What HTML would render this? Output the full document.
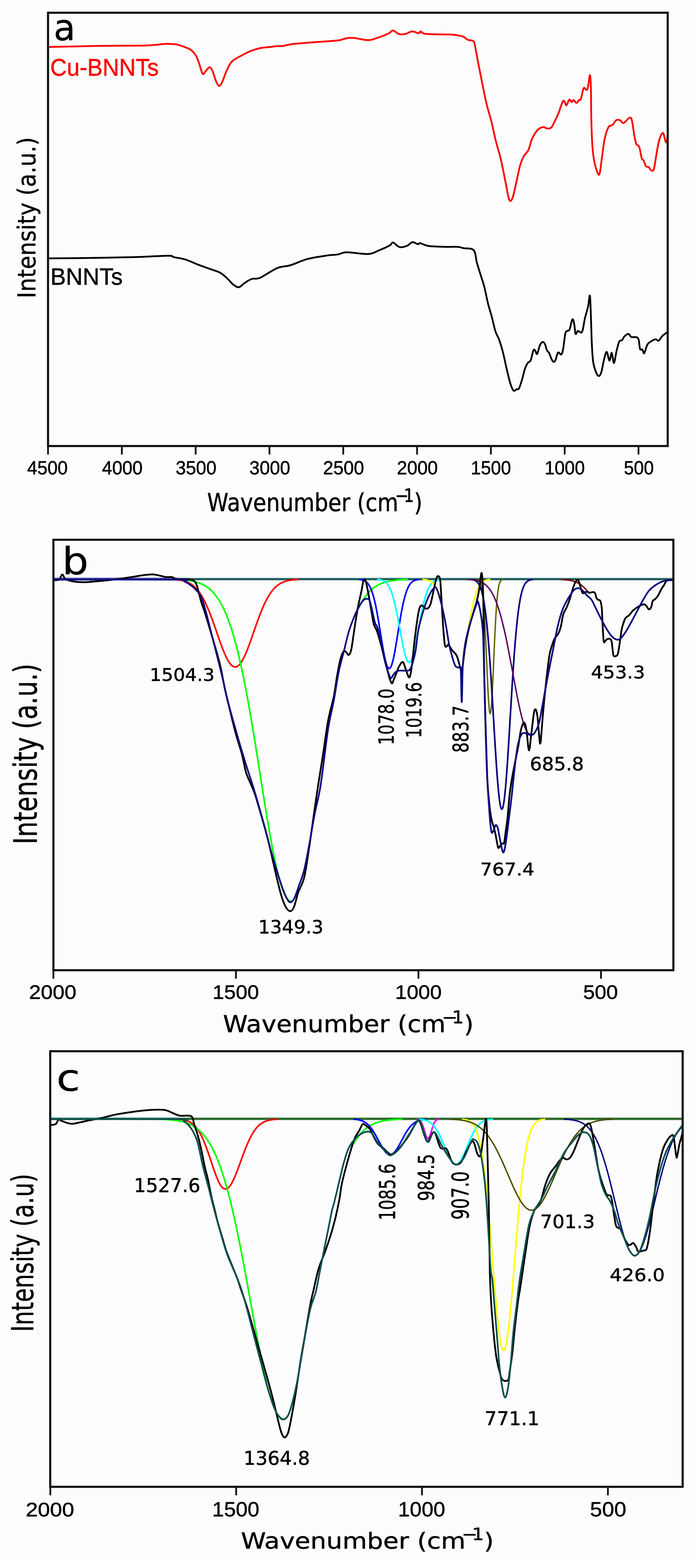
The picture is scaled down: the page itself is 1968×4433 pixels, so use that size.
<!DOCTYPE html><html><head><meta charset="utf-8"><title>FTIR spectra of BNNTs and Cu-BNNTs</title>
<style>html,body{margin:0;padding:0;background:#fff;}body{width:1968px;height:4433px;overflow:hidden;}svg{display:block;}</style></head><body>
<svg width="1968" height="4433" viewBox="0 0 1968 4433">
<rect x="8" y="2" width="1960" height="4414" fill="#fdfdfd"/>
<g fill="none" stroke-linejoin="round" stroke-linecap="round">
<path d="M136,132.8C146.7,132.6 172.7,132.1 200,131.5C227.3,130.9 266.7,129.9 300,129.5C333.3,129.1 377.5,129.4 400,129C422.5,128.6 423.3,128 435,127.2C446.7,126.4 459.5,124.3 470,124C480.5,123.7 489.3,124 498,125.5C506.7,127 515.4,130.4 522.4,133C529.4,135.6 534.8,137.2 540,141.2C545.2,145.2 550,150.9 553.8,157C557.6,163.1 559.4,169.4 562.6,178C565.8,186.6 569.8,204.9 573,208.7C576.2,212.5 578.6,203.7 581.8,200.6C585,197.5 589.1,190 592.3,190C595.5,190 598.1,194.5 601,200.6C603.9,206.7 606.9,219.8 609.8,226.8C612.7,233.8 615.6,241.4 618.5,242.6C621.4,243.8 623.5,241.1 627.3,233.8C631.1,226.5 636.6,208.8 641.3,198.9C645.9,189 648.8,181.1 655.2,174.4C661.6,167.7 671,163.6 679.7,158.7C688.5,153.8 698.4,148.5 707.7,144.7C717,140.9 725.8,138.1 735.7,136C745.6,133.9 759.6,133.3 767,132.4C774.4,131.5 774.5,131.2 780,130.8C785.5,130.4 791.3,130.8 800,129.7C808.7,128.6 813.9,126 832.4,124C850.9,122 890,119.4 911,117.7C932,116 946.9,115.6 958.3,114C969.7,112.4 972.3,109.3 979.3,108.2C986.3,107.1 989.7,106.3 1000.2,107.2C1010.7,108.1 1030,113.9 1042.2,113.5C1054.5,113.1 1064.1,107.8 1073.7,104.6C1083.3,101.3 1093.6,97.1 1099.9,94C1106.2,90.9 1106.6,85.8 1111.4,86.2C1116.2,86.7 1122.8,95.1 1128.7,96.7C1134.6,98.3 1140.9,97 1147,95.7C1153.1,94.4 1159.3,89.1 1165.4,88.8C1171.5,88.5 1179.9,94 1183.8,94C1187.7,94 1186.4,88.6 1189,88.8C1191.6,89 1193.4,93.8 1199.5,95.1C1205.6,96.4 1212.6,96.2 1225.7,96.7C1238.8,97.2 1266,97.1 1278.2,97.8C1290.4,98.5 1293.7,99.9 1299.1,100.9C1304.5,102 1306.4,102.1 1310.5,104.1C1314.6,106.1 1319.2,110.9 1323.6,112.8C1328,114.7 1333.6,113.4 1336.7,115.4C1339.8,117.4 1339.4,113.9 1342,124.6C1344.6,135.3 1349,161.8 1352.5,179.7C1356,197.6 1359,212.9 1362.9,232.1C1366.8,251.3 1371.7,276.6 1376.1,295C1380.5,313.4 1384.8,324.8 1389.2,342.3C1393.6,359.8 1397.9,382.5 1402.3,400C1406.7,417.5 1411,428.8 1415.4,447.2C1419.8,465.6 1424.8,491.8 1428.5,510.1C1432.2,528.5 1435.2,547.6 1437.7,557.3C1440.2,567 1441.5,568.7 1443.7,568.3C1445.9,567.9 1448.1,563.5 1450.8,554.7C1453.5,545.9 1456.7,529.8 1460,515.4C1463.3,501 1467,480.4 1470.5,468.1C1474,455.9 1477.1,449.2 1481,441.9C1484.9,434.5 1490.2,432.3 1494.1,424C1498,415.7 1500.2,401.6 1504.6,392.1C1509,382.6 1515.1,372.7 1520.3,367.2C1525.5,361.7 1531.6,360 1536,359.3C1540.4,358.6 1543,362.8 1546.5,363.2C1550,363.6 1554.4,363.2 1557,361.9C1559.6,360.6 1559.7,360 1562.3,355.4C1564.9,350.8 1569.8,340.6 1572.8,334.4C1575.8,328.2 1577.9,323.6 1580,318.2C1582.1,312.8 1583.4,307.4 1585.4,302C1587.4,296.6 1590.4,288.2 1592.2,285.7C1594,283.2 1594.7,285 1596.3,287C1597.9,289 1599.5,298.8 1601.7,297.9C1604,297 1607.3,283.2 1609.8,281.6C1612.3,280 1614.6,288.2 1616.6,288.4C1618.6,288.6 1619.8,282.6 1622,283C1624.2,283.4 1627.6,291.1 1630.1,291.1C1632.6,291.1 1634.9,284.8 1636.9,283C1638.9,281.2 1640,285.9 1642.3,280.3C1644.6,274.7 1647.8,253.4 1650.5,249.1C1653.2,244.8 1656.6,255.2 1658.6,254.5C1660.6,253.8 1661.1,252.1 1662.7,245C1664.3,237.9 1666.8,211.5 1668.1,212C1669.4,212.5 1670.1,226 1670.8,247.8C1671.5,269.6 1671.4,315.5 1672.1,342.6C1672.8,369.7 1673.5,391.4 1674.9,410.4C1676.3,429.4 1677.6,442.8 1680.3,456.4C1683,469.9 1688.4,486.7 1691.1,491.7C1693.8,496.7 1694.7,493.9 1696.5,486.2C1698.3,478.5 1699.7,461.4 1702,445.6C1704.3,429.8 1706.9,405.8 1710.1,391.4C1713.2,376.9 1717.3,365.2 1720.9,358.9C1724.5,352.6 1728.2,356.6 1731.8,353.4C1735.4,350.2 1739,342.1 1742.6,339.9C1746.2,337.6 1750.2,338.5 1753.4,339.9C1756.6,341.2 1758.9,347.6 1761.6,348C1764.3,348.4 1767,344.9 1769.7,342.6C1772.4,340.4 1775.1,335.4 1777.8,334.5C1780.5,333.6 1783.3,328.6 1786,337.2C1788.7,345.8 1791.8,374.3 1794.1,386C1796.3,397.7 1797.2,402.6 1799.5,407.6C1801.8,412.6 1805.1,409.2 1807.6,415.8C1810.1,422.4 1812.4,440.6 1814.4,446.9C1816.4,453.2 1817.8,449.8 1819.8,453.7C1821.8,457.6 1824.1,466.8 1826.6,470C1829.1,473.2 1832.4,470.9 1834.7,472.7C1837,474.5 1837.9,479.7 1840.2,480.8C1842.5,481.9 1845.8,485.8 1848.3,479.5C1850.8,473.2 1852.8,455.3 1855.1,442.9C1857.3,430.5 1859.5,414.8 1861.8,404.9C1864,395 1866.3,388 1868.6,383.3C1870.9,378.6 1873.4,374.2 1875.4,376.5C1877.4,378.8 1879.2,392.5 1880.8,396.8C1882.4,401.1 1883.8,404.9 1884.9,402.2C1886,399.5 1887.1,384.1 1887.6,380.5" stroke="#ff0000" stroke-width="5.0"/>
<path d="M136,730.5C161.2,730.2 244.6,729.5 287.3,728.8C330,728.1 360.7,727.5 392.2,726.5C423.7,725.5 459.5,722.8 476.1,722.9C492.7,723 483.9,725.4 491.8,727.1C499.7,728.9 511.9,729.9 523.3,733.4C534.7,736.9 548.6,743.7 560,748.1C571.4,752.5 581,755.8 591.5,759.6C602,763.5 614.2,766.4 622.9,771.2C631.6,776 637.8,782.9 643.9,788.5C650,794.1 654.4,800.7 659.6,804.6C664.9,808.5 670.1,812.8 675.4,812.1C680.6,811.4 685,804.4 691.1,800.5C697.2,796.6 704.8,791 712.1,788.5C719.4,786 723.1,790.6 735.1,785.5C747.1,780.4 769.7,763.8 784,757.9C798.3,752 806.5,754.3 820.8,750C835.1,745.7 852.4,736.8 869.7,732.2C887,727.6 910.5,724.5 924.8,722.4C939.1,720.3 946.2,720.9 955.4,719.4C964.6,717.9 965.6,713.4 979.9,713.2C994.2,713 1025.8,719 1041.1,718.1C1056.4,717.2 1061.5,711.8 1071.7,707.7C1081.9,703.6 1095.7,697.4 1102.3,693.7C1108.9,690 1106.9,684.9 1111.5,685.7C1116.1,686.5 1123.2,697.1 1129.8,698.6C1136.4,700.1 1145.1,697.2 1151.2,694.9C1157.3,692.5 1161.4,685.2 1166.5,684.5C1171.6,683.8 1178.2,690.1 1181.8,690.6C1185.4,691.1 1182.9,686.7 1188,687.5C1193.1,688.3 1200.2,693.8 1212.4,695.5C1224.6,697.2 1247.6,697.5 1261.4,697.9C1275.2,698.3 1286.8,697.3 1295,697.9C1303.2,698.5 1302.9,700.1 1310.3,701.6C1317.7,703.1 1332.8,700.2 1339.2,707C1345.6,713.8 1345.1,730.9 1348.4,742.5C1351.7,754.1 1355.3,765.1 1358.8,776.5C1362.3,787.9 1365.8,797.1 1369.3,810.6C1372.8,824.1 1376.3,843.8 1379.8,857.8C1383.3,871.8 1386.8,881.5 1390.3,894.6C1393.8,907.7 1397.3,925.6 1400.8,936.5C1404.3,947.4 1407.8,950.4 1411.3,960.1C1414.8,969.8 1418.3,981 1421.8,994.6C1425.3,1008.2 1428.8,1026.6 1432.3,1041.4C1435.8,1056.2 1439.5,1072.9 1442.8,1083.4C1446.1,1093.9 1449,1101.6 1452,1104.4C1455,1107.2 1458.5,1101.5 1461.1,1100.4C1463.7,1099.3 1465.1,1102.8 1467.7,1097.8C1470.3,1092.8 1474.1,1079.7 1476.9,1070.3C1479.7,1060.9 1482.1,1048.8 1484.7,1041.4C1487.3,1034 1490,1029.4 1492.6,1025.7C1495.2,1022 1497.9,1025 1500.5,1019.1C1503.1,1013.2 1506.1,994.9 1508.3,990.3C1510.5,985.7 1511.8,989.9 1513.6,991.6C1515.3,993.4 1516.6,1003.4 1518.8,1000.8C1521,998.2 1524.1,981.6 1526.7,975.9C1529.3,970.2 1532.2,967.2 1534.6,966.7C1537,966.2 1539.1,969.3 1541.1,973.2C1543.1,977.1 1544.4,986.1 1546.4,990.3C1548.4,994.5 1550.7,994.1 1552.9,998.2C1555.1,1002.4 1557.3,1011.1 1559.5,1015.2C1561.7,1019.4 1564,1022.9 1566,1023.1C1568,1023.3 1569.3,1020.9 1571.3,1016.5C1573.3,1012.1 1575.2,999.2 1577.8,996.8C1580.4,994.4 1584.6,1003.8 1587,1002.1C1589.4,1000.4 1590.3,996.5 1592.3,986.4C1594.3,976.3 1596.6,950.3 1598.8,941.8C1601,933.3 1603.4,937 1605.4,935.2C1607.4,933.5 1608.4,936.7 1610.6,931.3C1612.8,925.9 1616.2,905.4 1618.4,902.9C1620.6,900.4 1622.1,909.2 1623.6,916.1C1625.1,923 1625.8,940.7 1627.5,944C1629.2,947.3 1631,936.7 1634.1,935.7C1637.2,934.8 1642.6,944.2 1645.9,938.3C1649.2,932.4 1651,912.3 1653.8,900.3C1656.6,888.3 1660.5,876.9 1662.9,866.2C1665.3,855.5 1666.7,831.6 1668,836C1669.3,840.4 1669.9,870 1670.8,892.5C1671.7,915 1672.3,949.2 1673.4,971.1C1674.5,993 1675.2,1010 1677.4,1024C1679.6,1038 1683.7,1048.5 1686.5,1055C1689.3,1061.5 1692,1063.8 1694.4,1062.9C1696.8,1062 1698.8,1057.2 1701,1049.8C1703.2,1042.4 1705.1,1027.5 1707.5,1018.3C1709.9,1009.1 1712.8,994.5 1715.4,994.7C1718,994.9 1720.9,1019.2 1723.3,1019.6C1725.7,1020 1727.7,996.3 1729.8,997.4C1731.9,998.5 1733.7,1026.7 1735.9,1026.2C1738.1,1025.8 1740.4,1004.8 1742.9,994.7C1745.4,984.7 1748.2,971.4 1750.8,965.9C1753.4,960.4 1756.3,964.4 1758.7,962C1761.1,959.6 1762.2,954.5 1765.2,951.5C1768.2,948.5 1773.7,943.8 1777,944C1780.3,944.2 1781.2,951.2 1784.9,952.8C1788.6,954.3 1795.8,952 1799.3,953.3C1802.8,954.6 1804.2,955 1805.9,960.6C1807.7,966.2 1808,982.3 1809.8,986.9C1811.5,991.5 1814.4,986.2 1816.4,988.2C1818.4,990.2 1819.2,1001.1 1821.6,998.7C1824,996.3 1827.1,979.7 1830.8,973.8C1834.5,967.9 1840,965.7 1843.9,963.3C1847.8,960.9 1851.3,959.3 1854.4,959.3C1857.5,959.3 1859.2,964.8 1862.3,963.3C1865.4,961.8 1868.9,954 1872.8,950.1C1876.7,946.2 1883.7,941.4 1885.9,939.7" stroke="#000" stroke-width="5.0"/>
</g>
<rect x="135.8" y="36" width="1752.2" height="1225" fill="none" stroke="#111" stroke-width="6"/>
<line x1="135.8" y1="1261" x2="135.8" y2="1285" stroke="#111" stroke-width="5"/><line x1="344.5" y1="1261" x2="344.5" y2="1285" stroke="#111" stroke-width="5"/><line x1="553.2" y1="1261" x2="553.2" y2="1285" stroke="#111" stroke-width="5"/><line x1="761.9" y1="1261" x2="761.9" y2="1285" stroke="#111" stroke-width="5"/><line x1="970.6" y1="1261" x2="970.6" y2="1285" stroke="#111" stroke-width="5"/><line x1="1179.3" y1="1261" x2="1179.3" y2="1285" stroke="#111" stroke-width="5"/><line x1="1388" y1="1261" x2="1388" y2="1285" stroke="#111" stroke-width="5"/><line x1="1596.7" y1="1261" x2="1596.7" y2="1285" stroke="#111" stroke-width="5"/><line x1="1805.4" y1="1261" x2="1805.4" y2="1285" stroke="#111" stroke-width="5"/>
<line x1="151" y1="1634.9" x2="1904" y2="1634.9" stroke="#5a9a9a" stroke-width="3"/>
<line x1="151" y1="1640.6" x2="1904" y2="1640.6" stroke="#a9caca" stroke-width="3"/>
<line x1="151" y1="1637.6" x2="1904" y2="1637.6" stroke="#043636" stroke-width="3.2"/>
<line x1="151" y1="1635" x2="505" y2="1635" stroke="#5a5ab4" stroke-width="3.4"/>
<line x1="151" y1="1640.6" x2="505" y2="1640.6" stroke="#bcbce0" stroke-width="2.6"/>
<g fill="none" stroke-linejoin="round" stroke-linecap="round">
<polyline points="486.8,1638.2 487.8,1638.2 488.8,1638.3 489.8,1638.4 490.8,1638.4 491.8,1638.5 492.8,1638.5 493.8,1638.6 494.8,1638.7 495.8,1638.7 496.8,1638.8 497.8,1638.9 498.8,1639 499.8,1639.1 500.8,1639.2 501.8,1639.3 502.8,1639.4 503.8,1639.5 504.8,1639.7 505.8,1639.8 506.8,1639.9 507.8,1640.1 508.8,1640.2 509.8,1640.4 510.8,1640.6 511.8,1640.7 512.8,1640.9 513.8,1641.1 514.8,1641.3 515.8,1641.5 516.8,1641.8 517.8,1642 518.8,1642.3 519.8,1642.5 520.8,1642.8 521.8,1643.1 522.8,1643.4 523.8,1643.7 524.8,1644.1 525.8,1644.4 526.8,1644.8 527.8,1645.1 528.8,1645.5 529.8,1646 530.8,1646.4 531.8,1646.8 532.8,1647.3 533.8,1647.8 534.8,1648.3 535.8,1648.8 536.3,1649.1 536.8,1649.4 537.3,1649.7 537.8,1650 538.3,1650.3 538.8,1650.6 539.3,1650.9 539.8,1651.2 540.3,1651.5 540.8,1651.8 541.3,1652.2 541.8,1652.5 542.3,1652.8 542.8,1653.2 543.3,1653.6 543.8,1653.9 544.3,1654.3 544.8,1654.7 545.3,1655.1 545.8,1655.4 546.3,1655.8 546.8,1656.2 547.3,1656.7 547.8,1657.1 548.3,1657.5 548.8,1657.9 549.3,1658.4 549.8,1658.8 550.3,1659.3 550.8,1659.8 551.3,1660.2 551.8,1660.7 552.3,1661.2 552.8,1661.7 553.3,1662.2 553.8,1662.7 554.3,1663.3 554.8,1663.8 555.3,1664.3 555.8,1664.9 556.3,1665.4 556.8,1666 557.3,1666.6 557.8,1667.2 558.3,1667.7 558.8,1668.3 559.3,1669 559.8,1669.6 560.3,1670.2 560.8,1670.8 561.3,1671.5 561.8,1672.1 562.3,1672.8 562.8,1673.5 563.3,1674.2 563.8,1674.9 564.3,1675.6 564.8,1676.3 565.3,1677 565.8,1677.7 566.3,1678.5 566.8,1679.2 567.3,1680 567.8,1680.8 568.3,1681.5 568.8,1682.3 569.3,1683.1 569.8,1684 570.3,1684.8 570.8,1685.6 571.3,1686.5 571.8,1687.3 572.3,1688.2 572.8,1689 573.3,1689.9 573.8,1690.8 574.3,1691.7 574.8,1692.6 575.3,1693.6 575.8,1694.5 576.3,1695.4 576.8,1696.4 577.3,1697.4 577.8,1698.3 578.3,1699.3 578.8,1700.3 579.3,1701.3 579.8,1702.3 580.3,1703.4 580.8,1704.4 581.3,1705.5 581.8,1706.5 582.3,1707.6 582.8,1708.7 583.3,1709.7 583.8,1710.8 584.3,1711.9 584.8,1713.1 585.3,1714.2 585.8,1715.3 586.3,1716.5 586.8,1717.6 587.3,1718.8 587.8,1719.9 588.3,1721.1 588.8,1722.3 589.3,1723.5 589.8,1724.7 590.3,1725.9 590.8,1727.2 591.3,1728.4 591.8,1729.6 592.3,1730.9 592.8,1732.2 593.3,1733.4 593.8,1734.7 594.3,1736 594.8,1737.3 595.3,1738.6 595.8,1739.9 596.3,1741.2 596.8,1742.5 597.3,1743.8 597.8,1745.2 598.3,1746.5 598.8,1747.9 599.3,1749.2 599.8,1750.6 600.3,1751.9 600.8,1753.3 601.3,1754.7 601.8,1756.1 602.3,1757.5 602.8,1758.8 603.3,1760.2 603.8,1761.6 604.3,1763.1 604.8,1764.5 605.3,1765.9 605.8,1767.3 606.3,1768.7 606.8,1770.1 607.3,1771.6 607.8,1773 608.3,1774.4 608.8,1775.9 609.3,1777.3 609.8,1778.8 610.3,1780.2 610.8,1781.6 611.3,1783.1 611.8,1784.5 612.3,1786 612.8,1787.4 613.3,1788.9 613.8,1790.3 614.3,1791.8 614.8,1793.2 615.3,1794.6 615.8,1796.1 616.3,1797.5 616.8,1799 617.3,1800.4 617.8,1801.8 618.3,1803.3 618.8,1804.7 619.3,1806.1 619.8,1807.6 620.3,1809 620.8,1810.4 621.3,1811.8 621.8,1813.2 622.3,1814.6 622.8,1816 623.3,1817.4 623.8,1818.8 624.3,1820.1 624.8,1821.5 625.3,1822.9 625.8,1824.2 626.3,1825.6 626.8,1826.9 627.3,1828.3 627.8,1829.6 628.3,1830.9 628.8,1832.2 629.3,1833.5 629.8,1834.8 630.3,1836.1 630.8,1837.3 631.3,1838.6 631.8,1839.8 632.3,1841.1 632.8,1842.3 633.3,1843.5 633.8,1844.7 634.3,1845.9 634.8,1847.1 635.3,1848.2 635.8,1849.4 636.3,1850.5 636.8,1851.6 637.3,1852.8 637.8,1853.9 638.3,1854.9 638.8,1856 639.3,1857 639.8,1858.1 640.3,1859.1 640.8,1860.1 641.3,1861.1 641.8,1862.1 642.3,1863 642.8,1863.9 643.3,1864.9 643.8,1865.8 644.3,1866.7 644.8,1867.5 645.3,1868.4 645.8,1869.2 646.3,1870 646.8,1870.8 647.3,1871.6 647.8,1872.3 648.3,1873.1 648.8,1873.8 649.3,1874.5 649.8,1875.2 650.3,1875.8 650.8,1876.5 651.3,1877.1 651.8,1877.7 652.3,1878.2 652.8,1878.8 653.3,1879.3 653.8,1879.8 654.3,1880.3 654.8,1880.8 655.3,1881.2 655.8,1881.7 656.3,1882.1 656.8,1882.5 657.3,1882.8 657.8,1883.2 658.3,1883.5 658.8,1883.8 659.3,1884 659.8,1884.3 660.3,1884.5 660.8,1884.7 661.3,1884.9 661.8,1885 662.3,1885.2 662.8,1885.3 663.3,1885.4 663.8,1885.4 664.3,1885.5 664.8,1885.5 665.3,1885.5 665.8,1885.5 666.3,1885.4 666.8,1885.3 667.3,1885.3 667.8,1885.1 668.3,1885 668.8,1884.8 669.3,1884.6 669.8,1884.4 670.3,1884.2 670.8,1883.9 671.3,1883.7 671.8,1883.4 672.3,1883.1 672.8,1882.7 673.3,1882.3 673.8,1882 674.3,1881.5 674.8,1881.1 675.3,1880.7 675.8,1880.2 676.3,1879.7 676.8,1879.2 677.3,1878.6 677.8,1878.1 678.3,1877.5 678.8,1876.9 679.3,1876.3 679.8,1875.6 680.3,1875 680.8,1874.3 681.3,1873.6 681.8,1872.8 682.3,1872.1 682.8,1871.3 683.3,1870.6 683.8,1869.8 684.3,1868.9 684.8,1868.1 685.3,1867.3 685.8,1866.4 686.3,1865.5 686.8,1864.6 687.3,1863.7 687.8,1862.7 688.3,1861.8 688.8,1860.8 689.3,1859.8 689.8,1858.8 690.3,1857.8 690.8,1856.7 691.3,1855.7 691.8,1854.6 692.3,1853.5 692.8,1852.4 693.3,1851.3 693.8,1850.2 694.3,1849 694.8,1847.9 695.3,1846.7 695.8,1845.5 696.3,1844.3 696.8,1843.1 697.3,1841.9 697.8,1840.7 698.3,1839.5 698.8,1838.2 699.3,1836.9 699.8,1835.7 700.3,1834.4 700.8,1833.1 701.3,1831.8 701.8,1830.5 702.3,1829.2 702.8,1827.8 703.3,1826.5 703.8,1825.2 704.3,1823.8 704.8,1822.5 705.3,1821.1 705.8,1819.7 706.3,1818.3 706.8,1817 707.3,1815.6 707.8,1814.2 708.3,1812.8 708.8,1811.4 709.3,1809.9 709.8,1808.5 710.3,1807.1 710.8,1805.7 711.3,1804.3 711.8,1802.8 712.3,1801.4 712.8,1800 713.3,1798.5 713.8,1797.1 714.3,1795.6 714.8,1794.2 715.3,1792.8 715.8,1791.3 716.3,1789.9 716.8,1788.4 717.3,1787 717.8,1785.5 718.3,1784.1 718.8,1782.6 719.3,1781.2 719.8,1779.7 720.3,1778.3 720.8,1776.9 721.3,1775.4 721.8,1774 722.3,1772.6 722.8,1771.1 723.3,1769.7 723.8,1768.3 724.3,1766.9 724.8,1765.4 725.3,1764 725.8,1762.6 726.3,1761.2 726.8,1759.8 727.3,1758.4 727.8,1757 728.3,1755.6 728.8,1754.3 729.3,1752.9 729.8,1751.5 730.3,1750.2 730.8,1748.8 731.3,1747.4 731.8,1746.1 732.3,1744.8 732.8,1743.4 733.3,1742.1 733.8,1740.8 734.3,1739.5 734.8,1738.2 735.3,1736.9 735.8,1735.6 736.3,1734.3 736.8,1733 737.3,1731.8 737.8,1730.5 738.3,1729.3 738.8,1728 739.3,1726.8 739.8,1725.6 740.3,1724.4 740.8,1723.1 741.3,1722 741.8,1720.8 742.3,1719.6 742.8,1718.4 743.3,1717.3 743.8,1716.1 744.3,1715 744.8,1713.8 745.3,1712.7 745.8,1711.6 746.3,1710.5 746.8,1709.4 747.3,1708.3 747.8,1707.2 748.3,1706.2 748.8,1705.1 749.3,1704.1 749.8,1703.1 750.3,1702 750.8,1701 751.3,1700 751.8,1699 752.3,1698 752.8,1697.1 753.3,1696.1 753.8,1695.2 754.3,1694.2 754.8,1693.3 755.3,1692.4 755.8,1691.4 756.3,1690.5 756.8,1689.7 757.3,1688.8 757.8,1687.9 758.3,1687 758.8,1686.2 759.3,1685.4 759.8,1684.5 760.3,1683.7 760.8,1682.9 761.3,1682.1 761.8,1681.3 762.3,1680.5 762.8,1679.8 763.3,1679 763.8,1678.2 764.3,1677.5 764.8,1676.8 765.3,1676.1 765.8,1675.3 766.3,1674.6 766.8,1674 767.3,1673.3 767.8,1672.6 768.3,1671.9 768.8,1671.3 769.3,1670.6 769.8,1670 770.3,1669.4 770.8,1668.8 771.3,1668.2 771.8,1667.6 772.3,1667 772.8,1666.4 773.3,1665.8 773.8,1665.3 774.3,1664.7 774.8,1664.2 775.3,1663.6 775.8,1663.1 776.3,1662.6 776.8,1662.1 777.3,1661.6 777.8,1661.1 778.3,1660.6 778.8,1660.1 779.3,1659.6 779.8,1659.2 780.3,1658.7 780.8,1658.3 781.3,1657.8 781.8,1657.4 782.3,1657 782.8,1656.5 783.3,1656.1 783.8,1655.7 784.3,1655.3 784.8,1654.9 785.3,1654.6 785.8,1654.2 786.3,1653.8 786.8,1653.4 787.3,1653.1 787.8,1652.7 788.3,1652.4 788.8,1652.1 789.3,1651.7 789.8,1651.4 790.3,1651.1 790.8,1650.8 791.3,1650.5 791.8,1650.2 792.3,1649.9 792.8,1649.6 793.3,1649.3 793.8,1649 794.3,1648.8 794.8,1648.5 795.3,1648.2 796.3,1647.7 797.3,1647.2 798.3,1646.8 799.3,1646.3 800.3,1645.9 801.3,1645.5 802.3,1645.1 803.3,1644.7 804.3,1644.3 805.3,1644 806.3,1643.7 807.3,1643.4 808.3,1643.1 809.3,1642.8 810.3,1642.5 811.3,1642.2 812.3,1642 813.3,1641.7 814.3,1641.5 815.3,1641.3 816.3,1641.1 817.3,1640.9 818.3,1640.7 819.3,1640.5 820.3,1640.4 821.3,1640.2 822.3,1640.1 823.3,1639.9 824.3,1639.8 825.3,1639.6 826.3,1639.5 827.3,1639.4 828.3,1639.3 829.3,1639.2 830.3,1639.1 831.3,1639 832.3,1638.9 833.3,1638.8 834.3,1638.7 835.3,1638.7 836.3,1638.6 837.3,1638.5 838.3,1638.5 839.3,1638.4 840.3,1638.3 841.3,1638.3 842.3,1638.2" stroke="#ff0000" stroke-width="4.6"/>
<polyline points="493.1,1638.2 494.1,1638.2 495.1,1638.3 496.1,1638.3 497.1,1638.3 498.1,1638.4 499.1,1638.4 500.1,1638.4 501.1,1638.5 502.1,1638.5 503.1,1638.6 504.1,1638.6 505.1,1638.7 506.1,1638.7 507.1,1638.8 508.1,1638.8 509.1,1638.9 510.1,1638.9 511.1,1639 512.1,1639.1 513.1,1639.1 514.1,1639.2 515.1,1639.3 516.1,1639.3 517.1,1639.4 518.1,1639.5 519.1,1639.6 520.1,1639.7 521.1,1639.7 522.1,1639.8 523.1,1639.9 524.1,1640 525.1,1640.1 526.1,1640.2 527.1,1640.3 528.1,1640.5 529.1,1640.6 530.1,1640.7 531.1,1640.8 532.1,1641 533.1,1641.1 534.1,1641.2 535.1,1641.4 536.1,1641.5 537.1,1641.7 538.1,1641.8 539.1,1642 540.1,1642.2 541.1,1642.4 542.1,1642.5 543.1,1642.7 544.1,1642.9 545.1,1643.1 546.1,1643.3 547.1,1643.6 548.1,1643.8 549.1,1644 550.1,1644.3 551.1,1644.5 552.1,1644.8 553.1,1645 554.1,1645.3 555.1,1645.6 556.1,1645.9 557.1,1646.2 558.1,1646.5 559.1,1646.8 560.1,1647.1 561.1,1647.5 562.1,1647.8 563.1,1648.2 564.1,1648.5 565.1,1648.9 566.1,1649.3 567.1,1649.7 568.1,1650.1 569.1,1650.6 570.1,1651 571.1,1651.5 572.1,1651.9 573.1,1652.4 574.1,1652.9 575.1,1653.4 576.1,1654 577.1,1654.5 578.1,1655.1 579.1,1655.6 580.1,1656.2 581.1,1656.8 582.1,1657.5 583.1,1658.1 584.1,1658.8 585.1,1659.4 586.1,1660.1 587.1,1660.9 588.1,1661.6 589.1,1662.4 590.1,1663.1 591.1,1663.9 592.1,1664.8 593.1,1665.6 594.1,1666.5 595.1,1667.3 596.1,1668.2 597.1,1669.2 598.1,1670.1 599.1,1671.1 600.1,1672.1 601.1,1673.1 602.1,1674.2 603.1,1675.3 604.1,1676.4 605.1,1677.5 605.6,1678.1 606.1,1678.7 606.6,1679.3 607.1,1679.9 607.6,1680.5 608.1,1681.1 608.6,1681.7 609.1,1682.4 609.6,1683 610.1,1683.6 610.6,1684.3 611.1,1685 611.6,1685.6 612.1,1686.3 612.6,1687 613.1,1687.7 613.6,1688.4 614.1,1689.1 614.6,1689.8 615.1,1690.5 615.6,1691.2 616.1,1692 616.6,1692.7 617.1,1693.5 617.6,1694.2 618.1,1695 618.6,1695.8 619.1,1696.6 619.6,1697.4 620.1,1698.2 620.6,1699 621.1,1699.8 621.6,1700.7 622.1,1701.5 622.6,1702.4 623.1,1703.2 623.6,1704.1 624.1,1705 624.6,1705.9 625.1,1706.8 625.6,1707.7 626.1,1708.6 626.6,1709.5 627.1,1710.5 627.6,1711.4 628.1,1712.4 628.6,1713.3 629.1,1714.3 629.6,1715.3 630.1,1716.3 630.6,1717.3 631.1,1718.3 631.6,1719.3 632.1,1720.4 632.6,1721.4 633.1,1722.5 633.6,1723.5 634.1,1724.6 634.6,1725.7 635.1,1726.8 635.6,1727.9 636.1,1729 636.6,1730.2 637.1,1731.3 637.6,1732.5 638.1,1733.6 638.6,1734.8 639.1,1736 639.6,1737.2 640.1,1738.4 640.6,1739.6 641.1,1740.9 641.6,1742.1 642.1,1743.4 642.6,1744.6 643.1,1745.9 643.6,1747.2 644.1,1748.5 644.6,1749.8 645.1,1751.2 645.6,1752.5 646.1,1753.8 646.6,1755.2 647.1,1756.6 647.6,1758 648.1,1759.4 648.6,1760.8 649.1,1762.2 649.6,1763.6 650.1,1765.1 650.6,1766.5 651.1,1768 651.6,1769.5 652.1,1771 652.6,1772.5 653.1,1774 653.6,1775.6 654.1,1777.1 654.6,1778.7 655.1,1780.2 655.6,1781.8 656.1,1783.4 656.6,1785 657.1,1786.7 657.6,1788.3 658.1,1789.9 658.6,1791.6 659.1,1793.3 659.6,1795 660.1,1796.7 660.6,1798.4 661.1,1800.1 661.6,1801.9 662.1,1803.6 662.6,1805.4 663.1,1807.2 663.6,1809 664.1,1810.8 664.6,1812.6 665.1,1814.4 665.6,1816.3 666.1,1818.1 666.6,1820 667.1,1821.9 667.6,1823.8 668.1,1825.7 668.6,1827.6 669.1,1829.6 669.6,1831.5 670.1,1833.5 670.6,1835.5 671.1,1837.5 671.6,1839.5 672.1,1841.5 672.6,1843.5 673.1,1845.6 673.6,1847.6 674.1,1849.7 674.6,1851.8 675.1,1853.9 675.6,1856 676.1,1858.1 676.6,1860.3 677.1,1862.4 677.6,1864.6 678.1,1866.8 678.6,1869 679.1,1871.2 679.6,1873.4 680.1,1875.6 680.6,1877.9 681.1,1880.1 681.6,1882.4 682.1,1884.7 682.6,1887 683.1,1889.3 683.6,1891.7 684.1,1894 684.6,1896.3 685.1,1898.7 685.6,1901.1 686.1,1903.5 686.6,1905.9 687.1,1908.3 687.6,1910.7 688.1,1913.2 688.6,1915.6 689.1,1918.1 689.6,1920.6 690.1,1923.1 690.6,1925.6 691.1,1928.1 691.6,1930.6 692.1,1933.2 692.6,1935.7 693.1,1938.3 693.6,1940.9 694.1,1943.4 694.6,1946 695.1,1948.7 695.6,1951.3 696.1,1953.9 696.6,1956.6 697.1,1959.2 697.6,1961.9 698.1,1964.6 698.6,1967.3 699.1,1970 699.6,1972.7 700.1,1975.4 700.6,1978.2 701.1,1980.9 701.6,1983.7 702.1,1986.5 702.6,1989.2 703.1,1992 703.6,1994.8 704.1,1997.6 704.6,2000.5 705.1,2003.3 705.6,2006.1 706.1,2009 706.6,2011.9 707.1,2014.7 707.6,2017.6 708.1,2020.5 708.6,2023.4 709.1,2026.3 709.6,2029.2 710.1,2032.2 710.6,2035.1 711.1,2038 711.6,2041 712.1,2044 712.6,2046.9 713.1,2049.9 713.6,2052.9 714.1,2055.9 714.6,2058.9 715.1,2061.9 715.6,2064.9 716.1,2067.9 716.6,2071 717.1,2074 717.6,2077.1 718.1,2080.1 718.6,2083.2 719.1,2086.2 719.6,2089.3 720.1,2092.4 720.6,2095.5 721.1,2098.5 721.6,2101.6 722.1,2104.7 722.6,2107.8 723.1,2110.9 723.6,2114.1 724.1,2117.2 724.6,2120.3 725.1,2123.4 725.6,2126.5 726.1,2129.7 726.6,2132.8 727.1,2136 727.6,2139.1 728.1,2142.3 728.6,2145.4 729.1,2148.6 729.6,2151.7 730.1,2154.9 730.6,2158 731.1,2161.2 731.6,2164.4 732.1,2167.5 732.6,2170.7 733.1,2173.9 733.6,2177 734.1,2180.2 734.6,2183.4 735.1,2186.5 735.6,2189.7 736.1,2192.9 736.6,2196.1 737.1,2199.2 737.6,2202.4 738.1,2205.6 738.6,2208.7 739.1,2211.9 739.6,2215.1 740.1,2218.2 740.6,2221.4 741.1,2224.6 741.6,2227.7 742.1,2230.9 742.6,2234 743.1,2237.2 743.6,2240.3 744.1,2243.5 744.6,2246.6 745.1,2249.7 745.6,2252.9 746.1,2256 746.6,2259.1 747.1,2262.2 747.6,2265.3 748.1,2268.5 748.6,2271.6 749.1,2274.6 749.6,2277.7 750.1,2280.8 750.6,2283.9 751.1,2287 751.6,2290 752.1,2293.1 752.6,2296.1 753.1,2299.2 753.6,2302.2 754.1,2305.2 754.6,2308.2 755.1,2311.2 755.6,2314.2 756.1,2317.2 756.6,2320.2 757.1,2323.2 757.6,2326.1 758.1,2329.1 758.6,2332 759.1,2335 759.6,2337.9 760.1,2340.8 760.6,2343.7 761.1,2346.6 761.6,2349.4 762.1,2352.3 762.6,2355.1 763.1,2358 763.6,2360.8 764.1,2363.6 764.6,2366.4 765.1,2369.2 765.6,2372 766.1,2374.7 766.6,2377.5 767.1,2380.2 767.6,2382.9 768.1,2385.6 768.6,2388.3 769.1,2391 769.6,2393.6 770.1,2396.3 770.6,2398.9 771.1,2401.5 771.6,2404.1 772.1,2406.6 772.6,2409.2 773.1,2411.7 773.6,2414.3 774.1,2416.8 774.6,2419.2 775.1,2421.7 775.6,2424.2 776.1,2426.6 776.6,2429 777.1,2431.4 777.6,2433.8 778.1,2436.1 778.6,2438.5 779.1,2440.8 779.6,2443.1 780.1,2445.3 780.6,2447.6 781.1,2449.8 781.6,2452.1 782.1,2454.2 782.6,2456.4 783.1,2458.6 783.6,2460.7 784.1,2462.8 784.6,2464.9 785.1,2467 785.6,2469 786.1,2471 786.6,2473 787.1,2475 787.6,2476.9 788.1,2478.9 788.6,2480.8 789.1,2482.6 789.6,2484.5 790.1,2486.3 790.6,2488.1 791.1,2489.9 791.6,2491.7 792.1,2493.4 792.6,2495.1 793.1,2496.8 793.6,2498.5 794.1,2500.1 794.6,2501.7 795.1,2503.3 795.6,2504.9 796.1,2506.4 796.6,2507.9 797.1,2509.4 797.6,2510.8 798.1,2512.2 798.6,2513.6 799.1,2515 799.6,2516.4 800.1,2517.7 800.6,2519 801.1,2520.2 801.6,2521.5 802.1,2522.7 802.6,2523.9 803.1,2525 803.6,2526.2 804.1,2527.3 804.6,2528.3 805.1,2529.4 805.6,2530.4 806.1,2531.4 806.6,2532.3 807.1,2533.3 807.6,2534.2 808.1,2535 808.6,2535.9 809.1,2536.7 809.6,2537.5 810.1,2538.2 810.6,2538.9 811.1,2539.6 811.6,2540.3 812.1,2541 812.6,2541.6 813.1,2542.1 813.6,2542.7 814.1,2543.2 814.6,2543.7 815.1,2544.2 815.6,2544.6 816.1,2545 816.6,2545.4 817.1,2545.7 817.6,2546 818.1,2546.3 818.6,2546.6 819.1,2546.8 819.6,2547 820.1,2547.1 820.6,2547.3 821.1,2547.4 821.6,2547.4 822.1,2547.5" stroke="#00ff00" stroke-width="4.6"/>
<polyline points="1012,1722.6 1012.5,1721.5 1013,1720.5 1013.5,1719.4 1014,1718.4 1014.5,1717.4 1015,1716.4 1015.5,1715.4 1016,1714.4 1016.5,1713.4 1017,1712.5 1017.5,1711.5 1018,1710.6 1018.5,1709.6 1019,1708.7 1019.5,1707.8 1020,1706.9 1020.5,1706 1021,1705.1 1021.5,1704.2 1022,1703.3 1022.5,1702.5 1023,1701.6 1023.5,1700.8 1024,1699.9 1024.5,1699.1 1025,1698.3 1025.5,1697.5 1026,1696.7 1026.5,1695.9 1027,1695.1 1027.5,1694.3 1028,1693.6 1028.5,1692.8 1029,1692.1 1029.5,1691.3 1030,1690.6 1030.5,1689.9 1031,1689.1 1031.5,1688.4 1032,1687.7 1032.5,1687.1 1033,1686.4 1033.5,1685.7 1034,1685 1034.5,1684.4 1035,1683.7 1035.5,1683.1 1036,1682.4 1036.5,1681.8 1037,1681.2 1037.5,1680.6 1038,1680 1038.5,1679.4 1039,1678.8 1039.5,1678.2 1040,1677.6 1040.5,1677 1041.5,1675.9 1042.5,1674.8 1043.5,1673.7 1044.5,1672.7 1045.5,1671.7 1046.5,1670.7 1047.5,1669.7 1048.5,1668.8 1049.5,1667.8 1050.5,1666.9 1051.5,1666.1 1052.5,1665.2 1053.5,1664.4 1054.5,1663.6 1055.5,1662.8 1056.5,1662 1057.5,1661.3 1058.5,1660.5 1059.5,1659.8 1060.5,1659.1 1061.5,1658.5 1062.5,1657.8 1063.5,1657.2 1064.5,1656.6 1065.5,1656 1066.5,1655.4 1067.5,1654.8 1068.5,1654.3 1069.5,1653.7 1070.5,1653.2 1071.5,1652.7 1072.5,1652.2 1073.5,1651.7 1074.5,1651.3 1075.5,1650.8 1076.5,1650.4 1077.5,1649.9 1078.5,1649.5 1079.5,1649.1 1080.5,1648.7 1081.5,1648.4 1082.5,1648 1083.5,1647.6 1084.5,1647.3 1085.5,1647 1086.5,1646.6 1087.5,1646.3 1088.5,1646 1089.5,1645.7 1090.5,1645.4 1091.5,1645.2 1092.5,1644.9 1093.5,1644.6 1094.5,1644.4 1095.5,1644.1 1096.5,1643.9 1097.5,1643.7 1098.5,1643.5 1099.5,1643.2 1100.5,1643 1101.5,1642.8 1102.5,1642.6 1103.5,1642.5 1104.5,1642.3 1105.5,1642.1 1106.5,1641.9 1107.5,1641.8 1108.5,1641.6 1109.5,1641.5 1110.5,1641.3 1111.5,1641.2 1112.5,1641 1113.5,1640.9 1114.5,1640.8 1115.5,1640.6 1116.5,1640.5 1117.5,1640.4 1118.5,1640.3 1119.5,1640.2 1120.5,1640.1 1121.5,1640 1122.5,1639.9 1123.5,1639.8 1124.5,1639.7 1125.5,1639.6 1126.5,1639.5 1127.5,1639.5 1128.5,1639.4 1129.5,1639.3 1130.5,1639.2 1131.5,1639.2 1132.5,1639.1 1133.5,1639 1134.5,1639 1135.5,1638.9 1136.5,1638.9 1137.5,1638.8 1138.5,1638.7 1139.5,1638.7 1140.5,1638.6 1141.5,1638.6 1142.5,1638.6 1143.5,1638.5 1144.5,1638.5 1145.5,1638.4 1146.5,1638.4 1147.5,1638.4 1148.5,1638.3 1149.5,1638.3 1150.5,1638.2 1151.5,1638.2" stroke="#00ff00" stroke-width="4.6"/>
<polyline points="1016.4,1638.2 1017.4,1638.3 1018.4,1638.4 1019.4,1638.6 1020.4,1638.7 1021.4,1638.9 1022.4,1639.1 1023.4,1639.3 1024.4,1639.5 1025.4,1639.8 1026.4,1640.1 1027.4,1640.5 1028.4,1640.8 1029.4,1641.3 1030.4,1641.7 1031.4,1642.2 1032.4,1642.8 1033.4,1643.5 1034.4,1644.2 1035.4,1644.9 1036.4,1645.8 1037.4,1646.7 1038.4,1647.7 1039.4,1648.8 1039.9,1649.4 1040.4,1650 1040.9,1650.6 1041.4,1651.3 1041.9,1652 1042.4,1652.7 1042.9,1653.5 1043.4,1654.2 1043.9,1655.1 1044.4,1655.9 1044.9,1656.8 1045.4,1657.7 1045.9,1658.6 1046.4,1659.6 1046.9,1660.6 1047.4,1661.7 1047.9,1662.8 1048.4,1663.9 1048.9,1665 1049.4,1666.2 1049.9,1667.5 1050.4,1668.8 1050.9,1670.1 1051.4,1671.5 1051.9,1672.9 1052.4,1674.3 1052.9,1675.8 1053.4,1677.4 1053.9,1678.9 1054.4,1680.6 1054.9,1682.3 1055.4,1684 1055.9,1685.7 1056.4,1687.6 1056.9,1689.4 1057.4,1691.3 1057.9,1693.3 1058.4,1695.3 1058.9,1697.3 1059.4,1699.4 1059.9,1701.6 1060.4,1703.8 1060.9,1706 1061.4,1708.3 1061.9,1710.6 1062.4,1713 1062.9,1715.4 1063.4,1717.9 1063.9,1720.4 1064.4,1722.9 1064.9,1725.5 1065.4,1728.1 1065.9,1730.8 1066.4,1733.5 1066.9,1736.2 1067.4,1739 1067.9,1741.8 1068.4,1744.7 1068.9,1747.5 1069.4,1750.5 1069.9,1753.4 1070.4,1756.4 1070.9,1759.4 1071.4,1762.4 1071.9,1765.4 1072.4,1768.5 1072.9,1771.5 1073.4,1774.6 1073.9,1777.7 1074.4,1780.8 1074.9,1783.9 1075.4,1787.1 1075.9,1790.2 1076.4,1793.3 1076.9,1796.4 1077.4,1799.5 1077.9,1802.7 1078.4,1805.8 1078.9,1808.8 1079.4,1811.9 1079.9,1815 1080.4,1818 1080.9,1821 1081.4,1824 1081.9,1826.9 1082.4,1829.8 1082.9,1832.7 1083.4,1835.6 1083.9,1838.3 1084.4,1841.1 1084.9,1843.8 1085.4,1846.5 1085.9,1849 1086.4,1851.6 1086.9,1854.1 1087.4,1856.5 1087.9,1858.8 1088.4,1861.1 1088.9,1863.3 1089.4,1865.5 1089.9,1867.5 1090.4,1869.5 1090.9,1871.4 1091.4,1873.3 1091.9,1875 1092.4,1876.7 1092.9,1878.2 1093.4,1879.7 1093.9,1881.1 1094.4,1882.4 1094.9,1883.5 1095.4,1884.6 1095.9,1885.6 1096.4,1886.5 1096.9,1887.3 1097.4,1888 1097.9,1888.6 1098.4,1889.1 1098.9,1889.5 1099.4,1889.8 1099.9,1889.9 1100.4,1890 1100.9,1890 1101.4,1889.8 1101.9,1889.6 1102.4,1889.2 1102.9,1888.8 1103.4,1888.2 1103.9,1887.5 1104.4,1886.8 1104.9,1885.9 1105.4,1885 1105.9,1883.9 1106.4,1882.7 1106.9,1881.5 1107.4,1880.1 1107.9,1878.7 1108.4,1877.1 1108.9,1875.5 1109.4,1873.8 1109.9,1872 1110.4,1870.1 1110.9,1868.1 1111.4,1866.1 1111.9,1864 1112.4,1861.8 1112.9,1859.5 1113.4,1857.2 1113.9,1854.8 1114.4,1852.3 1114.9,1849.8 1115.4,1847.2 1115.9,1844.6 1116.4,1841.9 1116.9,1839.2 1117.4,1836.4 1117.9,1833.6 1118.4,1830.7 1118.9,1827.8 1119.4,1824.9 1119.9,1821.9 1120.4,1818.9 1120.9,1815.9 1121.4,1812.8 1121.9,1809.8 1122.4,1806.7 1122.9,1803.6 1123.4,1800.5 1123.9,1797.4 1124.4,1794.2 1124.9,1791.1 1125.4,1788 1125.9,1784.9 1126.4,1781.8 1126.9,1778.6 1127.4,1775.5 1127.9,1772.5 1128.4,1769.4 1128.9,1766.3 1129.4,1763.3 1129.9,1760.3 1130.4,1757.3 1130.9,1754.3 1131.4,1751.3 1131.9,1748.4 1132.4,1745.5 1132.9,1742.7 1133.4,1739.9 1133.9,1737.1 1134.4,1734.3 1134.9,1731.6 1135.4,1728.9 1135.9,1726.3 1136.4,1723.7 1136.9,1721.1 1137.4,1718.6 1137.9,1716.1 1138.4,1713.7 1138.9,1711.3 1139.4,1709 1139.9,1706.7 1140.4,1704.4 1140.9,1702.2 1141.4,1700.1 1141.9,1698 1142.4,1695.9 1142.9,1693.9 1143.4,1691.9 1143.9,1690 1144.4,1688.1 1144.9,1686.3 1145.4,1684.5 1145.9,1682.8 1146.4,1681.1 1146.9,1679.4 1147.4,1677.8 1147.9,1676.3 1148.4,1674.8 1148.9,1673.3 1149.4,1671.9 1149.9,1670.5 1150.4,1669.2 1150.9,1667.9 1151.4,1666.6 1151.9,1665.4 1152.4,1664.2 1152.9,1663.1 1153.4,1662 1153.9,1660.9 1154.4,1659.9 1154.9,1658.9 1155.4,1658 1155.9,1657 1156.4,1656.2 1156.9,1655.3 1157.4,1654.5 1157.9,1653.7 1158.4,1652.9 1158.9,1652.2 1159.4,1651.5 1159.9,1650.8 1160.4,1650.2 1160.9,1649.6 1161.4,1649 1161.9,1648.4 1162.9,1647.3 1163.9,1646.4 1164.9,1645.5 1165.9,1644.6 1166.9,1643.9 1167.9,1643.2 1168.9,1642.6 1169.9,1642.1 1170.9,1641.6 1171.9,1641.1 1172.9,1640.7 1173.9,1640.3 1174.9,1640 1175.9,1639.7 1176.9,1639.4 1177.9,1639.2 1178.9,1639 1179.9,1638.8 1180.9,1638.7 1181.9,1638.5 1182.9,1638.4 1183.9,1638.3" stroke="#0000ff" stroke-width="4.6"/>
<polyline points="1068.3,1638.2 1069.3,1638.3 1070.3,1638.4 1071.3,1638.5 1072.3,1638.7 1073.3,1638.8 1074.3,1639 1075.3,1639.2 1076.3,1639.4 1077.3,1639.6 1078.3,1639.9 1079.3,1640.2 1080.3,1640.5 1081.3,1640.9 1082.3,1641.3 1083.3,1641.7 1084.3,1642.2 1085.3,1642.8 1086.3,1643.3 1087.3,1644 1088.3,1644.7 1089.3,1645.4 1090.3,1646.3 1091.3,1647.2 1092.3,1648.2 1092.8,1648.7 1093.3,1649.2 1093.8,1649.8 1094.3,1650.4 1094.8,1651 1095.3,1651.6 1095.8,1652.3 1096.3,1652.9 1096.8,1653.6 1097.3,1654.4 1097.8,1655.1 1098.3,1655.9 1098.8,1656.7 1099.3,1657.6 1099.8,1658.4 1100.3,1659.3 1100.8,1660.3 1101.3,1661.2 1101.8,1662.2 1102.3,1663.2 1102.8,1664.3 1103.3,1665.4 1103.8,1666.5 1104.3,1667.7 1104.8,1668.9 1105.3,1670.1 1105.8,1671.4 1106.3,1672.7 1106.8,1674 1107.3,1675.4 1107.8,1676.8 1108.3,1678.2 1108.8,1679.7 1109.3,1681.2 1109.8,1682.8 1110.3,1684.4 1110.8,1686 1111.3,1687.7 1111.8,1689.4 1112.3,1691.2 1112.8,1693 1113.3,1694.8 1113.8,1696.7 1114.3,1698.6 1114.8,1700.5 1115.3,1702.5 1115.8,1704.6 1116.3,1706.6 1116.8,1708.7 1117.3,1710.8 1117.8,1713 1118.3,1715.2 1118.8,1717.5 1119.3,1719.7 1119.8,1722 1120.3,1724.4 1120.8,1726.8 1121.3,1729.2 1121.8,1731.6 1122.3,1734.1 1122.8,1736.6 1123.3,1739.1 1123.8,1741.6 1124.3,1744.2 1124.8,1746.8 1125.3,1749.4 1125.8,1752 1126.3,1754.7 1126.8,1757.3 1127.3,1760 1127.8,1762.7 1128.3,1765.4 1128.8,1768.1 1129.3,1770.9 1129.8,1773.6 1130.3,1776.3 1130.8,1779.1 1131.3,1781.8 1131.8,1784.5 1132.3,1787.3 1132.8,1790 1133.3,1792.7 1133.8,1795.4 1134.3,1798.2 1134.8,1800.8 1135.3,1803.5 1135.8,1806.2 1136.3,1808.8 1136.8,1811.4 1137.3,1814 1137.8,1816.5 1138.3,1819.1 1138.8,1821.6 1139.3,1824 1139.8,1826.4 1140.3,1828.8 1140.8,1831.1 1141.3,1833.4 1141.8,1835.7 1142.3,1837.9 1142.8,1840 1143.3,1842.1 1143.8,1844.2 1144.3,1846.2 1144.8,1848.1 1145.3,1850 1145.8,1851.8 1146.3,1853.5 1146.8,1855.2 1147.3,1856.8 1147.8,1858.3 1148.3,1859.8 1148.8,1861.2 1149.3,1862.5 1149.8,1863.7 1150.3,1864.9 1150.8,1866 1151.3,1867 1151.8,1867.9 1152.3,1868.7 1152.8,1869.5 1153.3,1870.2 1153.8,1870.8 1154.3,1871.3 1154.8,1871.7 1155.3,1872 1155.8,1872.3 1156.3,1872.4 1156.8,1872.5 1157.3,1872.5 1157.8,1872.4 1158.3,1872.2 1158.8,1871.9 1159.3,1871.6 1159.8,1871.1 1160.3,1870.6 1160.8,1870 1161.3,1869.3 1161.8,1868.5 1162.3,1867.6 1162.8,1866.7 1163.3,1865.7 1163.8,1864.5 1164.3,1863.4 1164.8,1862.1 1165.3,1860.8 1165.8,1859.4 1166.3,1857.9 1166.8,1856.3 1167.3,1854.7 1167.8,1853 1168.3,1851.2 1168.8,1849.4 1169.3,1847.5 1169.8,1845.6 1170.3,1843.6 1170.8,1841.5 1171.3,1839.4 1171.8,1837.2 1172.3,1835 1172.8,1832.8 1173.3,1830.5 1173.8,1828.1 1174.3,1825.7 1174.8,1823.3 1175.3,1820.8 1175.8,1818.3 1176.3,1815.8 1176.8,1813.2 1177.3,1810.6 1177.8,1808 1178.3,1805.4 1178.8,1802.7 1179.3,1800.1 1179.8,1797.4 1180.3,1794.7 1180.8,1791.9 1181.3,1789.2 1181.8,1786.5 1182.3,1783.7 1182.8,1781 1183.3,1778.3 1183.8,1775.5 1184.3,1772.8 1184.8,1770.1 1185.3,1767.3 1185.8,1764.6 1186.3,1761.9 1186.8,1759.2 1187.3,1756.5 1187.8,1753.9 1188.3,1751.2 1188.8,1748.6 1189.3,1746 1189.8,1743.4 1190.3,1740.9 1190.8,1738.3 1191.3,1735.8 1191.8,1733.3 1192.3,1730.9 1192.8,1728.5 1193.3,1726.1 1193.8,1723.7 1194.3,1721.4 1194.8,1719.1 1195.3,1716.8 1195.8,1714.6 1196.3,1712.4 1196.8,1710.2 1197.3,1708.1 1197.8,1706 1198.3,1704 1198.8,1701.9 1199.3,1700 1199.8,1698 1200.3,1696.1 1200.8,1694.3 1201.3,1692.5 1201.8,1690.7 1202.3,1688.9 1202.8,1687.2 1203.3,1685.6 1203.8,1683.9 1204.3,1682.3 1204.8,1680.8 1205.3,1679.3 1205.8,1677.8 1206.3,1676.4 1206.8,1675 1207.3,1673.6 1207.8,1672.3 1208.3,1671 1208.8,1669.7 1209.3,1668.5 1209.8,1667.3 1210.3,1666.2 1210.8,1665.1 1211.3,1664 1211.8,1662.9 1212.3,1661.9 1212.8,1660.9 1213.3,1660 1213.8,1659.1 1214.3,1658.2 1214.8,1657.3 1215.3,1656.5 1215.8,1655.7 1216.3,1654.9 1216.8,1654.2 1217.3,1653.4 1217.8,1652.7 1218.3,1652.1 1218.8,1651.4 1219.3,1650.8 1219.8,1650.2 1220.3,1649.6 1220.8,1649.1 1221.3,1648.5 1221.8,1648 1222.3,1647.5 1223.3,1646.6 1224.3,1645.7 1225.3,1644.9 1226.3,1644.2 1227.3,1643.6 1228.3,1643 1229.3,1642.4 1230.3,1641.9 1231.3,1641.5 1232.3,1641 1233.3,1640.7 1234.3,1640.3 1235.3,1640 1236.3,1639.7 1237.3,1639.5 1238.3,1639.3 1239.3,1639.1 1240.3,1638.9 1241.3,1638.7 1242.3,1638.6 1243.3,1638.4 1244.3,1638.3 1245.3,1638.2" stroke="#00ffff" stroke-width="4.6"/>
<polyline points="1196.6,1638.2 1197.6,1638.3 1198.6,1638.4 1199.6,1638.5 1200.6,1638.6 1201.6,1638.7 1202.6,1638.9 1203.6,1639.1 1204.6,1639.2 1205.6,1639.4 1206.6,1639.7 1207.6,1639.9 1208.6,1640.2 1209.6,1640.4 1210.6,1640.8 1211.6,1641.1 1212.6,1641.5 1213.6,1641.9 1214.6,1642.3 1215.6,1642.8 1216.6,1643.4 1217.6,1643.9 1218.6,1644.6 1219.6,1645.3 1220.6,1646 1221.6,1646.8 1222.6,1647.6 1223.6,1648.5 1224.1,1649 1224.6,1649.5 1225.1,1650.1 1225.6,1650.6 1226.1,1651.2 1226.6,1651.7 1227.1,1652.3 1227.6,1652.9 1228.1,1653.6 1228.6,1654.2 1229.1,1654.9 1229.6,1655.6 1230.1,1656.4 1230.6,1657.1 1231.1,1657.9 1231.6,1658.7 1232.1,1659.5 1232.6,1660.4 1233.1,1661.2 1233.6,1662.1 1234.1,1663.1 1234.6,1664 1235.1,1665 1235.6,1666 1236.1,1667 1236.6,1668.1 1237.1,1669.2 1237.6,1670.3 1238.1,1671.5 1238.6,1672.7 1239.1,1673.9 1239.6,1675.1 1240.1,1676.4 1240.6,1677.7 1241.1,1679.1 1241.6,1680.4 1242.1,1681.8 1242.6,1683.3 1243.1,1684.8 1243.6,1686.3 1244.1,1687.8 1244.6,1689.4 1245.1,1691 1245.6,1692.6 1246.1,1694.3 1246.6,1696 1247.1,1697.7 1247.6,1699.5" stroke="#ffff00" stroke-width="4.6"/>
<polyline points="1318,1812.3 1318.5,1809.4 1319,1806.5 1319.5,1803.7 1320,1800.8 1320.5,1797.9 1321,1795 1321.5,1792 1322,1789.1 1322.5,1786.2 1323,1783.3 1323.5,1780.4 1324,1777.5 1324.5,1774.6 1325,1771.7 1325.5,1768.8 1326,1766 1326.5,1763.1 1327,1760.3 1327.5,1757.5 1328,1754.7 1328.5,1752 1329,1749.2 1329.5,1746.5 1330,1743.8 1330.5,1741.2 1331,1738.5 1331.5,1735.9 1332,1733.4 1332.5,1730.8 1333,1728.3 1333.5,1725.9 1334,1723.4 1334.5,1721 1335,1718.7 1335.5,1716.3 1336,1714.1 1336.5,1711.8 1337,1709.6 1337.5,1707.4 1338,1705.3 1338.5,1703.2 1339,1701.2 1339.5,1699.2 1340,1697.2 1340.5,1695.3 1341,1693.4 1341.5,1691.6 1342,1689.8 1342.5,1688 1343,1686.3 1343.5,1684.6 1344,1683 1344.5,1681.4 1345,1679.8 1345.5,1678.3 1346,1676.8 1346.5,1675.4 1347,1674 1347.5,1672.7 1348,1671.3 1348.5,1670.1 1349,1668.8 1349.5,1667.6 1350,1666.4 1350.5,1665.3 1351,1664.2 1351.5,1663.1 1352,1662.1 1352.5,1661.1 1353,1660.1 1353.5,1659.2 1354,1658.3 1354.5,1657.4 1355,1656.5 1355.5,1655.7 1356,1654.9 1356.5,1654.2 1357,1653.4 1357.5,1652.7 1358,1652.1 1358.5,1651.4 1359,1650.8 1359.5,1650.2 1360,1649.6 1360.5,1649 1361,1648.5 1361.5,1648 1362.5,1647 1363.5,1646.1 1364.5,1645.3 1365.5,1644.5 1366.5,1643.8 1367.5,1643.2 1368.5,1642.6 1369.5,1642.1 1370.5,1641.6 1371.5,1641.2 1372.5,1640.8 1373.5,1640.4 1374.5,1640.1 1375.5,1639.8 1376.5,1639.6 1377.5,1639.3 1378.5,1639.1 1379.5,1638.9 1380.5,1638.8 1381.5,1638.6 1382.5,1638.5 1383.5,1638.4 1384.5,1638.3" stroke="#ffff00" stroke-width="4.6"/>
<polyline points="1350.5,1638.2 1351.5,1638.5 1352.5,1638.9 1353.5,1639.4 1354.5,1640.2 1355.5,1641.1 1356.5,1642.4 1357.5,1644.1 1358.5,1646.2 1359.5,1648.9 1360.5,1652.3 1361.5,1656.5 1362,1658.9 1362.5,1661.6 1363,1664.6 1363.5,1667.8 1364,1671.4 1364.5,1675.3 1365,1679.5 1365.5,1684.1 1366,1689.1 1366.5,1694.4 1367,1700.1 1367.5,1706.3 1368,1712.9 1368.5,1719.9 1369,1727.3 1369.5,1735.1 1370,1743.4 1370.5,1752 1371,1761.1 1371.5,1770.5 1372,1780.4 1372.5,1790.5 1373,1801 1373.5,1811.7 1374,1822.7 1374.5,1833.9 1375,1845.3 1375.5,1856.8 1376,1868.3 1376.5,1879.8 1377,1891.2 1377.5,1902.6 1378,1913.7 1378.5,1924.6 1379,1935.2 1379.5,1945.4 1380,1955.1 1380.5,1964.4 1381,1973.1 1381.5,1981.1 1382,1988.5 1382.5,1995.1 1383,2000.9 1383.5,2005.9 1384,2010.1 1384.5,2013.3 1385,2015.7 1385.5,2017 1386,2017.5 1386.5,2017 1387,2015.6 1387.5,2013.2 1388,2009.9 1388.5,2005.7 1389,2000.6 1389.5,1994.8 1390,1988.1 1390.5,1980.7 1391,1972.6 1391.5,1963.9 1392,1954.7 1392.5,1944.9 1393,1934.7 1393.5,1924.1 1394,1913.2 1394.5,1902 1395,1890.7 1395.5,1879.2 1396,1867.7 1396.5,1856.2 1397,1844.7 1397.5,1833.4 1398,1822.2 1398.5,1811.2 1399,1800.5 1399.5,1790 1400,1779.9 1400.5,1770.1 1401,1760.6 1401.5,1751.6 1402,1742.9 1402.5,1734.7 1403,1726.9 1403.5,1719.5 1404,1712.5 1404.5,1706 1405,1699.9 1405.5,1694.1 1406,1688.8 1406.5,1683.9 1407,1679.3 1407.5,1675.1 1408,1671.2 1408.5,1667.6 1409,1664.4 1409.5,1661.5 1410,1658.8 1410.5,1656.3 1411,1654.1 1412,1650.4 1413,1647.4 1414,1645 1415,1643.1 1416,1641.7 1417,1640.6 1418,1639.8 1419,1639.1 1420,1638.7 1421,1638.3" stroke="#666600" stroke-width="4.0"/>
<polyline points="1332.1,1638.2 1333.1,1638.3 1334.1,1638.5 1335.1,1638.6 1336.1,1638.8 1337.1,1639 1338.1,1639.2 1339.1,1639.5 1340.1,1639.8 1341.1,1640.2 1342.1,1640.6 1343.1,1641 1344.1,1641.6 1345.1,1642.1 1346.1,1642.8 1347.1,1643.5 1348.1,1644.4 1349.1,1645.3 1350.1,1646.4 1351.1,1647.5 1352.1,1648.8 1353.1,1650.3 1354.1,1651.9 1355.1,1653.7 1356.1,1655.6 1357.1,1657.8 1358.1,1660.2 1359.1,1662.8 1360.1,1665.7 1361.1,1668.8 1361.6,1670.5 1362.1,1672.2 1362.6,1674.1 1363.1,1676 1363.6,1678 1364.1,1680 1364.6,1682.2 1365.1,1684.4 1365.6,1686.8 1366.1,1689.2 1366.6,1691.7 1367.1,1694.3 1367.6,1697.1 1368.1,1699.9 1368.6,1702.8 1369.1,1705.8 1369.6,1709 1370.1,1712.2 1370.6,1715.6 1371.1,1719.1 1371.6,1722.7 1372.1,1726.4 1372.6,1730.2 1373.1,1734.2 1373.6,1738.3 1374.1,1742.5 1374.6,1746.8 1375.1,1751.2 1375.6,1755.8 1376.1,1760.5 1376.6,1765.4 1377.1,1770.3 1377.6,1775.4 1378.1,1780.7 1378.6,1786 1379.1,1791.5 1379.6,1797.2 1380.1,1802.9 1380.6,1808.8 1381.1,1814.8 1381.6,1821 1382.1,1827.2 1382.6,1833.6 1383.1,1840.2 1383.6,1846.8 1384.1,1853.6 1384.6,1860.5 1385.1,1867.4 1385.6,1874.6 1386.1,1881.8 1386.6,1889.1 1387.1,1896.5 1387.6,1904 1388.1,1911.7 1388.6,1919.4 1389.1,1927.2 1389.6,1935 1390.1,1943 1390.6,1951 1391.1,1959.1 1391.6,1967.3 1392.1,1975.5 1392.6,1983.7 1393.1,1992 1393.6,2000.3 1394.1,2008.7 1394.6,2017 1395.1,2025.4 1395.6,2033.8 1396.1,2042.2 1396.6,2050.6 1397.1,2058.9 1397.6,2067.2 1398.1,2075.5 1398.6,2083.8 1399.1,2092 1399.6,2100.2 1400.1,2108.2 1400.6,2116.3 1401.1,2124.2 1401.6,2132 1402.1,2139.7 1402.6,2147.3 1403.1,2154.8 1403.6,2162.2 1404.1,2169.5 1404.6,2176.5 1405.1,2183.5 1405.6,2190.3 1406.1,2196.9 1406.6,2203.3 1407.1,2209.6 1407.6,2215.6 1408.1,2221.5 1408.6,2227.1 1409.1,2232.5 1409.6,2237.8 1410.1,2242.7 1410.6,2247.5 1411.1,2252 1411.6,2256.2 1412.1,2260.2 1412.6,2264 1413.1,2267.5 1413.6,2270.7 1414.1,2273.6 1414.6,2276.3 1415.1,2278.7 1415.6,2280.8 1416.1,2282.6 1416.6,2284.2 1417.1,2285.4 1417.6,2286.4 1418.1,2287 1418.6,2287.4 1419.1,2287.5 1419.6,2287.3 1420.1,2286.8 1420.6,2286 1421.1,2284.9 1421.6,2283.5 1422.1,2281.8 1422.6,2279.8 1423.1,2277.6 1423.6,2275 1424.1,2272.2 1424.6,2269.2 1425.1,2265.8 1425.6,2262.2 1426.1,2258.3 1426.6,2254.2 1427.1,2249.8 1427.6,2245.2 1428.1,2240.3 1428.6,2235.2 1429.1,2229.9 1429.6,2224.4 1430.1,2218.6 1430.6,2212.7 1431.1,2206.5 1431.6,2200.2 1432.1,2193.7 1432.6,2187 1433.1,2180.1 1433.6,2173.1 1434.1,2165.9 1434.6,2158.6 1435.1,2151.2 1435.6,2143.6 1436.1,2136 1436.6,2128.2 1437.1,2120.3 1437.6,2112.3 1438.1,2104.3 1438.6,2096.2 1439.1,2088 1439.6,2079.8 1440.1,2071.5 1440.6,2063.2 1441.1,2054.8 1441.6,2046.5 1442.1,2038.1 1442.6,2029.7 1443.1,2021.3 1443.6,2012.9 1444.1,2004.6 1444.6,1996.2 1445.1,1987.9 1445.6,1979.7 1446.1,1971.4 1446.6,1963.3 1447.1,1955.1 1447.6,1947.1 1448.1,1939.1 1448.6,1931.2 1449.1,1923.4 1449.6,1915.6 1450.1,1907.9 1450.6,1900.4 1451.1,1892.9 1451.6,1885.5 1452.1,1878.2 1452.6,1871.1 1453.1,1864 1453.6,1857.1 1454.1,1850.3 1454.6,1843.5 1455.1,1837 1455.6,1830.5 1456.1,1824.2 1456.6,1818 1457.1,1811.9 1457.6,1805.9 1458.1,1800.1 1458.6,1794.4 1459.1,1788.8 1459.6,1783.4 1460.1,1778.1 1460.6,1772.9 1461.1,1767.9 1461.6,1763 1462.1,1758.2 1462.6,1753.6 1463.1,1749 1463.6,1744.6 1464.1,1740.4 1464.6,1736.2 1465.1,1732.2 1465.6,1728.3 1466.1,1724.6 1466.6,1720.9 1467.1,1717.4 1467.6,1713.9 1468.1,1710.6 1468.6,1707.4 1469.1,1704.3 1469.6,1701.4 1470.1,1698.5 1470.6,1695.7 1471.1,1693.1 1471.6,1690.5 1472.1,1688 1472.6,1685.6 1473.1,1683.3 1473.6,1681.1 1474.1,1679 1474.6,1677 1475.1,1675 1475.6,1673.2 1476.1,1671.4 1476.6,1669.7 1477.1,1668 1477.6,1666.4 1478.1,1664.9 1479.1,1662.1 1480.1,1659.6 1481.1,1657.2 1482.1,1655.1 1483.1,1653.2 1484.1,1651.5 1485.1,1649.9 1486.1,1648.5 1487.1,1647.2 1488.1,1646.1 1489.1,1645.1 1490.1,1644.2 1491.1,1643.4 1492.1,1642.6 1493.1,1642 1494.1,1641.4 1495.1,1640.9 1496.1,1640.5 1497.1,1640.1 1498.1,1639.7 1499.1,1639.4 1500.1,1639.2 1501.1,1638.9 1502.1,1638.7 1503.1,1638.6 1504.1,1638.4 1505.1,1638.3" stroke="#000080" stroke-width="4.6"/>
<polyline points="1323.2,1638.2 1324.2,1638.3 1325.2,1638.3 1326.2,1638.4 1327.2,1638.4 1328.2,1638.5 1329.2,1638.6 1330.2,1638.7 1331.2,1638.7 1332.2,1638.8 1333.2,1638.9 1334.2,1639 1335.2,1639.1 1336.2,1639.3 1337.2,1639.4 1338.2,1639.5 1339.2,1639.6 1340.2,1639.8 1341.2,1639.9 1342.2,1640.1 1343.2,1640.3 1344.2,1640.5 1345.2,1640.7 1346.2,1640.9 1347.2,1641.1 1348.2,1641.3 1349.2,1641.6 1350.2,1641.8 1351.2,1642.1 1352.2,1642.4 1353.2,1642.7 1354.2,1643 1355.2,1643.4 1356.2,1643.8 1357.2,1644.1 1358.2,1644.5 1359.2,1645 1360.2,1645.4 1361.2,1645.9 1362.2,1646.4 1363.2,1646.9 1364.2,1647.4 1365.2,1648 1366.2,1648.6 1367.2,1649.2 1368.2,1649.9 1369.2,1650.6 1370.2,1651.3 1371.2,1652.1 1372.2,1652.9 1373.2,1653.7 1374.2,1654.6 1375.2,1655.5 1376.2,1656.4 1377.2,1657.4 1377.7,1657.9 1378.2,1658.4 1378.7,1659 1379.2,1659.5 1379.7,1660.1 1380.2,1660.6 1380.7,1661.2 1381.2,1661.8 1381.7,1662.4 1382.2,1663 1382.7,1663.6 1383.2,1664.3 1383.7,1664.9 1384.2,1665.6 1384.7,1666.3 1385.2,1667 1385.7,1667.7 1386.2,1668.4 1386.7,1669.1 1387.2,1669.9 1387.7,1670.6 1388.2,1671.4 1388.7,1672.2 1389.2,1673 1389.7,1673.8 1390.2,1674.7 1390.7,1675.5 1391.2,1676.4 1391.7,1677.3 1392.2,1678.2 1392.7,1679.1 1393.2,1680 1393.7,1680.9 1394.2,1681.9 1394.7,1682.9 1395.2,1683.9 1395.7,1684.9 1396.2,1685.9 1396.7,1687 1397.2,1688 1397.7,1689.1 1398.2,1690.2 1398.7,1691.3 1399.2,1692.5 1399.7,1693.6 1400.2,1694.8 1400.7,1696 1401.2,1697.2 1401.7,1698.4 1402.2,1699.6 1402.7,1700.9 1403.2,1702.2 1403.7,1703.5 1404.2,1704.8 1404.7,1706.1 1405.2,1707.5 1405.7,1708.9 1406.2,1710.3 1406.7,1711.7 1407.2,1713.1 1407.7,1714.6 1408.2,1716.1 1408.7,1717.6 1409.2,1719.1 1409.7,1720.6 1410.2,1722.2 1410.7,1723.7 1411.2,1725.3 1411.7,1726.9 1412.2,1728.6 1412.7,1730.2 1413.2,1731.9 1413.7,1733.6 1414.2,1735.3 1414.7,1737.1 1415.2,1738.8 1415.7,1740.6 1416.2,1742.4 1416.7,1744.2 1417.2,1746.1 1417.7,1747.9 1418.2,1749.8 1418.7,1751.7 1419.2,1753.6 1419.7,1755.6 1420.2,1757.5 1420.7,1759.5 1421.2,1761.5 1421.7,1763.5 1422.2,1765.6 1422.7,1767.6 1423.2,1769.7 1423.7,1771.8 1424.2,1773.9 1424.7,1776.1 1425.2,1778.2 1425.7,1780.4 1426.2,1782.6 1426.7,1784.8 1427.2,1787 1427.7,1789.3 1428.2,1791.5 1428.7,1793.8 1429.2,1796.1 1429.7,1798.4 1430.2,1800.8 1430.7,1803.1 1431.2,1805.5 1431.7,1807.9 1432.2,1810.3 1432.7,1812.7 1433.2,1815.1 1433.7,1817.5 1434.2,1820 1434.7,1822.5 1435.2,1824.9 1435.7,1827.4 1436.2,1830 1436.7,1832.5 1437.2,1835 1437.7,1837.6 1438.2,1840.1 1438.7,1842.7 1439.2,1845.3 1439.7,1847.9 1440.2,1850.5 1440.7,1853.1 1441.2,1855.7 1441.7,1858.4 1442.2,1861 1442.7,1863.7 1443.2,1866.3 1443.7,1869 1444.2,1871.6 1444.7,1874.3 1445.2,1877 1445.7,1879.7 1446.2,1882.4 1446.7,1885.1 1447.2,1887.8 1447.7,1890.5 1448.2,1893.2 1448.7,1895.9 1449.2,1898.6 1449.7,1901.3 1450.2,1904 1450.7,1906.7 1451.2,1909.5 1451.7,1912.2 1452.2,1914.9 1452.7,1917.6 1453.2,1920.3 1453.7,1923 1454.2,1925.7 1454.7,1928.3 1455.2,1931 1455.7,1933.7 1456.2,1936.4 1456.7,1939 1457.2,1941.7 1457.7,1944.3 1458.2,1947 1458.7,1949.6 1459.2,1952.2 1459.7,1954.8 1460.2,1957.4 1460.7,1960 1461.2,1962.6 1461.7,1965.1 1462.2,1967.7 1462.7,1970.2 1463.2,1972.7 1463.7,1975.2 1464.2,1977.7 1464.7,1980.1 1465.2,1982.6 1465.7,1985 1466.2,1987.4 1466.7,1989.8 1467.2,1992.1 1467.7,1994.5 1468.2,1996.8 1468.7,1999.1 1469.2,2001.4 1469.7,2003.6 1470.2,2005.8 1470.7,2008 1471.2,2010.2 1471.7,2012.4 1472.2,2014.5 1472.7,2016.6 1473.2,2018.6 1473.7,2020.7 1474.2,2022.7 1474.7,2024.7 1475.2,2026.6 1475.7,2028.5 1476.2,2030.4 1476.7,2032.3 1477.2,2034.1 1477.7,2035.9 1478.2,2037.6 1478.7,2039.3 1479.2,2041 1479.7,2042.7 1480.2,2044.3 1480.7,2045.9 1481.2,2047.4 1481.7,2048.9 1482.2,2050.4 1482.7,2051.8 1483.2,2053.2 1483.7,2054.6 1484.2,2055.9 1484.7,2057.1 1485.2,2058.4 1485.7,2059.6 1486.2,2060.7 1486.7,2061.8 1487.2,2062.9 1487.7,2063.9 1488.2,2064.9 1488.7,2065.9 1489.2,2066.8 1489.7,2067.6 1490.2,2068.4 1490.7,2069.2 1491.2,2069.9 1491.7,2070.6 1492.2,2071.3 1492.7,2071.8 1493.2,2072.4 1493.7,2072.9 1494.2,2073.4 1494.7,2073.8 1495.2,2074.2 1495.7,2074.5 1496.2,2074.8 1496.7,2075 1497.2,2075.2 1497.7,2075.3 1498.2,2075.4 1498.7,2075.5 1499.2,2075.5 1499.7,2075.5" stroke="#5c005c" stroke-width="4.0"/>
<polyline points="1587.9,1638.2 1588.9,1638.2 1589.9,1638.3 1590.9,1638.4 1591.9,1638.4 1592.9,1638.5 1593.9,1638.6 1594.9,1638.6 1595.9,1638.7 1596.9,1638.8 1597.9,1638.9 1598.9,1639 1599.9,1639.1 1600.9,1639.2 1601.9,1639.3 1602.9,1639.4 1603.9,1639.5 1604.9,1639.6 1605.9,1639.8 1606.9,1639.9 1607.9,1640.1 1608.9,1640.2 1609.9,1640.4 1610.9,1640.6 1611.9,1640.7 1612.9,1640.9 1613.9,1641.1 1614.9,1641.4 1615.9,1641.6 1616.9,1641.8 1617.9,1642.1 1618.9,1642.3 1619.9,1642.6 1620.9,1642.9 1621.9,1643.2 1622.9,1643.5 1623.9,1643.8 1624.9,1644.2 1625.9,1644.6 1626.9,1644.9 1627.9,1645.3 1628.4,1645.5 1628.9,1645.7 1629.4,1646 1629.9,1646.2 1630.4,1646.4 1630.9,1646.6 1631.4,1646.9 1631.9,1647.1 1632.4,1647.3 1632.9,1647.6 1633.4,1647.8 1633.9,1648.1 1634.4,1648.4 1634.9,1648.6 1635.4,1648.9 1635.9,1649.2 1636.4,1649.5 1636.9,1649.8 1637.4,1650 1637.9,1650.3 1638.4,1650.7 1638.9,1651 1639.4,1651.3 1639.9,1651.6 1640.4,1651.9 1640.9,1652.3 1641.4,1652.6 1641.9,1653 1642.4,1653.3 1642.9,1653.7 1643.4,1654.1 1643.9,1654.4 1644.4,1654.8 1644.9,1655.2 1645.4,1655.6 1645.9,1656 1646.4,1656.4 1646.9,1656.8 1647.4,1657.3 1647.9,1657.7 1648.4,1658.1 1648.9,1658.6 1649.4,1659 1649.9,1659.5 1650.4,1659.9 1650.9,1660.4 1651.4,1660.9 1651.9,1661.4 1652.4,1661.9 1652.9,1662.4 1653.4,1662.9 1653.9,1663.4 1654.4,1664 1654.9,1664.5 1655.4,1665 1655.9,1665.6 1656.4,1666.1 1656.9,1666.7 1657.4,1667.3 1657.9,1667.9 1658.4,1668.5 1658.9,1669.1 1659.4,1669.7 1659.9,1670.3 1660.4,1670.9 1660.9,1671.5 1661.4,1672.2 1661.9,1672.8 1662.4,1673.5 1662.9,1674.1 1663.4,1674.8 1663.9,1675.5 1664.4,1676.2 1664.9,1676.9" stroke="#7a0000" stroke-width="4.0"/>
<path d="M154.4,1640.2C156.6,1639.9 163.9,1641.2 167.5,1638.5C171.1,1635.8 173.3,1624.2 176.2,1624C179.1,1623.8 179.9,1633.7 185,1637C190.1,1640.3 198.1,1642.2 206.8,1643.7C215.5,1645.2 225,1646.2 237.4,1646C249.8,1645.8 265,1644.3 281,1642.8C297,1641.3 317.6,1639 333.6,1637C349.7,1635 364.2,1632.5 377.3,1630.6C390.4,1628.6 402.8,1626.4 412.2,1625.3C421.6,1624.2 426.7,1623.5 434,1624C441.3,1624.5 450.2,1627.2 456,1628.4C461.8,1629.7 463.9,1631 469,1631.5C474.1,1632 481.4,1630.5 486.5,1631.5C491.6,1632.5 489.5,1635.5 499.7,1637.2C509.9,1638.9 537.2,1634.5 547.7,1641.5C558.2,1648.5 559.5,1669.7 562.9,1679.4C566.3,1689.2 565.5,1690.7 568.4,1700C571.3,1709.3 574.9,1717.9 580.4,1735.4C585.9,1753 594.4,1781.2 601.4,1805.3C608.4,1829.4 616.6,1855.9 622.4,1880C628.2,1904.1 631.2,1926.6 636.3,1949.9C641.4,1973.2 648,1998.8 653.1,2019.8C658.2,2040.8 662,2057.1 667.1,2075.7C672.2,2094.3 679.2,2113.9 683.9,2131.6C688.6,2149.3 691.4,2168.8 695.1,2181.9C698.8,2195 702,2199.7 706.2,2209.9C710.4,2220.2 715.1,2228.5 720.2,2243.4C725.3,2258.3 730.9,2278.3 737,2299.3C743.1,2320.3 750.1,2343.6 756.6,2369.2C763.1,2394.8 770.1,2427.5 776.1,2453.1C782.1,2478.7 787.8,2504.8 792.9,2523C798,2541.2 802.2,2553.2 806.9,2562.1C811.6,2570.9 816.7,2576.1 820.9,2576.1C825.1,2576.1 828.3,2570.9 832,2562.1C835.7,2553.2 838.5,2536.5 843.2,2523C847.9,2509.5 854.9,2502 860,2481C865.1,2460 869.3,2427.5 874,2397.2C878.7,2366.9 883.7,2328.9 888,2299.3C892.3,2269.7 895.3,2247.7 899.6,2219.8C903.9,2192 909,2162.3 913.6,2132.2C918.2,2102.1 922.5,2066.3 927.5,2039.1C932.5,2011.9 939.5,1990.5 943.8,1969.2C948.1,1947.9 950,1928.5 953.1,1911C956.2,1893.5 959.3,1876.1 962.4,1864.5C965.5,1852.9 969.1,1844.7 971.8,1841.2C974.5,1837.7 976.4,1841.8 978.7,1843.5C981,1845.2 983.4,1852.5 985.7,1851.7C988,1850.9 990.4,1848.4 992.7,1838.9C995,1829.4 997.4,1809.7 999.7,1794.6C1002,1779.5 1004.4,1762.4 1006.7,1748.1C1009,1733.8 1011,1722.1 1013.7,1708.5C1016.4,1694.9 1020.7,1677.7 1023,1666.6C1025.3,1655.5 1025.8,1646.4 1027.6,1642.1C1029.3,1637.8 1031.2,1635 1033.5,1641C1035.8,1647 1038.7,1663.1 1041.6,1678.2C1044.5,1693.3 1048.3,1717.3 1050.9,1731.8C1053.5,1746.3 1054.5,1756.1 1057,1765C1059.5,1773.9 1062.6,1774.6 1066.2,1785C1069.8,1795.4 1074.7,1813.1 1078.5,1827.4C1082.3,1841.8 1086.1,1859.4 1089,1871.1C1091.9,1882.8 1093.7,1888.8 1096,1897.3C1098.3,1905.8 1100.9,1916.2 1103,1922C1105.1,1927.8 1106.8,1932 1108.5,1932C1110.2,1932 1111.1,1926.5 1113,1922C1114.9,1917.5 1117.5,1911.2 1120,1905C1122.5,1898.8 1124.9,1890.6 1128,1885C1131.1,1879.4 1135.5,1871 1138.5,1871.5C1141.5,1872 1143.8,1882.2 1146,1888C1148.2,1893.8 1150.2,1901.5 1152,1906C1153.8,1910.5 1155.5,1915.2 1157,1915C1158.5,1914.8 1159.5,1912.5 1161,1905C1162.5,1897.5 1164,1886.8 1166,1870C1168,1853.2 1170.1,1827.3 1173,1804C1175.9,1780.7 1180.5,1745.5 1183.6,1730.1C1186.7,1714.7 1188.3,1713.5 1191.4,1711.8C1194.5,1710.1 1198.9,1718.4 1202,1719.7C1205.1,1721 1207.2,1721.9 1209.8,1719.7C1212.4,1717.5 1214.6,1716.6 1217.7,1706.5C1220.8,1696.4 1225.2,1672 1228.2,1659.3C1231.2,1646.6 1233.4,1634.4 1236,1630.5C1238.6,1626.6 1242.1,1628.7 1243.9,1635.7C1245.7,1642.7 1245.6,1651.7 1247,1672.4C1248.4,1693.1 1250.5,1735.1 1252.2,1759.9C1254,1784.7 1255.8,1809.7 1257.5,1821C1259.2,1832.3 1261,1827.7 1262.7,1828C1264.5,1828.3 1265.4,1821 1268,1822.8C1270.6,1824.5 1274.7,1833.5 1278.5,1838.5C1282.3,1843.5 1287.5,1846.7 1290.7,1852.5C1293.9,1858.3 1295.7,1866.8 1297.7,1873.5C1299.8,1880.2 1301.2,1891.2 1303,1892.7C1304.8,1894.2 1306.2,1892.7 1308.2,1882.2C1310.2,1871.7 1312.3,1847.3 1315.2,1829.8C1318.1,1812.3 1321.9,1793.3 1325.7,1777.3C1329.5,1761.3 1334.1,1747.1 1337.9,1734C1341.7,1720.9 1345.5,1710.4 1348.4,1698.7C1351.3,1687 1353.4,1676.5 1355.4,1663.7C1357.4,1650.9 1359.2,1627.6 1360.6,1622C1361.9,1616.4 1362.6,1621.6 1363.5,1630C1364.4,1638.4 1365.2,1650.8 1365.9,1672.4C1366.6,1694.1 1367.1,1725.3 1367.6,1759.9C1368.1,1794.5 1368,1833.3 1368.8,1880C1369.6,1926.7 1371,1986.7 1372.5,2040C1374,2093.3 1375.8,2159.3 1377.8,2200C1379.8,2240.7 1382.7,2264.1 1384.8,2283.9C1386.9,2303.7 1388.4,2310 1390.3,2318.9C1392.2,2327.8 1394,2330.1 1395.9,2337.1C1397.8,2344.1 1399.4,2351 1401.5,2360.8C1403.6,2370.6 1406.4,2390.7 1408.5,2395.8C1410.6,2400.9 1412.2,2393.5 1414.1,2391.6C1416,2389.7 1417.8,2386 1419.7,2384.6C1421.6,2383.2 1423.7,2388.3 1425.3,2383.2C1426.9,2378.1 1427.9,2365.7 1429.5,2353.8C1431.1,2341.9 1433.2,2329.4 1435.1,2311.9C1437,2294.4 1438.7,2266.8 1440.7,2249C1442.7,2231.2 1444.5,2219.8 1447,2205C1449.5,2190.2 1452.2,2176.3 1455.4,2160C1458.6,2143.7 1463,2123.3 1465.9,2107.3C1468.8,2091.3 1470.3,2074.8 1472.9,2064C1475.5,2053.2 1479,2042.6 1481.6,2042.6C1484.2,2042.6 1486.3,2050.9 1488.6,2064C1490.9,2077.1 1493.3,2119.9 1495.6,2121.3C1497.9,2122.7 1500.3,2089.8 1502.6,2072.3C1504.9,2054.8 1507.6,2027.5 1509.6,2016.4C1511.6,2005.3 1513,2003.9 1514.8,2005.9C1516.5,2007.9 1518,2012.6 1520.1,2028.6C1522.1,2044.6 1525.1,2097.6 1527.1,2102C1529.1,2106.4 1530.9,2069.7 1532.3,2054.8C1533.7,2040 1533.7,2034.7 1535.7,2012.9C1537.8,1991.1 1541.6,1950.8 1544.6,1924C1547.6,1897.2 1550.9,1868.5 1553.6,1852.1C1556.3,1835.7 1558.3,1833.1 1560.7,1825.4C1563.1,1817.7 1564.9,1811.4 1567.9,1805.7C1570.9,1800 1575.6,1797.1 1578.6,1791.4C1581.6,1785.8 1583.3,1781 1585.7,1771.8C1588.1,1762.6 1590.2,1745 1592.9,1736.1C1595.6,1727.2 1598.8,1725 1601.8,1718.2C1604.8,1711.4 1607.4,1704.8 1610.7,1695C1614,1685.2 1618.4,1667.9 1621.4,1659.3C1624.4,1650.7 1626.2,1646.2 1628.6,1643.2C1631,1640.2 1633.3,1637.8 1635.7,1641.4C1638.1,1645 1640.8,1658.6 1642.9,1664.6C1645,1670.5 1645.4,1675.8 1648.2,1677.1C1651,1678.4 1656.9,1672.6 1660,1672.4C1663.1,1672.2 1663.1,1675.3 1666.6,1675.7C1670.1,1676.1 1677.5,1672.2 1680.8,1674.6C1684.1,1677 1684.6,1686.4 1686.2,1689.9C1687.8,1693.4 1688.8,1693.9 1690.6,1695.4C1692.4,1696.9 1695.4,1694.9 1697.2,1698.7C1699,1702.5 1700.4,1707.8 1701.5,1718.3C1702.6,1728.8 1702.8,1746.3 1703.7,1762C1704.6,1777.7 1705.7,1803.9 1707,1812.3C1708.3,1820.7 1709.8,1813.2 1711.4,1812.3C1713,1811.4 1714.4,1807.7 1716.8,1806.8C1719.2,1805.9 1723.4,1805.1 1725.6,1806.8C1727.8,1808.5 1728.5,1809.2 1729.9,1816.7C1731.4,1824.2 1732.5,1845.2 1734.3,1851.6C1736.1,1858 1738.7,1855.6 1740.9,1854.9C1743.1,1854.2 1745.2,1855.5 1747.4,1847.3C1749.6,1839.1 1752.2,1817.5 1754,1805.8C1755.8,1794.1 1756.5,1785.7 1758.3,1777.3C1760.1,1768.9 1763.1,1760.6 1764.9,1755.5C1766.7,1750.4 1766.8,1749.6 1769.3,1746.7C1771.8,1743.8 1776.9,1741.3 1780.2,1738C1783.5,1734.7 1785.6,1730.4 1788.9,1727.1C1792.2,1723.8 1796.2,1720.8 1799.9,1718.3C1803.6,1715.8 1807.2,1713.4 1810.8,1711.8C1814.4,1710.2 1818.8,1708.1 1821.7,1708.5C1824.6,1708.9 1826.1,1711.6 1828.3,1714C1830.5,1716.4 1832.6,1722.3 1834.8,1722.7C1837,1723.1 1839.6,1720.2 1841.4,1716.2C1843.2,1712.2 1844,1702.4 1845.8,1698.7C1847.6,1695 1849.8,1696.8 1852.3,1694.3C1854.8,1691.8 1858.1,1688.1 1861,1683.4C1863.9,1678.7 1866.9,1671 1869.8,1665.9C1872.7,1660.8 1876,1656.8 1878.5,1652.8C1881,1648.8 1881.4,1644.1 1885.1,1641.9C1888.8,1639.7 1897.9,1640.1 1900.4,1639.7" stroke="#000" stroke-width="5.0"/>
<path d="M151,1638.5C209.2,1638.5 438.2,1637.6 500,1638.5C561.8,1639.4 512.8,1639.2 521.5,1643.7C530.2,1648.2 543.3,1656.2 552,1665.6C560.7,1675 565.6,1677.6 573.6,1700C581.6,1722.4 591.4,1766.8 600,1800C608.6,1833.2 617.5,1868.2 625,1899C632.5,1929.8 637.5,1955.5 645,1985C652.5,2014.5 661.6,2046.5 669.9,2075.7C678.2,2104.9 687.1,2134.4 695,2160C702.9,2185.6 709.6,2203.7 717.4,2229.5C725.2,2255.3 733.6,2284.7 742,2315C750.4,2345.3 758.9,2380.4 767.7,2411.2C776.5,2442 788,2478.9 795,2500C802,2521.1 805.7,2529.5 810,2538C814.3,2546.5 817.2,2550.7 820.9,2551C824.6,2551.3 828,2547.7 832,2540C836,2532.3 840.3,2518.3 845,2505C849.7,2491.7 855.2,2479.2 860,2460C864.8,2440.8 869,2416.7 874,2390C879,2363.3 884.6,2328.4 890,2300C895.4,2271.6 900.4,2259.4 906.6,2219.8C912.9,2180.2 921.3,2102.2 927.5,2062.4C933.7,2022.6 938.8,2008.1 943.8,1980.9C948.8,1953.7 953.1,1922.3 957.8,1899.4C962.5,1876.5 967.1,1862.1 971.8,1843.5C976.4,1824.9 981.1,1803.5 985.7,1787.6C990.4,1771.7 995,1759.7 999.7,1748.1C1004.4,1736.5 1009.1,1726.3 1013.7,1717.8C1018.4,1709.2 1023.5,1700.9 1027.6,1696.8C1031.7,1692.7 1035,1692.5 1038.1,1693.3C1041.2,1694.1 1042.6,1690.4 1046.3,1701.5C1050,1712.6 1056.3,1747 1060,1759.7C1063.7,1772.4 1063.8,1761.4 1068.2,1777.4C1072.6,1793.5 1081.9,1836.4 1086.5,1856C1091.1,1875.6 1093,1884.8 1096,1895C1099,1905.2 1101.9,1914.8 1104.6,1917C1107.3,1919.2 1109.4,1911 1112,1908C1114.6,1905 1117.2,1901 1120,1899C1122.8,1897 1125.5,1896.5 1128.8,1896C1132.1,1895.5 1136.5,1896 1140,1896C1143.5,1896 1147.2,1896.2 1150,1896C1152.8,1895.8 1154.9,1896.8 1157.1,1895C1159.3,1893.2 1161.2,1888.9 1163,1885C1164.8,1881.1 1165.6,1879 1167.6,1871.5C1169.6,1864 1172.3,1855.7 1175,1840C1177.7,1824.3 1179.5,1797.5 1183.6,1777.4C1187.6,1757.4 1194.1,1735.9 1199.3,1719.7C1204.5,1703.5 1210.2,1689.9 1215,1680.3C1219.8,1670.7 1224.7,1664.2 1228.2,1662C1231.7,1659.8 1232.5,1658.9 1236,1667.2C1239.5,1675.5 1244.9,1694.9 1249.1,1711.8C1253.3,1728.7 1257.6,1750.4 1261,1768.6C1264.4,1786.8 1266.8,1806.4 1269.7,1821C1272.6,1835.6 1275.6,1845.8 1278.5,1856C1281.4,1866.2 1284.3,1877 1287.2,1882.2C1290.1,1887.5 1293.5,1886.2 1296,1887.5C1298.5,1888.8 1301.1,1877.9 1302.5,1890C1303.9,1902.1 1304,1944.2 1304.5,1960C1305,1975.8 1305.2,1985 1305.6,1985C1306,1985 1306.2,1976.7 1306.7,1960C1307.2,1943.3 1307.1,1908.2 1308.5,1885C1309.9,1861.8 1312,1840.4 1315.2,1821C1318.4,1801.6 1323,1784.6 1327.4,1768.6C1331.8,1752.6 1337.6,1736 1341.4,1724.9C1345.2,1713.8 1348.1,1705.1 1350.1,1702.2C1352.1,1699.3 1351.8,1700.7 1353.6,1707.4C1355.3,1714.1 1358.5,1727.8 1360.6,1742.4C1362.6,1757 1364.4,1765.2 1365.9,1794.8C1367.4,1824.4 1368.1,1875.8 1369.4,1920C1370.7,1964.2 1372.1,2013.3 1373.5,2060C1374.9,2106.7 1376.4,2165 1377.8,2200C1379.2,2235 1380.6,2249 1382,2270C1383.4,2291 1384.8,2311.9 1386.2,2325.9C1387.6,2339.9 1388.7,2350.3 1390.3,2353.8C1391.9,2357.3 1394,2350.4 1395.9,2346.9C1397.8,2343.4 1399.6,2334.1 1401.5,2332.9C1403.4,2331.7 1405.2,2334.1 1407.1,2339.9C1409,2345.7 1410.8,2358.5 1412.7,2367.8C1414.6,2377.1 1416.7,2388.8 1418.3,2395.8C1419.9,2402.8 1421.1,2408.9 1422.5,2409.8C1423.9,2410.7 1425.1,2408.4 1426.7,2401.4C1428.3,2394.4 1430.2,2382.7 1432.3,2367.8C1434.4,2352.9 1437,2330.6 1439.3,2311.9C1441.6,2293.2 1444.1,2275.1 1446.3,2255.9C1448.5,2236.8 1450.4,2216.3 1452.5,2197C1454.6,2177.7 1456.8,2156.4 1459,2140C1461.2,2123.6 1463,2109.5 1465.9,2098.5C1468.8,2087.5 1472.6,2078.1 1476.4,2074C1480.2,2069.9 1484.5,2073.3 1488.6,2074C1492.7,2074.7 1497,2078.7 1500.8,2078.4C1504.6,2078.1 1507.5,2077.7 1511.3,2072.3C1515.1,2066.9 1520.1,2057.8 1523.6,2046.1C1527.1,2034.4 1529.6,2016.8 1532.3,2002.4C1535,1988.1 1536.5,1979.1 1540,1960C1543.5,1940.9 1549.2,1910.3 1553.6,1887.9C1557.9,1865.5 1562.2,1844.8 1566.1,1825.4C1570,1806.1 1572.9,1788.2 1576.8,1771.8C1580.7,1755.4 1584.8,1739.6 1589.3,1727.1C1593.8,1714.6 1599.1,1705.1 1603.6,1696.8C1608.1,1688.5 1612.5,1682.2 1616.1,1677.1C1619.7,1672 1621.7,1668.8 1625,1666.4C1628.3,1664 1631.8,1662.3 1635.7,1662.9C1639.6,1663.5 1644,1666.4 1648.2,1670C1652.4,1673.6 1656.6,1679.9 1660.7,1684.3C1664.8,1688.7 1668.8,1690.1 1673.1,1696.5C1677.3,1702.9 1681.8,1714 1686.2,1722.7C1690.6,1731.4 1694.6,1739.8 1699.3,1748.9C1704,1758 1709.5,1768.9 1714.6,1777.3C1719.7,1785.7 1725.2,1794.1 1729.9,1799.2C1734.6,1804.3 1739,1806.8 1743,1807.9C1747,1809 1749.6,1809.4 1754,1805.8C1758.4,1802.2 1763.8,1794.5 1769.3,1786.1C1774.8,1777.7 1780.9,1766.1 1786.7,1755.5C1792.5,1744.9 1798.7,1732.9 1804.2,1722.7C1809.7,1712.5 1814.4,1703 1819.5,1694.3C1824.6,1685.6 1829.3,1676.8 1834.8,1670.3C1840.3,1663.8 1846.5,1659.2 1852.3,1655C1858.1,1650.8 1864,1647.5 1869.8,1645.1C1875.6,1642.7 1881.6,1641.7 1887.3,1640.8C1893,1639.9 1901.2,1639.9 1904,1639.7" stroke="#0a0a80" stroke-width="4.8"/>
</g>
<rect x="151" y="1526" width="1753" height="1217" fill="none" stroke="#111" stroke-width="6"/>
<line x1="151" y1="2743" x2="151" y2="2767" stroke="#111" stroke-width="5"/><line x1="667.1" y1="2743" x2="667.1" y2="2767" stroke="#111" stroke-width="5"/><line x1="1183.2" y1="2743" x2="1183.2" y2="2767" stroke="#111" stroke-width="5"/><line x1="1699.3" y1="2743" x2="1699.3" y2="2767" stroke="#111" stroke-width="5"/>
<line x1="500" y1="3159.4" x2="1930" y2="3159.4" stroke="#bcdcbc" stroke-width="3"/>
<line x1="142" y1="3159.4" x2="500" y2="3159.4" stroke="#a9d0d0" stroke-width="3"/>
<line x1="142" y1="3165" x2="1930" y2="3165" stroke="#2a6a2a" stroke-width="2.8"/>
<line x1="142" y1="3162.2" x2="1930" y2="3162.2" stroke="#0b4b0b" stroke-width="2.8"/>
<g fill="none" stroke-linejoin="round" stroke-linecap="round">
<polyline points="502.6,3164.3 503.6,3164.4 504.6,3164.4 505.6,3164.5 506.6,3164.6 507.6,3164.7 508.6,3164.7 509.6,3164.8 510.6,3164.9 511.6,3165.1 512.6,3165.2 513.6,3165.3 514.6,3165.4 515.6,3165.6 516.6,3165.7 517.6,3165.9 518.6,3166.1 519.6,3166.3 520.6,3166.5 521.6,3166.7 522.6,3166.9 523.6,3167.2 524.6,3167.4 525.6,3167.7 526.6,3168 527.6,3168.3 528.6,3168.6 529.6,3169 530.6,3169.4 531.6,3169.8 532.6,3170.2 533.6,3170.6 534.6,3171.1 535.6,3171.6 536.6,3172.1 537.6,3172.6 538.1,3172.9 538.6,3173.2 539.1,3173.5 539.6,3173.8 540.1,3174.1 540.6,3174.4 541.1,3174.8 541.6,3175.1 542.1,3175.5 542.6,3175.8 543.1,3176.2 543.6,3176.6 544.1,3176.9 544.6,3177.3 545.1,3177.7 545.6,3178.1 546.1,3178.6 546.6,3179 547.1,3179.4 547.6,3179.9 548.1,3180.4 548.6,3180.8 549.1,3181.3 549.6,3181.8 550.1,3182.3 550.6,3182.8 551.1,3183.3 551.6,3183.9 552.1,3184.4 552.6,3185 553.1,3185.5 553.6,3186.1 554.1,3186.7 554.6,3187.3 555.1,3187.9 555.6,3188.6 556.1,3189.2 556.6,3189.9 557.1,3190.5 557.6,3191.2 558.1,3191.9 558.6,3192.6 559.1,3193.3 559.6,3194 560.1,3194.8 560.6,3195.5 561.1,3196.3 561.6,3197.1 562.1,3197.9 562.6,3198.7 563.1,3199.5 563.6,3200.4 564.1,3201.2 564.6,3202.1 565.1,3203 565.6,3203.8 566.1,3204.8 566.6,3205.7 567.1,3206.6 567.6,3207.6 568.1,3208.5 568.6,3209.5 569.1,3210.5 569.6,3211.5 570.1,3212.5 570.6,3213.5 571.1,3214.6 571.6,3215.6 572.1,3216.7 572.6,3217.8 573.1,3218.9 573.6,3220 574.1,3221.1 574.6,3222.2 575.1,3223.4 575.6,3224.6 576.1,3225.7 576.6,3226.9 577.1,3228.1 577.6,3229.3 578.1,3230.6 578.6,3231.8 579.1,3233 579.6,3234.3 580.1,3235.6 580.6,3236.9 581.1,3238.2 581.6,3239.5 582.1,3240.8 582.6,3242.1 583.1,3243.5 583.6,3244.8 584.1,3246.2 584.6,3247.5 585.1,3248.9 585.6,3250.3 586.1,3251.7 586.6,3253.1 587.1,3254.5 587.6,3256 588.1,3257.4 588.6,3258.8 589.1,3260.3 589.6,3261.7 590.1,3263.2 590.6,3264.6 591.1,3266.1 591.6,3267.6 592.1,3269 592.6,3270.5 593.1,3272 593.6,3273.5 594.1,3275 594.6,3276.5 595.1,3278 595.6,3279.5 596.1,3281 596.6,3282.5 597.1,3284 597.6,3285.5 598.1,3287 598.6,3288.5 599.1,3290 599.6,3291.5 600.1,3293 600.6,3294.5 601.1,3296 601.6,3297.4 602.1,3298.9 602.6,3300.4 603.1,3301.9 603.6,3303.3 604.1,3304.8 604.6,3306.2 605.1,3307.7 605.6,3309.1 606.1,3310.5 606.6,3311.9 607.1,3313.3 607.6,3314.7 608.1,3316.1 608.6,3317.5 609.1,3318.8 609.6,3320.2 610.1,3321.5 610.6,3322.8 611.1,3324.2 611.6,3325.4 612.1,3326.7 612.6,3328 613.1,3329.2 613.6,3330.5 614.1,3331.7 614.6,3332.9 615.1,3334 615.6,3335.2 616.1,3336.3 616.6,3337.5 617.1,3338.5 617.6,3339.6 618.1,3340.7 618.6,3341.7 619.1,3342.7 619.6,3343.7 620.1,3344.7 620.6,3345.6 621.1,3346.6 621.6,3347.5 622.1,3348.3 622.6,3349.2 623.1,3350 623.6,3350.8 624.1,3351.6 624.6,3352.3 625.1,3353 625.6,3353.7 626.1,3354.4 626.6,3355 627.1,3355.6 627.6,3356.2 628.1,3356.8 628.6,3357.3 629.1,3357.8 629.6,3358.2 630.1,3358.7 630.6,3359.1 631.1,3359.5 631.6,3359.8 632.1,3360.1 632.6,3360.4 633.1,3360.7 633.6,3360.9 634.1,3361.1 634.6,3361.2 635.1,3361.4 635.6,3361.5 636.1,3361.5 636.6,3361.6 637.1,3361.6 637.6,3361.6 638.1,3361.5 638.6,3361.5 639.1,3361.4 639.6,3361.2 640.1,3361.1 640.6,3360.9 641.1,3360.7 641.6,3360.5 642.1,3360.2 642.6,3360 643.1,3359.7 643.6,3359.3 644.1,3359 644.6,3358.6 645.1,3358.2 645.6,3357.8 646.1,3357.3 646.6,3356.8 647.1,3356.3 647.6,3355.8 648.1,3355.3 648.6,3354.7 649.1,3354.1 649.6,3353.5 650.1,3352.8 650.6,3352.2 651.1,3351.5 651.6,3350.8 652.1,3350 652.6,3349.3 653.1,3348.5 653.6,3347.7 654.1,3346.9 654.6,3346 655.1,3345.2 655.6,3344.3 656.1,3343.4 656.6,3342.5 657.1,3341.6 657.6,3340.6 658.1,3339.6 658.6,3338.6 659.1,3337.6 659.6,3336.6 660.1,3335.6 660.6,3334.5 661.1,3333.4 661.6,3332.3 662.1,3331.2 662.6,3330.1 663.1,3329 663.6,3327.8 664.1,3326.7 664.6,3325.5 665.1,3324.3 665.6,3323.1 666.1,3321.9 666.6,3320.7 667.1,3319.4 667.6,3318.2 668.1,3317 668.6,3315.7 669.1,3314.4 669.6,3313.1 670.1,3311.8 670.6,3310.5 671.1,3309.2 671.6,3307.9 672.1,3306.6 672.6,3305.3 673.1,3303.9 673.6,3302.6 674.1,3301.2 674.6,3299.9 675.1,3298.5 675.6,3297.2 676.1,3295.8 676.6,3294.4 677.1,3293.1 677.6,3291.7 678.1,3290.3 678.6,3288.9 679.1,3287.6 679.6,3286.2 680.1,3284.8 680.6,3283.4 681.1,3282 681.6,3280.7 682.1,3279.3 682.6,3277.9 683.1,3276.5 683.6,3275.2 684.1,3273.8 684.6,3272.4 685.1,3271 685.6,3269.7 686.1,3268.3 686.6,3267 687.1,3265.6 687.6,3264.3 688.1,3262.9 688.6,3261.6 689.1,3260.2 689.6,3258.9 690.1,3257.6 690.6,3256.3 691.1,3255 691.6,3253.7 692.1,3252.4 692.6,3251.1 693.1,3249.8 693.6,3248.5 694.1,3247.3 694.6,3246 695.1,3244.8 695.6,3243.5 696.1,3242.3 696.6,3241.1 697.1,3239.8 697.6,3238.6 698.1,3237.4 698.6,3236.3 699.1,3235.1 699.6,3233.9 700.1,3232.7 700.6,3231.6 701.1,3230.5 701.6,3229.3 702.1,3228.2 702.6,3227.1 703.1,3226 703.6,3224.9 704.1,3223.9 704.6,3222.8 705.1,3221.7 705.6,3220.7 706.1,3219.7 706.6,3218.7 707.1,3217.6 707.6,3216.7 708.1,3215.7 708.6,3214.7 709.1,3213.7 709.6,3212.8 710.1,3211.8 710.6,3210.9 711.1,3210 711.6,3209.1 712.1,3208.2 712.6,3207.3 713.1,3206.5 713.6,3205.6 714.1,3204.8 714.6,3203.9 715.1,3203.1 715.6,3202.3 716.1,3201.5 716.6,3200.7 717.1,3199.9 717.6,3199.2 718.1,3198.4 718.6,3197.7 719.1,3197 719.6,3196.2 720.1,3195.5 720.6,3194.8 721.1,3194.2 721.6,3193.5 722.1,3192.8 722.6,3192.2 723.1,3191.5 723.6,3190.9 724.1,3190.3 724.6,3189.7 725.1,3189.1 725.6,3188.5 726.1,3187.9 726.6,3187.3 727.1,3186.8 727.6,3186.2 728.1,3185.7 728.6,3185.2 729.1,3184.7 729.6,3184.1 730.1,3183.6 730.6,3183.2 731.1,3182.7 731.6,3182.2 732.1,3181.7 732.6,3181.3 733.1,3180.9 733.6,3180.4 734.1,3180 734.6,3179.6 735.1,3179.2 735.6,3178.8 736.1,3178.4 736.6,3178 737.1,3177.6 737.6,3177.3 738.1,3176.9 738.6,3176.5 739.1,3176.2 739.6,3175.9 740.1,3175.5 740.6,3175.2 741.1,3174.9 741.6,3174.6 742.1,3174.3 742.6,3174 743.1,3173.7 743.6,3173.4 744.1,3173.2 744.6,3172.9 745.1,3172.6 745.6,3172.4 746.1,3172.1 747.1,3171.6 748.1,3171.2 749.1,3170.8 750.1,3170.3 751.1,3169.9 752.1,3169.6 753.1,3169.2 754.1,3168.9 755.1,3168.6 756.1,3168.3 757.1,3168 758.1,3167.7 759.1,3167.5 760.1,3167.2 761.1,3167 762.1,3166.8 763.1,3166.6 764.1,3166.4 765.1,3166.2 766.1,3166 767.1,3165.9 768.1,3165.7 769.1,3165.6 770.1,3165.4 771.1,3165.3 772.1,3165.2 773.1,3165.1 774.1,3165 775.1,3164.9 776.1,3164.8 777.1,3164.7 778.1,3164.6 779.1,3164.6 780.1,3164.5 781.1,3164.4 782.1,3164.4 783.1,3164.3" stroke="#ff0000" stroke-width="4.6"/>
<polyline points="450.6,3164.3 451.6,3164.3 452.6,3164.4 453.6,3164.4 454.6,3164.4 455.6,3164.5 456.6,3164.5 457.6,3164.5 458.6,3164.6 459.6,3164.6 460.6,3164.6 461.6,3164.7 462.6,3164.7 463.6,3164.8 464.6,3164.8 465.6,3164.9 466.6,3164.9 467.6,3165 468.6,3165 469.6,3165.1 470.6,3165.1 471.6,3165.2 472.6,3165.3 473.6,3165.3 474.6,3165.4 475.6,3165.5 476.6,3165.5 477.6,3165.6 478.6,3165.7 479.6,3165.8 480.6,3165.8 481.6,3165.9 482.6,3166 483.6,3166.1 484.6,3166.2 485.6,3166.3 486.6,3166.4 487.6,3166.5 488.6,3166.6 489.6,3166.7 490.6,3166.8 491.6,3166.9 492.6,3167.1 493.6,3167.2 494.6,3167.3 495.6,3167.5 496.6,3167.6 497.6,3167.7 498.6,3167.9 499.6,3168 500.6,3168.2 501.6,3168.4 502.6,3168.5 503.6,3168.7 504.6,3168.9 505.6,3169.1 506.6,3169.2 507.6,3169.4 508.6,3169.6 509.6,3169.9 510.6,3170.1 511.6,3170.3 512.6,3170.5 513.6,3170.7 514.6,3171 515.6,3171.2 516.6,3171.5 517.6,3171.8 518.6,3172 519.6,3172.3 520.6,3172.6 521.6,3172.9 522.6,3173.2 523.6,3173.5 524.6,3173.8 525.6,3174.2 526.6,3174.5 527.6,3174.9 528.6,3175.2 529.6,3175.6 530.6,3176 531.6,3176.4 532.6,3176.8 533.6,3177.2 534.6,3177.6 535.6,3178 536.6,3178.5 537.6,3178.9 538.6,3179.4 539.6,3179.9 540.6,3180.4 541.6,3180.9 542.6,3181.4 543.6,3182 544.6,3182.5 545.6,3183.1 546.6,3183.7 547.6,3184.3 548.6,3184.9 549.6,3185.5 550.6,3186.2 551.6,3186.8 552.6,3187.5 553.6,3188.2 554.6,3188.9 555.6,3189.7 556.6,3190.4 557.6,3191.2 558.6,3192 559.6,3192.8 560.6,3193.6 561.6,3194.4 562.6,3195.3 563.6,3196.2 564.6,3197.1 565.6,3198 566.6,3199 567.6,3199.9 568.6,3200.9 569.1,3201.4 569.6,3201.9 570.1,3202.4 570.6,3203 571.1,3203.5 571.6,3204 572.1,3204.6 572.6,3205.1 573.1,3205.7 573.6,3206.2 574.1,3206.8 574.6,3207.4 575.1,3207.9 575.6,3208.5 576.1,3209.1 576.6,3209.7 577.1,3210.3 577.6,3210.9 578.1,3211.5 578.6,3212.1 579.1,3212.8 579.6,3213.4 580.1,3214 580.6,3214.7 581.1,3215.3 581.6,3216 582.1,3216.7 582.6,3217.4 583.1,3218 583.6,3218.7 584.1,3219.4 584.6,3220.1 585.1,3220.8 585.6,3221.6 586.1,3222.3 586.6,3223 587.1,3223.8 587.6,3224.5 588.1,3225.3 588.6,3226 589.1,3226.8 589.6,3227.6 590.1,3228.4 590.6,3229.1 591.1,3229.9 591.6,3230.8 592.1,3231.6 592.6,3232.4 593.1,3233.2 593.6,3234.1 594.1,3234.9 594.6,3235.8 595.1,3236.6 595.6,3237.5 596.1,3238.4 596.6,3239.3 597.1,3240.2 597.6,3241.1 598.1,3242 598.6,3242.9 599.1,3243.9 599.6,3244.8 600.1,3245.8 600.6,3246.7 601.1,3247.7 601.6,3248.7 602.1,3249.6 602.6,3250.6 603.1,3251.6 603.6,3252.7 604.1,3253.7 604.6,3254.7 605.1,3255.7 605.6,3256.8 606.1,3257.9 606.6,3258.9 607.1,3260 607.6,3261.1 608.1,3262.2 608.6,3263.3 609.1,3264.4 609.6,3265.5 610.1,3266.7 610.6,3267.8 611.1,3268.9 611.6,3270.1 612.1,3271.3 612.6,3272.5 613.1,3273.7 613.6,3274.9 614.1,3276.1 614.6,3277.3 615.1,3278.5 615.6,3279.8 616.1,3281 616.6,3282.3 617.1,3283.5 617.6,3284.8 618.1,3286.1 618.6,3287.4 619.1,3288.7 619.6,3290 620.1,3291.4 620.6,3292.7 621.1,3294.1 621.6,3295.4 622.1,3296.8 622.6,3298.2 623.1,3299.6 623.6,3301 624.1,3302.4 624.6,3303.8 625.1,3305.3 625.6,3306.7 626.1,3308.2 626.6,3309.6 627.1,3311.1 627.6,3312.6 628.1,3314.1 628.6,3315.6 629.1,3317.1 629.6,3318.6 630.1,3320.2 630.6,3321.7 631.1,3323.3 631.6,3324.9 632.1,3326.5 632.6,3328.1 633.1,3329.7 633.6,3331.3 634.1,3332.9 634.6,3334.6 635.1,3336.2 635.6,3337.9 636.1,3339.5 636.6,3341.2 637.1,3342.9 637.6,3344.6 638.1,3346.3 638.6,3348.1 639.1,3349.8 639.6,3351.6 640.1,3353.3 640.6,3355.1 641.1,3356.9 641.6,3358.7 642.1,3360.5 642.6,3362.3 643.1,3364.1 643.6,3365.9 644.1,3367.8 644.6,3369.6 645.1,3371.5 645.6,3373.4 646.1,3375.3 646.6,3377.2 647.1,3379.1 647.6,3381 648.1,3382.9 648.6,3384.9 649.1,3386.8 649.6,3388.8 650.1,3390.8 650.6,3392.8 651.1,3394.8 651.6,3396.8 652.1,3398.8 652.6,3400.8 653.1,3402.9 653.6,3404.9 654.1,3407 654.6,3409.1 655.1,3411.2 655.6,3413.2 656.1,3415.3 656.6,3417.5 657.1,3419.6 657.6,3421.7 658.1,3423.9 658.6,3426 659.1,3428.2 659.6,3430.4 660.1,3432.6 660.6,3434.7 661.1,3437 661.6,3439.2 662.1,3441.4 662.6,3443.6 663.1,3445.9 663.6,3448.1 664.1,3450.4 664.6,3452.7 665.1,3455 665.6,3457.3 666.1,3459.6 666.6,3461.9 667.1,3464.2 667.6,3466.5 668.1,3468.9 668.6,3471.2 669.1,3473.6 669.6,3476 670.1,3478.3 670.6,3480.7 671.1,3483.1 671.6,3485.5 672.1,3487.9 672.6,3490.4 673.1,3492.8 673.6,3495.2 674.1,3497.7 674.6,3500.1 675.1,3502.6 675.6,3505.1 676.1,3507.5 676.6,3510 677.1,3512.5 677.6,3515 678.1,3517.5 678.6,3520.1 679.1,3522.6 679.6,3525.1 680.1,3527.7 680.6,3530.2 681.1,3532.8 681.6,3535.3 682.1,3537.9 682.6,3540.5 683.1,3543.1 683.6,3545.7 684.1,3548.2 684.6,3550.9 685.1,3553.5 685.6,3556.1 686.1,3558.7 686.6,3561.3 687.1,3564 687.6,3566.6 688.1,3569.2 688.6,3571.9 689.1,3574.6 689.6,3577.2 690.1,3579.9 690.6,3582.6 691.1,3585.2 691.6,3587.9 692.1,3590.6 692.6,3593.3 693.1,3596 693.6,3598.7 694.1,3601.4 694.6,3604.1 695.1,3606.8 695.6,3609.5 696.1,3612.3 696.6,3615 697.1,3617.7 697.6,3620.4 698.1,3623.2 698.6,3625.9 699.1,3628.6 699.6,3631.4 700.1,3634.1 700.6,3636.9 701.1,3639.6 701.6,3642.4 702.1,3645.1 702.6,3647.9 703.1,3650.6 703.6,3653.4 704.1,3656.2 704.6,3658.9 705.1,3661.7 705.6,3664.4 706.1,3667.2 706.6,3670 707.1,3672.7 707.6,3675.5 708.1,3678.3 708.6,3681 709.1,3683.8 709.6,3686.6 710.1,3689.3 710.6,3692.1 711.1,3694.9 711.6,3697.6 712.1,3700.4 712.6,3703.1 713.1,3705.9 713.6,3708.7 714.1,3711.4 714.6,3714.2 715.1,3716.9 715.6,3719.7 716.1,3722.4 716.6,3725.1 717.1,3727.9 717.6,3730.6 718.1,3733.4 718.6,3736.1 719.1,3738.8 719.6,3741.5 720.1,3744.3 720.6,3747 721.1,3749.7 721.6,3752.4 722.1,3755.1 722.6,3757.8 723.1,3760.5 723.6,3763.2 724.1,3765.8 724.6,3768.5 725.1,3771.2 725.6,3773.9 726.1,3776.5 726.6,3779.2 727.1,3781.8 727.6,3784.4 728.1,3787.1 728.6,3789.7 729.1,3792.3 729.6,3794.9 730.1,3797.5 730.6,3800.1 731.1,3802.7 731.6,3805.3 732.1,3807.9 732.6,3810.4 733.1,3813 733.6,3815.5 734.1,3818.1 734.6,3820.6 735.1,3823.1 735.6,3825.6 736.1,3828.1 736.6,3830.6 737.1,3833.1 737.6,3835.6 738.1,3838 738.6,3840.5 739.1,3842.9 739.6,3845.3 740.1,3847.8 740.6,3850.2 741.1,3852.6 741.6,3854.9 742.1,3857.3 742.6,3859.7 743.1,3862 743.6,3864.3 744.1,3866.7 744.6,3869 745.1,3871.3 745.6,3873.6 746.1,3875.8 746.6,3878.1 747.1,3880.3 747.6,3882.5 748.1,3884.8 748.6,3887 749.1,3889.1 749.6,3891.3 750.1,3893.5 750.6,3895.6 751.1,3897.7 751.6,3899.9 752.1,3902 752.6,3904 753.1,3906.1 753.6,3908.1 754.1,3910.2 754.6,3912.2 755.1,3914.2 755.6,3916.2 756.1,3918.2 756.6,3920.1 757.1,3922 757.6,3924 758.1,3925.9 758.6,3927.7 759.1,3929.6 759.6,3931.5 760.1,3933.3 760.6,3935.1 761.1,3936.9 761.6,3938.7 762.1,3940.4 762.6,3942.2 763.1,3943.9 763.6,3945.6 764.1,3947.3 764.6,3948.9 765.1,3950.6 765.6,3952.2 766.1,3953.8 766.6,3955.4 767.1,3957 767.6,3958.5 768.1,3960 768.6,3961.5 769.1,3963 769.6,3964.5 770.1,3965.9 770.6,3967.4 771.1,3968.8 771.6,3970.2 772.1,3971.5 772.6,3972.9 773.1,3974.2 773.6,3975.5 774.1,3976.8 774.6,3978 775.1,3979.2 775.6,3980.5 776.1,3981.6 776.6,3982.8 777.1,3984 777.6,3985.1 778.1,3986.2 778.6,3987.3 779.1,3988.3 779.6,3989.4 780.1,3990.4 780.6,3991.4 781.1,3992.3 781.6,3993.3 782.1,3994.2 782.6,3995.1 783.1,3996 783.6,3996.8 784.1,3997.6 784.6,3998.5 785.1,3999.2 785.6,4000 786.1,4000.7 786.6,4001.4 787.1,4002.1 787.6,4002.8 788.1,4003.4 788.6,4004 789.1,4004.6 789.6,4005.2 790.1,4005.8 790.6,4006.3 791.1,4006.8 791.6,4007.2 792.1,4007.7 792.6,4008.1 793.1,4008.5 793.6,4008.9 794.1,4009.2 794.6,4009.6 795.1,4009.9 795.6,4010.2 796.1,4010.4 796.6,4010.6 797.1,4010.8 797.6,4011 798.1,4011.2 798.6,4011.3 799.1,4011.4 799.6,4011.5 800.1,4011.6 800.6,4011.6" stroke="#00ff00" stroke-width="4.6"/>
<polyline points="1000,3233.2 1000.5,3232.4 1001,3231.5 1001.5,3230.6 1002,3229.8 1002.5,3229 1003,3228.1 1003.5,3227.3 1004,3226.5 1004.5,3225.7 1005,3224.9 1005.5,3224.1 1006,3223.3 1006.5,3222.6 1007,3221.8 1007.5,3221.1 1008,3220.3 1008.5,3219.6 1009,3218.9 1009.5,3218.1 1010,3217.4 1010.5,3216.7 1011,3216 1011.5,3215.3 1012,3214.6 1012.5,3214 1013,3213.3 1013.5,3212.6 1014,3212 1014.5,3211.3 1015,3210.7 1015.5,3210.1 1016,3209.4 1016.5,3208.8 1017,3208.2 1017.5,3207.6 1018,3207 1018.5,3206.4 1019,3205.8 1019.5,3205.2 1020,3204.7 1020.5,3204.1 1021,3203.6 1021.5,3203 1022,3202.5 1022.5,3201.9 1023,3201.4 1023.5,3200.9 1024,3200.3 1025,3199.3 1026,3198.3 1027,3197.3 1028,3196.4 1029,3195.5 1030,3194.6 1031,3193.7 1032,3192.8 1033,3192 1034,3191.1 1035,3190.3 1036,3189.6 1037,3188.8 1038,3188.1 1039,3187.3 1040,3186.6 1041,3186 1042,3185.3 1043,3184.6 1044,3184 1045,3183.4 1046,3182.8 1047,3182.2 1048,3181.6 1049,3181.1 1050,3180.5 1051,3180 1052,3179.5 1053,3179 1054,3178.5 1055,3178 1056,3177.6 1057,3177.1 1058,3176.7 1059,3176.3 1060,3175.9 1061,3175.5 1062,3175.1 1063,3174.7 1064,3174.4 1065,3174 1066,3173.7 1067,3173.3 1068,3173 1069,3172.7 1070,3172.4 1071,3172.1 1072,3171.8 1073,3171.5 1074,3171.3 1075,3171 1076,3170.8 1077,3170.5 1078,3170.3 1079,3170.1 1080,3169.8 1081,3169.6 1082,3169.4 1083,3169.2 1084,3169 1085,3168.8 1086,3168.6 1087,3168.5 1088,3168.3 1089,3168.1 1090,3168 1091,3167.8 1092,3167.6 1093,3167.5 1094,3167.4 1095,3167.2 1096,3167.1 1097,3167 1098,3166.8 1099,3166.7 1100,3166.6 1101,3166.5 1102,3166.4 1103,3166.3 1104,3166.2 1105,3166.1 1106,3166 1107,3165.9 1108,3165.8 1109,3165.7 1110,3165.6 1111,3165.6 1112,3165.5 1113,3165.4 1114,3165.3 1115,3165.3 1116,3165.2 1117,3165.2 1118,3165.1 1119,3165 1120,3165 1121,3164.9 1122,3164.9 1123,3164.8 1124,3164.8 1125,3164.7 1126,3164.7 1127,3164.6 1128,3164.6 1129,3164.6 1130,3164.5 1131,3164.5 1132,3164.4 1133,3164.4 1134,3164.4 1135,3164.3 1136,3164.3" stroke="#00ff00" stroke-width="4.6"/>
<polyline points="1000.5,3164.3 1001.5,3164.4 1002.5,3164.4 1003.5,3164.5 1004.5,3164.6 1005.5,3164.7 1006.5,3164.8 1007.5,3164.9 1008.5,3165.1 1009.5,3165.2 1010.5,3165.4 1011.5,3165.5 1012.5,3165.7 1013.5,3165.9 1014.5,3166.1 1015.5,3166.3 1016.5,3166.5 1017.5,3166.8 1018.5,3167 1019.5,3167.3 1020.5,3167.6 1021.5,3168 1022.5,3168.3 1023,3168.5 1023.5,3168.7 1024,3168.9 1024.5,3169.1 1025,3169.3 1025.5,3169.5 1026,3169.7 1026.5,3169.9 1027,3170.2 1027.5,3170.4 1028,3170.7 1028.5,3170.9 1029,3171.2 1029.5,3171.4 1030,3171.7 1030.5,3172 1031,3172.3 1031.5,3172.6 1032,3172.9 1032.5,3173.2 1033,3173.5 1033.5,3173.9 1034,3174.2 1034.5,3174.6 1035,3174.9 1035.5,3175.3 1036,3175.7 1036.5,3176.1 1037,3176.5 1037.5,3176.9 1038,3177.3 1038.5,3177.7 1039,3178.1 1039.5,3178.6 1040,3179 1040.5,3179.5 1041,3180 1041.5,3180.5 1042,3181 1042.5,3181.5 1043,3182 1043.5,3182.5 1044,3183.1 1044.5,3183.6 1045,3184.2 1045.5,3184.7 1046,3185.3 1046.5,3185.9 1047,3186.5 1047.5,3187.1 1048,3187.7 1048.5,3188.4 1049,3189 1049.5,3189.7 1050,3190.3 1050.5,3191 1051,3191.7 1051.5,3192.4 1052,3193.1 1052.5,3193.8 1053,3194.6 1053.5,3195.3 1054,3196 1054.5,3196.8 1055,3197.6 1055.5,3198.3 1056,3199.1 1056.5,3199.9 1057,3200.7 1057.5,3201.5 1058,3202.4 1058.5,3203.2 1059,3204 1059.5,3204.9 1060,3205.7 1060.5,3206.6 1061,3207.4 1061.5,3208.3 1062,3209.2 1062.5,3210.1 1063,3211 1063.5,3211.9 1064,3212.8 1064.5,3213.7 1065,3214.6 1065.5,3215.5 1066,3216.5 1066.5,3217.4 1067,3218.3 1067.5,3219.3 1068,3220.2 1068.5,3221.1 1069,3222.1 1069.5,3223 1070,3223.9 1070.5,3224.9 1071,3225.8 1071.5,3226.8 1072,3227.7 1072.5,3228.7 1073,3229.6 1073.5,3230.5 1074,3231.5 1074.5,3232.4 1075,3233.3 1075.5,3234.2 1076,3235.2 1076.5,3236.1 1077,3237 1077.5,3237.9 1078,3238.8 1078.5,3239.6 1079,3240.5 1079.5,3241.4 1080,3242.3 1080.5,3243.1 1081,3243.9 1081.5,3244.8 1082,3245.6 1082.5,3246.4 1083,3247.2 1083.5,3248 1084,3248.8 1084.5,3249.5 1085,3250.3 1085.5,3251 1086,3251.7 1086.5,3252.4 1087,3253.1 1087.5,3253.8 1088,3254.4 1088.5,3255.1 1089,3255.7 1089.5,3256.3 1090,3256.9 1090.5,3257.4 1091,3258 1091.5,3258.5 1092,3259 1092.5,3259.5 1093,3259.9 1093.5,3260.4 1094,3260.8 1094.5,3261.2 1095,3261.6 1095.5,3262 1096,3262.3 1096.5,3262.6 1097,3262.9 1097.5,3263.2 1098,3263.4 1098.5,3263.6 1099,3263.8 1099.5,3264 1100,3264.2 1100.5,3264.3 1101,3264.4 1101.5,3264.5 1102,3264.6 1102.5,3264.6 1103,3264.6 1103.5,3264.6 1104,3264.6 1104.5,3264.5 1105,3264.4 1105.5,3264.3 1106,3264.2 1106.5,3264 1107,3263.8 1107.5,3263.6 1108,3263.4 1108.5,3263.2 1109,3262.9 1109.5,3262.6 1110,3262.3 1110.5,3261.9 1111,3261.6 1111.5,3261.2 1112,3260.8 1112.5,3260.4 1113,3259.9 1113.5,3259.4 1114,3259 1114.5,3258.5 1115,3257.9 1115.5,3257.4 1116,3256.8 1116.5,3256.2 1117,3255.6 1117.5,3255 1118,3254.4 1118.5,3253.7 1119,3253.1 1119.5,3252.4 1120,3251.7 1120.5,3250.9 1121,3250.2 1121.5,3249.5 1122,3248.7 1122.5,3247.9 1123,3247.2 1123.5,3246.4 1124,3245.5 1124.5,3244.7 1125,3243.9 1125.5,3243.1 1126,3242.2 1126.5,3241.3 1127,3240.5 1127.5,3239.6 1128,3238.7 1128.5,3237.8 1129,3236.9 1129.5,3236 1130,3235.1 1130.5,3234.2 1131,3233.3 1131.5,3232.3 1132,3231.4 1132.5,3230.5 1133,3229.5 1133.5,3228.6 1134,3227.7 1134.5,3226.7 1135,3225.8 1135.5,3224.8 1136,3223.9 1136.5,3222.9 1137,3222 1137.5,3221.1 1138,3220.1 1138.5,3219.2 1139,3218.3 1139.5,3217.3 1140,3216.4 1140.5,3215.5 1141,3214.6 1141.5,3213.6 1142,3212.7 1142.5,3211.8 1143,3210.9 1143.5,3210 1144,3209.1 1144.5,3208.3 1145,3207.4 1145.5,3206.5 1146,3205.7 1146.5,3204.8 1147,3204 1147.5,3203.1 1148,3202.3 1148.5,3201.5 1149,3200.7 1149.5,3199.9 1150,3199.1 1150.5,3198.3 1151,3197.5 1151.5,3196.7 1152,3196 1152.5,3195.2 1153,3194.5 1153.5,3193.8 1154,3193.1 1154.5,3192.4 1155,3191.7 1155.5,3191 1156,3190.3 1156.5,3189.6 1157,3189 1157.5,3188.3 1158,3187.7 1158.5,3187.1 1159,3186.5 1159.5,3185.9 1160,3185.3 1160.5,3184.7 1161,3184.1 1161.5,3183.6 1162,3183 1162.5,3182.5 1163,3182 1163.5,3181.4 1164,3180.9 1164.5,3180.4 1165,3180 1165.5,3179.5 1166,3179 1166.5,3178.6 1167,3178.1 1167.5,3177.7 1168,3177.3 1168.5,3176.8 1169,3176.4 1169.5,3176 1170,3175.7 1170.5,3175.3 1171,3174.9 1171.5,3174.5 1172,3174.2 1172.5,3173.9 1173,3173.5 1173.5,3173.2 1174,3172.9 1174.5,3172.6 1175,3172.3 1175.5,3172 1176,3171.7 1176.5,3171.4 1177,3171.2 1177.5,3170.9 1178,3170.6 1178.5,3170.4 1179,3170.2 1179.5,3169.9 1180,3169.7 1180.5,3169.5 1181,3169.3 1181.5,3169.1 1182,3168.9 1182.5,3168.7 1183,3168.5 1183.5,3168.3 1184,3168.1 1184.5,3167.9 1185.5,3167.6 1186.5,3167.3 1187.5,3167 1188.5,3166.8 1189.5,3166.5 1190.5,3166.3 1191.5,3166.1 1192.5,3165.9 1193.5,3165.7 1194.5,3165.5 1195.5,3165.4 1196.5,3165.2 1197.5,3165.1 1198.5,3164.9 1199.5,3164.8 1200.5,3164.7 1201.5,3164.6 1202.5,3164.5 1203.5,3164.4 1204.5,3164.4" stroke="#0000ff" stroke-width="4.6"/>
<polyline points="1180.5,3164.3 1181.5,3164.5 1182.5,3164.8 1183.5,3165.2 1184.5,3165.7 1185.5,3166.3 1186,3166.7 1186.5,3167 1187,3167.5 1187.5,3167.9 1188,3168.4 1188.5,3169 1189,3169.6 1189.5,3170.3 1190,3171 1190.5,3171.7 1191,3172.6 1191.5,3173.5 1192,3174.4 1192.5,3175.4 1193,3176.5 1193.5,3177.6 1194,3178.8 1194.5,3180 1195,3181.3 1195.5,3182.7 1196,3184.1 1196.5,3185.6 1197,3187.1 1197.5,3188.6 1198,3190.2 1198.5,3191.9 1199,3193.5 1199.5,3195.1 1200,3196.8 1200.5,3198.5 1201,3200.1 1201.5,3201.8 1202,3203.4 1202.5,3205 1203,3206.5 1203.5,3208 1204,3209.4 1204.5,3210.8 1205,3212 1205.5,3213.2 1206,3214.3 1206.5,3215.3 1207,3216.1 1207.5,3216.8 1208,3217.5 1208.5,3217.9 1209,3218.3 1209.5,3218.5 1210,3218.6 1210.5,3218.5 1211,3218.3 1211.5,3218 1212,3217.6 1212.5,3217 1213,3216.2 1213.5,3215.4 1214,3214.5 1214.5,3213.4 1215,3212.2 1215.5,3211 1216,3209.7 1216.5,3208.3 1217,3206.8 1217.5,3205.3 1218,3203.7 1218.5,3202.1 1219,3200.4 1219.5,3198.8 1220,3197.1 1220.5,3195.4 1221,3193.8 1221.5,3192.1 1222,3190.5 1222.5,3188.9 1223,3187.4 1223.5,3185.8 1224,3184.4 1224.5,3182.9 1225,3181.6 1225.5,3180.3 1226,3179 1226.5,3177.8 1227,3176.7 1227.5,3175.6 1228,3174.6 1228.5,3173.6 1229,3172.7 1229.5,3171.9 1230,3171.1 1230.5,3170.4 1231,3169.7 1231.5,3169.1 1232,3168.5 1232.5,3168 1233,3167.5 1233.5,3167.1 1234,3166.7 1234.5,3166.4 1235,3166 1235.5,3165.8 1236.5,3165.3 1237.5,3164.9 1238.5,3164.6 1239.5,3164.3" stroke="#ff00ff" stroke-width="4.6"/>
<polyline points="1185.6,3164.3 1186.6,3164.4 1187.6,3164.5 1188.6,3164.5 1189.6,3164.6 1190.6,3164.7 1191.6,3164.9 1192.6,3165 1193.6,3165.1 1194.6,3165.3 1195.6,3165.4 1196.6,3165.6 1197.6,3165.8 1198.6,3166 1199.6,3166.2 1200.6,3166.5 1201.6,3166.7 1202.6,3167 1203.6,3167.3 1204.6,3167.6 1205.6,3167.9 1206.6,3168.3 1207.6,3168.7 1208.6,3169.1 1209.6,3169.6 1210.1,3169.8 1210.6,3170 1211.1,3170.3 1211.6,3170.5 1212.1,3170.8 1212.6,3171.1 1213.1,3171.4 1213.6,3171.7 1214.1,3172 1214.6,3172.3 1215.1,3172.6 1215.6,3172.9 1216.1,3173.3 1216.6,3173.6 1217.1,3174 1217.6,3174.3 1218.1,3174.7 1218.6,3175.1 1219.1,3175.5 1219.6,3175.9 1220.1,3176.3 1220.6,3176.8 1221.1,3177.2 1221.6,3177.7 1222.1,3178.1 1222.6,3178.6 1223.1,3179.1 1223.6,3179.6 1224.1,3180.1 1224.6,3180.7 1225.1,3181.2 1225.6,3181.8 1226.1,3182.3 1226.6,3182.9 1227.1,3183.5 1227.6,3184.1 1228.1,3184.7 1228.6,3185.4 1229.1,3186 1229.6,3186.7 1230.1,3187.4 1230.6,3188.1 1231.1,3188.8 1231.6,3189.5 1232.1,3190.2 1232.6,3191 1233.1,3191.7 1233.6,3192.5 1234.1,3193.3 1234.6,3194.1 1235.1,3194.9 1235.6,3195.7 1236.1,3196.6 1236.6,3197.4 1237.1,3198.3 1237.6,3199.2 1238.1,3200.1 1238.6,3201 1239.1,3201.9 1239.6,3202.9 1240.1,3203.8 1240.6,3204.8 1241.1,3205.8 1241.6,3206.7 1242.1,3207.8 1242.6,3208.8 1243.1,3209.8 1243.6,3210.8 1244.1,3211.9 1244.6,3213 1245.1,3214 1245.6,3215.1 1246.1,3216.2 1246.6,3217.3 1247.1,3218.4 1247.6,3219.6 1248.1,3220.7 1248.6,3221.8 1249.1,3223 1249.6,3224.1 1250.1,3225.3 1250.6,3226.5 1251.1,3227.7 1251.6,3228.9 1252.1,3230 1252.6,3231.2 1253.1,3232.4 1253.6,3233.7 1254.1,3234.9 1254.6,3236.1 1255.1,3237.3 1255.6,3238.5 1256.1,3239.7 1256.6,3241 1257.1,3242.2 1257.6,3243.4 1258.1,3244.6 1258.6,3245.8 1259.1,3247.1 1259.6,3248.3 1260.1,3249.5 1260.6,3250.7 1261.1,3251.9 1261.6,3253.1 1262.1,3254.3 1262.6,3255.5 1263.1,3256.7 1263.6,3257.8 1264.1,3259 1264.6,3260.1 1265.1,3261.3 1265.6,3262.4 1266.1,3263.5 1266.6,3264.7 1267.1,3265.8 1267.6,3266.8 1268.1,3267.9 1268.6,3269 1269.1,3270 1269.6,3271 1270.1,3272 1270.6,3273 1271.1,3274 1271.6,3274.9 1272.1,3275.9 1272.6,3276.8 1273.1,3277.7 1273.6,3278.6 1274.1,3279.4 1274.6,3280.2 1275.1,3281 1275.6,3281.8 1276.1,3282.6 1276.6,3283.3 1277.1,3284 1277.6,3284.7 1278.1,3285.4 1278.6,3286 1279.1,3286.6 1279.6,3287.2 1280.1,3287.7 1280.6,3288.3 1281.1,3288.8 1281.6,3289.2 1282.1,3289.7 1282.6,3290.1 1283.1,3290.5 1283.6,3290.8 1284.1,3291.1 1284.6,3291.4 1285.1,3291.7 1285.6,3291.9 1286.1,3292.1 1286.6,3292.2 1287.1,3292.4 1287.6,3292.5 1288.1,3292.6 1288.6,3292.6 1289.1,3292.6 1289.6,3292.6 1290.1,3292.5 1290.6,3292.4 1291.1,3292.3 1291.6,3292.2 1292.1,3292 1292.6,3291.8 1293.1,3291.5 1293.6,3291.3 1294.1,3290.9 1294.6,3290.6 1295.1,3290.2 1295.6,3289.9 1296.1,3289.4 1296.6,3289 1297.1,3288.5 1297.6,3288 1298.1,3287.4 1298.6,3286.9 1299.1,3286.3 1299.6,3285.7 1300.1,3285 1300.6,3284.3 1301.1,3283.6 1301.6,3282.9 1302.1,3282.2 1302.6,3281.4 1303.1,3280.6 1303.6,3279.8 1304.1,3278.9 1304.6,3278.1 1305.1,3277.2 1305.6,3276.3 1306.1,3275.4 1306.6,3274.4 1307.1,3273.5 1307.6,3272.5 1308.1,3271.5 1308.6,3270.5 1309.1,3269.4 1309.6,3268.4 1310.1,3267.3 1310.6,3266.2 1311.1,3265.1 1311.6,3264 1312.1,3262.9 1312.6,3261.8 1313.1,3260.7 1313.6,3259.5 1314.1,3258.3 1314.6,3257.2 1315.1,3256 1315.6,3254.8 1316.1,3253.6 1316.6,3252.4 1317.1,3251.2 1317.6,3250 1318.1,3248.8 1318.6,3247.6 1319.1,3246.4 1319.6,3245.2 1320.1,3243.9 1320.6,3242.7 1321.1,3241.5 1321.6,3240.3 1322.1,3239.1 1322.6,3237.8 1323.1,3236.6 1323.6,3235.4 1324.1,3234.2 1324.6,3233 1325.1,3231.8 1325.6,3230.6 1326.1,3229.4 1326.6,3228.2 1327.1,3227 1327.6,3225.8 1328.1,3224.7 1328.6,3223.5 1329.1,3222.3 1329.6,3221.2 1330.1,3220.1 1330.6,3218.9 1331.1,3217.8 1331.6,3216.7 1332.1,3215.6 1332.6,3214.5 1333.1,3213.4 1333.6,3212.4 1334.1,3211.3 1334.6,3210.3 1335.1,3209.2 1335.6,3208.2 1336.1,3207.2 1336.6,3206.2 1337.1,3205.2 1337.6,3204.2 1338.1,3203.3 1338.6,3202.3 1339.1,3201.4 1339.6,3200.5 1340.1,3199.6 1340.6,3198.7 1341.1,3197.8 1341.6,3196.9 1342.1,3196.1 1342.6,3195.3 1343.1,3194.4 1343.6,3193.6 1344.1,3192.8 1344.6,3192.1 1345.1,3191.3 1345.6,3190.5 1346.1,3189.8 1346.6,3189.1 1347.1,3188.4 1347.6,3187.7 1348.1,3187 1348.6,3186.3 1349.1,3185.7 1349.6,3185 1350.1,3184.4 1350.6,3183.8 1351.1,3183.2 1351.6,3182.6 1352.1,3182 1352.6,3181.5 1353.1,3180.9 1353.6,3180.4 1354.1,3179.8 1354.6,3179.3 1355.1,3178.8 1355.6,3178.4 1356.1,3177.9 1356.6,3177.4 1357.1,3177 1357.6,3176.5 1358.1,3176.1 1358.6,3175.7 1359.1,3175.3 1359.6,3174.9 1360.1,3174.5 1360.6,3174.1 1361.1,3173.8 1361.6,3173.4 1362.1,3173.1 1362.6,3172.7 1363.1,3172.4 1363.6,3172.1 1364.1,3171.8 1364.6,3171.5 1365.1,3171.2 1365.6,3170.9 1366.1,3170.7 1366.6,3170.4 1367.1,3170.1 1367.6,3169.9 1368.1,3169.7 1368.6,3169.4 1369.1,3169.2 1370.1,3168.8 1371.1,3168.4 1372.1,3168 1373.1,3167.7 1374.1,3167.3 1375.1,3167 1376.1,3166.8 1377.1,3166.5 1378.1,3166.3 1379.1,3166 1380.1,3165.8 1381.1,3165.6 1382.1,3165.5 1383.1,3165.3 1384.1,3165.2 1385.1,3165 1386.1,3164.9 1387.1,3164.8 1388.1,3164.7 1389.1,3164.6 1390.1,3164.5 1391.1,3164.4 1392.1,3164.3" stroke="#00ffff" stroke-width="4.6"/>
<polyline points="1307.5,3164.3 1308.5,3164.4 1309.5,3164.5 1310.5,3164.6 1311.5,3164.7 1312.5,3164.8 1313.5,3165 1314.5,3165.2 1315.5,3165.3 1316.5,3165.5 1317.5,3165.8 1318.5,3166 1319.5,3166.3 1320.5,3166.6 1321.5,3166.9 1322.5,3167.2 1323.5,3167.6 1324.5,3168.1 1325.5,3168.5 1326.5,3169 1327.5,3169.6 1328.5,3170.2 1329.5,3170.9 1330.5,3171.6 1331.5,3172.4 1332.5,3173.2 1333.5,3174.1 1334.5,3175.1 1335.5,3176.2 1336.5,3177.4 1337.5,3178.7 1338.5,3180 1339.5,3181.5 1340.5,3183.1 1341.5,3184.8 1342.5,3186.6 1343.5,3188.6 1344.5,3190.7 1345.5,3192.9 1346,3194.1 1346.5,3195.3 1347,3196.6 1347.5,3197.9 1348,3199.2 1348.5,3200.6 1349,3202 1349.5,3203.5 1350,3205 1350.5,3206.6 1351,3208.2 1351.5,3209.8 1352,3211.6 1352.5,3213.3 1353,3215.1 1353.5,3217 1354,3218.9 1354.5,3220.9 1355,3223 1355.5,3225.1 1356,3227.2 1356.5,3229.4 1357,3231.7 1357.5,3234 1358,3236.4 1358.5,3238.9 1359,3241.4 1359.5,3243.9 1360,3246.6 1360.5,3249.3 1361,3252.1 1361.5,3254.9 1362,3257.8 1362.5,3260.8 1363,3263.9 1363.5,3267 1364,3270.2 1364.5,3273.4 1365,3276.7 1365.5,3280.1 1366,3283.6 1366.5,3287.2 1367,3290.8 1367.5,3294.5 1368,3298.2 1368.5,3302.1 1369,3306 1369.5,3310 1370,3314 1370.5,3318.1 1371,3322.4 1371.5,3326.6 1372,3331 1372.5,3335.4 1373,3339.9 1373.5,3344.5 1374,3349.1 1374.5,3353.8 1375,3358.6 1375.5,3363.4 1376,3368.4 1376.5,3373.3 1377,3378.4 1377.5,3383.5 1378,3388.7 1378.5,3394 1379,3399.3 1379.5,3404.6 1380,3410.1 1380.5,3415.6 1381,3421.1 1381.5,3426.7 1382,3432.4 1382.5,3438.1 1383,3443.9 1383.5,3449.7 1384,3455.6 1384.5,3461.5 1385,3467.4 1385.5,3473.4 1386,3479.4 1386.5,3485.5 1387,3491.6 1387.5,3497.7 1388,3503.9 1388.5,3510.1 1389,3516.3 1389.5,3522.5 1390,3528.8 1390.5,3535 1391,3541.3 1391.5,3547.6 1392,3553.9 1392.5,3560.2 1393,3566.5 1393.5,3572.8 1394,3579.1 1394.5,3585.4 1395,3591.6 1395.5,3597.9 1396,3604.1 1396.5,3610.3 1397,3616.5 1397.5,3622.6 1398,3628.7 1398.5,3634.8 1399,3640.8 1399.5,3646.8 1400,3652.8 1400.5,3658.7 1401,3664.5 1401.5,3670.3 1402,3676 1402.5,3681.6 1403,3687.2 1403.5,3692.7 1404,3698.2 1404.5,3703.5 1405,3708.8 1405.5,3713.9 1406,3719 1406.5,3724 1407,3728.9 1407.5,3733.7 1408,3738.4 1408.5,3743 1409,3747.5 1409.5,3751.8 1410,3756 1410.5,3760.2 1411,3764.2 1411.5,3768 1412,3771.8 1412.5,3775.4 1413,3778.9 1413.5,3782.2 1414,3785.4 1414.5,3788.5 1415,3791.4 1415.5,3794.2 1416,3796.8 1416.5,3799.3 1417,3801.6 1417.5,3803.8 1418,3805.8 1418.5,3807.7 1419,3809.4 1419.5,3810.9 1420,3812.3 1420.5,3813.6 1421,3814.6 1421.5,3815.5 1422,3816.3 1422.5,3816.9 1423,3817.3 1423.5,3817.5 1424,3817.6 1424.5,3817.5 1425,3817.3 1425.5,3816.9 1426,3816.3 1426.5,3815.6 1427,3814.7 1427.5,3813.6 1428,3812.4 1428.5,3811 1429,3809.4 1429.5,3807.7 1430,3805.9 1430.5,3803.8 1431,3801.7 1431.5,3799.3 1432,3796.9 1432.5,3794.2 1433,3791.5 1433.5,3788.6 1434,3785.5 1434.5,3782.3 1435,3779 1435.5,3775.5 1436,3771.9 1436.5,3768.1 1437,3764.3 1437.5,3760.3 1438,3756.1 1438.5,3751.9 1439,3747.5 1439.5,3743.1 1440,3738.5 1440.5,3733.8 1441,3729 1441.5,3724.1 1442,3719.1 1442.5,3714.1 1443,3708.9 1443.5,3703.6 1444,3698.3 1444.5,3692.8 1445,3687.3 1445.5,3681.8 1446,3676.1 1446.5,3670.4 1447,3664.6 1447.5,3658.8 1448,3652.9 1448.5,3647 1449,3641 1449.5,3634.9 1450,3628.9 1450.5,3622.8 1451,3616.6 1451.5,3610.4 1452,3604.2 1452.5,3598 1453,3591.8 1453.5,3585.5 1454,3579.2 1454.5,3572.9 1455,3566.6 1455.5,3560.3 1456,3554 1456.5,3547.8 1457,3541.5 1457.5,3535.2 1458,3528.9 1458.5,3522.7 1459,3516.4 1459.5,3510.2 1460,3504 1460.5,3497.9 1461,3491.7 1461.5,3485.6 1462,3479.6 1462.5,3473.5 1463,3467.6 1463.5,3461.6 1464,3455.7 1464.5,3449.8 1465,3444 1465.5,3438.2 1466,3432.5 1466.5,3426.9 1467,3421.3 1467.5,3415.7 1468,3410.2 1468.5,3404.8 1469,3399.4 1469.5,3394.1 1470,3388.8 1470.5,3383.6 1471,3378.5 1471.5,3373.5 1472,3368.5 1472.5,3363.6 1473,3358.7 1473.5,3353.9 1474,3349.2 1474.5,3344.6 1475,3340 1475.5,3335.5 1476,3331.1 1476.5,3326.7 1477,3322.4 1477.5,3318.2 1478,3314.1 1478.5,3310.1 1479,3306.1 1479.5,3302.2 1480,3298.3 1480.5,3294.6 1481,3290.9 1481.5,3287.2 1482,3283.7 1482.5,3280.2 1483,3276.8 1483.5,3273.5 1484,3270.2 1484.5,3267 1485,3263.9 1485.5,3260.9 1486,3257.9 1486.5,3255 1487,3252.1 1487.5,3249.4 1488,3246.7 1488.5,3244 1489,3241.4 1489.5,3238.9 1490,3236.5 1490.5,3234.1 1491,3231.7 1491.5,3229.5 1492,3227.3 1492.5,3225.1 1493,3223 1493.5,3221 1494,3219 1494.5,3217.1 1495,3215.2 1495.5,3213.4 1496,3211.6 1496.5,3209.9 1497,3208.2 1497.5,3206.6 1498,3205 1498.5,3203.5 1499,3202 1499.5,3200.6 1500,3199.2 1500.5,3197.9 1501,3196.6 1501.5,3195.3 1502,3194.1 1502.5,3192.9 1503,3191.8 1504,3189.6 1505,3187.6 1506,3185.7 1507,3183.9 1508,3182.3 1509,3180.8 1510,3179.3 1511,3178 1512,3176.8 1513,3175.7 1514,3174.6 1515,3173.7 1516,3172.8 1517,3172 1518,3171.2 1519,3170.5 1520,3169.9 1521,3169.3 1522,3168.8 1523,3168.3 1524,3167.8 1525,3167.4 1526,3167.1 1527,3166.7 1528,3166.4 1529,3166.1 1530,3165.9 1531,3165.6 1532,3165.4 1533,3165.2 1534,3165.1 1535,3164.9 1536,3164.8 1537,3164.7 1538,3164.5 1539,3164.4 1540,3164.3" stroke="#ffff00" stroke-width="4.6"/>
<polyline points="1272.7,3164.3 1273.7,3164.3 1274.7,3164.4 1275.7,3164.4 1276.7,3164.5 1277.7,3164.5 1278.7,3164.5 1279.7,3164.6 1280.7,3164.6 1281.7,3164.7 1282.7,3164.8 1283.7,3164.8 1284.7,3164.9 1285.7,3164.9 1286.7,3165 1287.7,3165.1 1288.7,3165.1 1289.7,3165.2 1290.7,3165.3 1291.7,3165.4 1292.7,3165.5 1293.7,3165.6 1294.7,3165.7 1295.7,3165.7 1296.7,3165.8 1297.7,3166 1298.7,3166.1 1299.7,3166.2 1300.7,3166.3 1301.7,3166.4 1302.7,3166.6 1303.7,3166.7 1304.7,3166.8 1305.7,3167 1306.7,3167.1 1307.7,3167.3 1308.7,3167.4 1309.7,3167.6 1310.7,3167.8 1311.7,3168 1312.7,3168.2 1313.7,3168.4 1314.7,3168.6 1315.7,3168.8 1316.7,3169 1317.7,3169.2 1318.7,3169.5 1319.7,3169.7 1320.7,3170 1321.7,3170.2 1322.7,3170.5 1323.7,3170.8 1324.7,3171.1 1325.7,3171.4 1326.7,3171.7 1327.7,3172 1328.7,3172.3 1329.7,3172.7 1330.7,3173 1331.7,3173.4 1332.7,3173.8 1333.7,3174.2 1334.7,3174.6 1335.7,3175 1336.2,3175.2 1336.7,3175.4 1337.2,3175.7 1337.7,3175.9 1338.2,3176.1 1338.7,3176.3 1339.2,3176.6 1339.7,3176.8 1340.2,3177.1 1340.7,3177.3 1341.2,3177.6 1341.7,3177.8 1342.2,3178.1 1342.7,3178.3 1343.2,3178.6 1343.7,3178.9 1344.2,3179.1 1344.7,3179.4 1345.2,3179.7 1345.7,3180 1346.2,3180.3 1346.7,3180.6 1347.2,3180.9 1347.7,3181.2 1348.2,3181.5 1348.7,3181.8 1349.2,3182.1 1349.7,3182.4 1350.2,3182.7 1350.7,3183.1 1351.2,3183.4 1351.7,3183.7 1352.2,3184.1 1352.7,3184.4 1353.2,3184.8 1353.7,3185.1 1354.2,3185.5 1354.7,3185.8 1355.2,3186.2 1355.7,3186.6 1356.2,3187 1356.7,3187.4 1357.2,3187.7 1357.7,3188.1 1358.2,3188.5 1358.7,3188.9 1359.2,3189.3 1359.7,3189.8 1360.2,3190.2 1360.7,3190.6 1361.2,3191 1361.7,3191.5 1362.2,3191.9 1362.7,3192.4 1363.2,3192.8 1363.7,3193.3 1364.2,3193.7 1364.7,3194.2 1365.2,3194.7 1365.7,3195.2 1366.2,3195.6 1366.7,3196.1 1367.2,3196.6 1367.7,3197.1 1368.2,3197.6 1368.7,3198.2 1369.2,3198.7 1369.7,3199.2 1370.2,3199.7 1370.7,3200.3 1371.2,3200.8 1371.7,3201.4 1372.2,3201.9 1372.7,3202.5 1373.2,3203.1 1373.7,3203.6 1374.2,3204.2 1374.7,3204.8 1375.2,3205.4 1375.7,3206 1376.2,3206.6 1376.7,3207.2 1377.2,3207.8 1377.7,3208.4 1378.2,3209.1 1378.7,3209.7 1379.2,3210.3 1379.7,3211 1380.2,3211.6 1380.7,3212.3 1381.2,3213 1381.7,3213.6 1382.2,3214.3 1382.7,3215 1383.2,3215.7 1383.7,3216.4 1384.2,3217.1 1384.7,3217.8 1385.2,3218.5 1385.7,3219.3 1386.2,3220 1386.7,3220.7 1387.2,3221.5 1387.7,3222.2 1388.2,3223 1388.7,3223.7 1389.2,3224.5 1389.7,3225.3 1390.2,3226.1 1390.7,3226.9 1391.2,3227.7 1391.7,3228.5 1392.2,3229.3 1392.7,3230.1 1393.2,3230.9 1393.7,3231.7 1394.2,3232.6 1394.7,3233.4 1395.2,3234.2 1395.7,3235.1 1396.2,3236 1396.7,3236.8 1397.2,3237.7 1397.7,3238.6 1398.2,3239.4 1398.7,3240.3 1399.2,3241.2 1399.7,3242.1 1400.2,3243 1400.7,3243.9 1401.2,3244.9 1401.7,3245.8 1402.2,3246.7 1402.7,3247.7 1403.2,3248.6 1403.7,3249.6 1404.2,3250.5 1404.7,3251.5 1405.2,3252.4 1405.7,3253.4 1406.2,3254.4 1406.7,3255.4 1407.2,3256.3 1407.7,3257.3 1408.2,3258.3 1408.7,3259.3 1409.2,3260.3 1409.7,3261.4 1410.2,3262.4 1410.7,3263.4 1411.2,3264.4 1411.7,3265.5 1412.2,3266.5 1412.7,3267.6 1413.2,3268.6 1413.7,3269.7 1414.2,3270.7 1414.7,3271.8 1415.2,3272.8 1415.7,3273.9 1416.2,3275 1416.7,3276.1 1417.2,3277.1 1417.7,3278.2 1418.2,3279.3 1418.7,3280.4 1419.2,3281.5 1419.7,3282.6 1420.2,3283.7 1420.7,3284.8 1421.2,3286 1421.7,3287.1 1422.2,3288.2 1422.7,3289.3 1423.2,3290.4 1423.7,3291.6 1424.2,3292.7 1424.7,3293.8 1425.2,3295 1425.7,3296.1 1426.2,3297.3 1426.7,3298.4 1427.2,3299.6 1427.7,3300.7 1428.2,3301.9 1428.7,3303 1429.2,3304.2 1429.7,3305.3 1430.2,3306.5 1430.7,3307.6 1431.2,3308.8 1431.7,3310 1432.2,3311.1 1432.7,3312.3 1433.2,3313.5 1433.7,3314.6 1434.2,3315.8 1434.7,3317 1435.2,3318.1 1435.7,3319.3 1436.2,3320.5 1436.7,3321.6 1437.2,3322.8 1437.7,3324 1438.2,3325.1 1438.7,3326.3 1439.2,3327.5 1439.7,3328.6 1440.2,3329.8 1440.7,3331 1441.2,3332.1 1441.7,3333.3 1442.2,3334.4 1442.7,3335.6 1443.2,3336.7 1443.7,3337.9 1444.2,3339 1444.7,3340.2 1445.2,3341.3 1445.7,3342.5 1446.2,3343.6 1446.7,3344.8 1447.2,3345.9 1447.7,3347 1448.2,3348.2 1448.7,3349.3 1449.2,3350.4 1449.7,3351.5 1450.2,3352.6 1450.7,3353.8 1451.2,3354.9 1451.7,3356 1452.2,3357.1 1452.7,3358.2 1453.2,3359.2 1453.7,3360.3 1454.2,3361.4 1454.7,3362.5 1455.2,3363.5 1455.7,3364.6 1456.2,3365.7 1456.7,3366.7 1457.2,3367.8 1457.7,3368.8 1458.2,3369.8 1458.7,3370.9 1459.2,3371.9 1459.7,3372.9 1460.2,3373.9 1460.7,3374.9 1461.2,3375.9 1461.7,3376.9 1462.2,3377.9 1462.7,3378.8 1463.2,3379.8 1463.7,3380.7 1464.2,3381.7 1464.7,3382.6 1465.2,3383.6 1465.7,3384.5 1466.2,3385.4 1466.7,3386.3 1467.2,3387.2 1467.7,3388.1 1468.2,3389 1468.7,3389.8 1469.2,3390.7 1469.7,3391.6 1470.2,3392.4 1470.7,3393.2 1471.2,3394.1 1471.7,3394.9 1472.2,3395.7 1472.7,3396.5 1473.2,3397.2 1473.7,3398 1474.2,3398.8 1474.7,3399.5 1475.2,3400.3 1475.7,3401 1476.2,3401.7 1476.7,3402.4 1477.2,3403.1 1477.7,3403.8 1478.2,3404.5 1478.7,3405.1 1479.2,3405.8 1479.7,3406.4 1480.2,3407 1480.7,3407.6 1481.2,3408.3 1481.7,3408.8 1482.2,3409.4 1482.7,3410 1483.2,3410.5 1483.7,3411.1 1484.2,3411.6 1484.7,3412.1 1485.2,3412.6 1485.7,3413.1 1486.2,3413.6 1486.7,3414 1487.2,3414.5 1487.7,3414.9 1488.2,3415.3 1488.7,3415.8 1489.2,3416.2 1489.7,3416.5 1490.2,3416.9 1490.7,3417.3 1491.2,3417.6 1491.7,3417.9 1492.2,3418.2 1492.7,3418.5 1493.2,3418.8 1493.7,3419.1 1494.2,3419.4 1494.7,3419.6 1495.2,3419.8 1495.7,3420.1 1496.2,3420.3 1496.7,3420.4 1497.2,3420.6 1497.7,3420.8 1498.2,3420.9 1498.7,3421.1 1499.2,3421.2 1499.7,3421.3 1500.2,3421.4 1500.7,3421.4 1501.2,3421.5 1501.7,3421.5 1502.2,3421.6 1502.7,3421.6 1503.2,3421.6 1503.7,3421.6 1504.2,3421.6 1504.7,3421.5 1505.2,3421.5 1505.7,3421.4 1506.2,3421.3 1506.7,3421.2 1507.2,3421.1 1507.7,3421 1508.2,3420.8 1508.7,3420.7 1509.2,3420.5 1509.7,3420.3 1510.2,3420.1 1510.7,3419.9 1511.2,3419.7 1511.7,3419.5 1512.2,3419.2 1512.7,3418.9 1513.2,3418.7 1513.7,3418.4 1514.2,3418 1514.7,3417.7 1515.2,3417.4 1515.7,3417 1516.2,3416.7 1516.7,3416.3 1517.2,3415.9 1517.7,3415.5 1518.2,3415.1 1518.7,3414.6 1519.2,3414.2 1519.7,3413.7 1520.2,3413.3 1520.7,3412.8 1521.2,3412.3 1521.7,3411.8 1522.2,3411.3 1522.7,3410.7 1523.2,3410.2 1523.7,3409.6 1524.2,3409 1524.7,3408.5 1525.2,3407.9 1525.7,3407.3 1526.2,3406.6 1526.7,3406 1527.2,3405.4 1527.7,3404.7 1528.2,3404 1528.7,3403.4 1529.2,3402.7 1529.7,3402 1530.2,3401.2 1530.7,3400.5 1531.2,3399.8 1531.7,3399 1532.2,3398.3 1532.7,3397.5 1533.2,3396.7 1533.7,3396 1534.2,3395.2 1534.7,3394.3 1535.2,3393.5 1535.7,3392.7 1536.2,3391.9 1536.7,3391 1537.2,3390.2 1537.7,3389.3 1538.2,3388.4 1538.7,3387.5 1539.2,3386.6 1539.7,3385.7 1540.2,3384.8 1540.7,3383.9 1541.2,3383 1541.7,3382 1542.2,3381.1 1542.7,3380.1 1543.2,3379.2 1543.7,3378.2 1544.2,3377.2 1544.7,3376.3 1545.2,3375.3 1545.7,3374.3 1546.2,3373.3 1546.7,3372.2 1547.2,3371.2 1547.7,3370.2 1548.2,3369.2 1548.7,3368.1 1549.2,3367.1 1549.7,3366 1550.2,3365 1550.7,3363.9 1551.2,3362.9 1551.7,3361.8 1552.2,3360.7 1552.7,3359.6 1553.2,3358.5 1553.7,3357.5 1554.2,3356.4 1554.7,3355.3 1555.2,3354.2 1555.7,3353 1556.2,3351.9 1556.7,3350.8 1557.2,3349.7 1557.7,3348.6 1558.2,3347.4 1558.7,3346.3 1559.2,3345.2 1559.7,3344 1560.2,3342.9 1560.7,3341.8 1561.2,3340.6 1561.7,3339.5 1562.2,3338.3 1562.7,3337.2 1563.2,3336 1563.7,3334.8 1564.2,3333.7 1564.7,3332.5 1565.2,3331.4 1565.7,3330.2 1566.2,3329 1566.7,3327.9 1567.2,3326.7 1567.7,3325.5 1568.2,3324.4 1568.7,3323.2 1569.2,3322 1569.7,3320.9 1570.2,3319.7 1570.7,3318.5 1571.2,3317.4 1571.7,3316.2 1572.2,3315 1572.7,3313.9 1573.2,3312.7 1573.7,3311.5 1574.2,3310.4 1574.7,3309.2 1575.2,3308.1 1575.7,3306.9 1576.2,3305.7 1576.7,3304.6 1577.2,3303.4 1577.7,3302.3 1578.2,3301.1 1578.7,3300 1579.2,3298.8 1579.7,3297.7 1580.2,3296.5 1580.7,3295.4 1581.2,3294.3 1581.7,3293.1 1582.2,3292 1582.7,3290.9 1583.2,3289.7 1583.7,3288.6 1584.2,3287.5 1584.7,3286.4 1585.2,3285.2 1585.7,3284.1 1586.2,3283 1586.7,3281.9 1587.2,3280.8 1587.7,3279.7 1588.2,3278.6 1588.7,3277.5 1589.2,3276.5 1589.7,3275.4 1590.2,3274.3 1590.7,3273.2 1591.2,3272.2 1591.7,3271.1 1592.2,3270 1592.7,3269 1593.2,3267.9 1593.7,3266.9 1594.2,3265.8 1594.7,3264.8 1595.2,3263.8 1595.7,3262.8 1596.2,3261.7 1596.7,3260.7 1597.2,3259.7 1597.7,3258.7 1598.2,3257.7 1598.7,3256.7 1599.2,3255.7 1599.7,3254.7 1600.2,3253.8 1600.7,3252.8 1601.2,3251.8 1601.7,3250.9 1602.2,3249.9 1602.7,3248.9 1603.2,3248 1603.7,3247.1 1604.2,3246.1 1604.7,3245.2 1605.2,3244.3 1605.7,3243.4 1606.2,3242.5 1606.7,3241.6 1607.2,3240.7 1607.7,3239.8 1608.2,3238.9 1608.7,3238 1609.2,3237.1 1609.7,3236.3 1610.2,3235.4 1610.7,3234.5 1611.2,3233.7 1611.7,3232.9 1612.2,3232 1612.7,3231.2 1613.2,3230.4 1613.7,3229.6 1614.2,3228.7 1614.7,3227.9 1615.2,3227.1 1615.7,3226.4 1616.2,3225.6 1616.7,3224.8 1617.2,3224 1617.7,3223.3 1618.2,3222.5 1618.7,3221.7 1619.2,3221 1619.7,3220.3 1620.2,3219.5 1620.7,3218.8 1621.2,3218.1 1621.7,3217.4 1622.2,3216.7 1622.7,3216 1623.2,3215.3 1623.7,3214.6 1624.2,3213.9 1624.7,3213.2 1625.2,3212.5 1625.7,3211.9 1626.2,3211.2 1626.7,3210.6 1627.2,3209.9 1627.7,3209.3 1628.2,3208.7 1628.7,3208 1629.2,3207.4 1629.7,3206.8 1630.2,3206.2 1630.7,3205.6 1631.2,3205 1631.7,3204.4 1632.2,3203.8 1632.7,3203.3 1633.2,3202.7 1633.7,3202.1 1634.2,3201.6 1634.7,3201 1635.2,3200.5 1635.7,3199.9 1636.2,3199.4 1636.7,3198.9 1637.2,3198.4 1637.7,3197.8 1638.2,3197.3 1638.7,3196.8 1639.2,3196.3 1639.7,3195.8 1640.2,3195.3 1640.7,3194.9 1641.2,3194.4 1641.7,3193.9 1642.2,3193.4 1642.7,3193 1643.2,3192.5 1643.7,3192.1 1644.2,3191.6 1644.7,3191.2 1645.2,3190.8 1645.7,3190.3 1646.2,3189.9 1646.7,3189.5 1647.2,3189.1 1647.7,3188.7 1648.2,3188.3 1648.7,3187.9 1649.2,3187.5 1649.7,3187.1 1650.2,3186.7 1650.7,3186.3 1651.2,3186 1651.7,3185.6 1652.2,3185.2 1652.7,3184.9 1653.2,3184.5 1653.7,3184.2 1654.2,3183.8 1654.7,3183.5 1655.2,3183.2 1655.7,3182.8 1656.2,3182.5 1656.7,3182.2 1657.2,3181.9 1657.7,3181.6 1658.2,3181.3 1658.7,3181 1659.2,3180.7 1659.7,3180.4 1660.2,3180.1 1660.7,3179.8 1661.2,3179.5 1661.7,3179.2 1662.2,3179 1662.7,3178.7 1663.2,3178.4 1663.7,3178.2 1664.2,3177.9 1664.7,3177.6 1665.2,3177.4 1665.7,3177.1 1666.2,3176.9 1666.7,3176.7 1667.2,3176.4 1667.7,3176.2 1668.2,3176 1668.7,3175.7 1669.2,3175.5 1669.7,3175.3 1670.2,3175.1 1670.7,3174.9 1671.7,3174.5 1672.7,3174.1 1673.7,3173.7 1674.7,3173.3 1675.7,3172.9 1676.7,3172.6 1677.7,3172.2 1678.7,3171.9 1679.7,3171.6 1680.7,3171.3 1681.7,3171 1682.7,3170.7 1683.7,3170.4 1684.7,3170.1 1685.7,3169.9 1686.7,3169.6 1687.7,3169.4 1688.7,3169.1 1689.7,3168.9 1690.7,3168.7 1691.7,3168.5 1692.7,3168.3 1693.7,3168.1 1694.7,3167.9 1695.7,3167.7 1696.7,3167.6 1697.7,3167.4 1698.7,3167.2 1699.7,3167.1 1700.7,3166.9 1701.7,3166.8 1702.7,3166.6 1703.7,3166.5 1704.7,3166.4 1705.7,3166.3 1706.7,3166.1 1707.7,3166 1708.7,3165.9 1709.7,3165.8 1710.7,3165.7 1711.7,3165.6 1712.7,3165.5 1713.7,3165.4 1714.7,3165.4 1715.7,3165.3 1716.7,3165.2 1717.7,3165.1 1718.7,3165.1 1719.7,3165 1720.7,3164.9 1721.7,3164.9 1722.7,3164.8 1723.7,3164.7 1724.7,3164.7 1725.7,3164.6 1726.7,3164.6 1727.7,3164.5 1728.7,3164.5 1729.7,3164.4 1730.7,3164.4 1731.7,3164.4 1732.7,3164.3" stroke="#4d4d00" stroke-width="4.0"/>
<polyline points="1596,3164.3 1597,3164.3 1598,3164.4 1599,3164.4 1600,3164.5 1601,3164.6 1602,3164.6 1603,3164.7 1604,3164.8 1605,3164.8 1606,3164.9 1607,3165 1608,3165.1 1609,3165.2 1610,3165.2 1611,3165.3 1612,3165.5 1613,3165.6 1614,3165.7 1615,3165.8 1616,3165.9 1617,3166.1 1618,3166.2 1619,3166.4 1620,3166.5 1621,3166.7 1622,3166.9 1623,3167.1 1624,3167.3 1625,3167.5 1626,3167.7 1627,3167.9 1628,3168.1 1629,3168.4 1630,3168.6 1631,3168.9 1632,3169.2 1633,3169.5 1634,3169.8 1635,3170.1 1636,3170.5 1637,3170.8 1638,3171.2 1639,3171.6 1640,3172 1641,3172.4 1642,3172.9 1643,3173.3 1644,3173.8 1645,3174.3 1646,3174.8 1647,3175.4 1648,3175.9 1649,3176.5 1650,3177.1 1651,3177.8 1652,3178.4 1653,3179.1 1654,3179.8 1655,3180.6 1655.5,3181 1656,3181.3 1656.5,3181.7 1657,3182.2 1657.5,3182.6 1658,3183 1658.5,3183.4 1659,3183.8 1659.5,3184.3 1660,3184.7 1660.5,3185.2 1661,3185.7 1661.5,3186.1 1662,3186.6 1662.5,3187.1 1663,3187.6 1663.5,3188.1 1664,3188.6 1664.5,3189.2 1665,3189.7 1665.5,3190.3 1666,3190.8 1666.5,3191.4 1667,3191.9 1667.5,3192.5 1668,3193.1 1668.5,3193.7 1669,3194.3 1669.5,3195 1670,3195.6 1670.5,3196.2 1671,3196.9 1671.5,3197.6 1672,3198.2 1672.5,3198.9 1673,3199.6 1673.5,3200.3 1674,3201 1674.5,3201.8 1675,3202.5 1675.5,3203.2 1676,3204 1676.5,3204.8 1677,3205.6 1677.5,3206.4 1678,3207.2 1678.5,3208 1679,3208.8 1679.5,3209.6 1680,3210.5 1680.5,3211.4 1681,3212.2 1681.5,3213.1 1682,3214 1682.5,3215 1683,3215.9 1683.5,3216.8 1684,3217.8 1684.5,3218.7 1685,3219.7 1685.5,3220.7 1686,3221.7 1686.5,3222.7 1687,3223.8 1687.5,3224.8 1688,3225.9 1688.5,3226.9 1689,3228 1689.5,3229.1 1690,3230.2 1690.5,3231.3 1691,3232.5 1691.5,3233.6 1692,3234.8 1692.5,3235.9 1693,3237.1 1693.5,3238.3 1694,3239.6 1694.5,3240.8 1695,3242 1695.5,3243.3 1696,3244.6 1696.5,3245.8 1697,3247.1 1697.5,3248.4 1698,3249.8 1698.5,3251.1 1699,3252.5 1699.5,3253.8 1700,3255.2 1700.5,3256.6 1701,3258 1701.5,3259.4 1702,3260.9 1702.5,3262.3 1703,3263.8 1703.5,3265.3 1704,3266.7 1704.5,3268.3 1705,3269.8 1705.5,3271.3 1706,3272.8 1706.5,3274.4 1707,3276 1707.5,3277.5 1708,3279.1 1708.5,3280.8 1709,3282.4 1709.5,3284 1710,3285.7 1710.5,3287.3 1711,3289 1711.5,3290.7 1712,3292.4 1712.5,3294.1 1713,3295.8 1713.5,3297.5 1714,3299.3 1714.5,3301 1715,3302.8 1715.5,3304.6 1716,3306.4 1716.5,3308.2 1717,3310 1717.5,3311.8 1718,3313.7 1718.5,3315.5 1719,3317.4 1719.5,3319.2 1720,3321.1 1720.5,3323 1721,3324.9 1721.5,3326.8 1722,3328.7 1722.5,3330.7 1723,3332.6 1723.5,3334.5 1724,3336.5 1724.5,3338.4 1725,3340.4 1725.5,3342.4 1726,3344.4 1726.5,3346.4 1727,3348.4 1727.5,3350.4 1728,3352.4 1728.5,3354.4 1729,3356.4 1729.5,3358.5 1730,3360.5 1730.5,3362.5 1731,3364.6 1731.5,3366.6 1732,3368.7 1732.5,3370.8 1733,3372.8 1733.5,3374.9 1734,3377 1734.5,3379 1735,3381.1 1735.5,3383.2 1736,3385.3 1736.5,3387.4 1737,3389.5 1737.5,3391.5 1738,3393.6 1738.5,3395.7 1739,3397.8 1739.5,3399.9 1740,3402 1740.5,3404.1 1741,3406.2 1741.5,3408.3 1742,3410.3 1742.5,3412.4 1743,3414.5 1743.5,3416.6 1744,3418.7 1744.5,3420.7 1745,3422.8 1745.5,3424.9 1746,3426.9 1746.5,3429 1747,3431 1747.5,3433.1 1748,3435.1 1748.5,3437.1 1749,3439.2 1749.5,3441.2 1750,3443.2 1750.5,3445.2 1751,3447.2 1751.5,3449.2 1752,3451.1 1752.5,3453.1 1753,3455.1 1753.5,3457 1754,3458.9 1754.5,3460.9 1755,3462.8 1755.5,3464.7 1756,3466.6 1756.5,3468.4 1757,3470.3 1757.5,3472.2 1758,3474 1758.5,3475.8 1759,3477.6 1759.5,3479.4 1760,3481.2 1760.5,3483 1761,3484.7 1761.5,3486.4 1762,3488.2 1762.5,3489.8 1763,3491.5 1763.5,3493.2 1764,3494.8 1764.5,3496.5 1765,3498.1 1765.5,3499.7 1766,3501.2 1766.5,3502.8 1767,3504.3 1767.5,3505.8 1768,3507.3 1768.5,3508.8 1769,3510.2 1769.5,3511.6 1770,3513.1 1770.5,3514.4 1771,3515.8 1771.5,3517.1 1772,3518.4 1772.5,3519.7 1773,3521 1773.5,3522.2 1774,3523.4 1774.5,3524.6 1775,3525.8 1775.5,3526.9 1776,3528.1 1776.5,3529.1 1777,3530.2 1777.5,3531.3 1778,3532.3 1778.5,3533.2 1779,3534.2 1779.5,3535.1 1780,3536 1780.5,3536.9 1781,3537.8 1781.5,3538.6 1782,3539.4 1782.5,3540.1 1783,3540.9 1783.5,3541.6 1784,3542.3 1784.5,3542.9 1785,3543.5 1785.5,3544.1 1786,3544.7 1786.5,3545.2 1787,3545.7 1787.5,3546.2 1788,3546.6 1788.5,3547 1789,3547.4 1789.5,3547.8 1790,3548.1 1790.5,3548.4 1791,3548.6 1791.5,3548.9 1792,3549.1 1792.5,3549.2 1793,3549.4 1793.5,3549.5 1794,3549.5 1794.5,3549.6 1795,3549.6 1795.5,3549.6 1796,3549.5 1796.5,3549.5 1797,3549.3 1797.5,3549.2 1798,3549 1798.5,3548.8 1799,3548.6 1799.5,3548.3 1800,3548.1 1800.5,3547.7 1801,3547.4 1801.5,3547 1802,3546.6 1802.5,3546.1 1803,3545.7 1803.5,3545.2 1804,3544.6 1804.5,3544.1 1805,3543.5 1805.5,3542.8 1806,3542.2 1806.5,3541.5 1807,3540.8 1807.5,3540.1 1808,3539.3 1808.5,3538.5 1809,3537.7 1809.5,3536.8 1810,3536 1810.5,3535.1 1811,3534.1 1811.5,3533.2 1812,3532.2 1812.5,3531.2 1813,3530.1 1813.5,3529.1 1814,3528 1814.5,3526.8 1815,3525.7 1815.5,3524.5 1816,3523.3 1816.5,3522.1 1817,3520.9 1817.5,3519.6 1818,3518.3 1818.5,3517 1819,3515.7 1819.5,3514.3 1820,3512.9 1820.5,3511.5 1821,3510.1 1821.5,3508.6 1822,3507.2 1822.5,3505.7 1823,3504.2 1823.5,3502.6 1824,3501.1 1824.5,3499.5 1825,3497.9 1825.5,3496.3 1826,3494.7 1826.5,3493 1827,3491.4 1827.5,3489.7 1828,3488 1828.5,3486.3 1829,3484.5 1829.5,3482.8 1830,3481 1830.5,3479.3 1831,3477.5 1831.5,3475.7 1832,3473.8 1832.5,3472 1833,3470.1 1833.5,3468.3 1834,3466.4 1834.5,3464.5 1835,3462.6 1835.5,3460.7 1836,3458.8 1836.5,3456.8 1837,3454.9 1837.5,3452.9 1838,3451 1838.5,3449 1839,3447 1839.5,3445 1840,3443 1840.5,3441 1841,3439 1841.5,3437 1842,3434.9 1842.5,3432.9 1843,3430.8 1843.5,3428.8 1844,3426.7 1844.5,3424.7 1845,3422.6 1845.5,3420.5 1846,3418.5 1846.5,3416.4 1847,3414.3 1847.5,3412.2 1848,3410.2 1848.5,3408.1 1849,3406 1849.5,3403.9 1850,3401.8 1850.5,3399.7 1851,3397.6 1851.5,3395.5 1852,3393.4 1852.5,3391.4 1853,3389.3 1853.5,3387.2 1854,3385.1 1854.5,3383 1855,3380.9 1855.5,3378.9 1856,3376.8 1856.5,3374.7 1857,3372.6 1857.5,3370.6 1858,3368.5 1858.5,3366.5 1859,3364.4 1859.5,3362.4 1860,3360.3 1860.5,3358.3 1861,3356.2 1861.5,3354.2 1862,3352.2 1862.5,3350.2 1863,3348.2 1863.5,3346.2 1864,3344.2 1864.5,3342.2 1865,3340.2 1865.5,3338.3 1866,3336.3 1866.5,3334.4 1867,3332.4 1867.5,3330.5 1868,3328.6 1868.5,3326.6 1869,3324.7 1869.5,3322.8 1870,3320.9 1870.5,3319.1 1871,3317.2 1871.5,3315.3 1872,3313.5 1872.5,3311.7 1873,3309.8 1873.5,3308 1874,3306.2 1874.5,3304.4 1875,3302.7 1875.5,3300.9 1876,3299.1 1876.5,3297.4 1877,3295.7 1877.5,3293.9 1878,3292.2 1878.5,3290.5 1879,3288.8 1879.5,3287.2 1880,3285.5 1880.5,3283.9 1881,3282.2 1881.5,3280.6 1882,3279 1882.5,3277.4 1883,3275.8 1883.5,3274.3 1884,3272.7 1884.5,3271.2 1885,3269.6 1885.5,3268.1 1886,3266.6 1886.5,3265.1 1887,3263.7 1887.5,3262.2 1888,3260.7 1888.5,3259.3 1889,3257.9 1889.5,3256.5 1890,3255.1 1890.5,3253.7 1891,3252.3 1891.5,3251 1892,3249.7 1892.5,3248.3 1893,3247 1893.5,3245.7 1894,3244.4 1894.5,3243.2 1895,3241.9 1895.5,3240.7 1896,3239.4 1896.5,3238.2 1897,3237 1897.5,3235.8 1898,3234.7 1898.5,3233.5 1899,3232.4 1899.5,3231.2 1900,3230.1 1900.5,3229 1901,3227.9 1901.5,3226.8 1902,3225.8 1902.5,3224.7 1903,3223.7 1903.5,3222.6 1904,3221.6 1904.5,3220.6 1905,3219.6 1905.5,3218.7 1906,3217.7 1906.5,3216.7 1907,3215.8 1907.5,3214.9 1908,3214 1908.5,3213.1 1909,3212.2 1909.5,3211.3 1910,3210.4 1910.5,3209.6 1911,3208.7 1911.5,3207.9 1912,3207.1 1912.5,3206.3 1913,3205.5 1913.5,3204.7 1914,3203.9 1914.5,3203.2 1915,3202.4 1915.5,3201.7 1916,3201 1916.5,3200.2 1917,3199.5 1917.5,3198.8 1918,3198.2 1918.5,3197.5 1919,3196.8 1919.5,3196.2 1920,3195.5 1920.5,3194.9 1921,3194.3 1921.5,3193.7 1922,3193.1 1922.5,3192.5 1923,3191.9 1923.5,3191.3 1924,3190.8 1924.5,3190.2 1925,3189.7 1925.5,3189.1 1926,3188.6 1926.5,3188.1 1927,3187.6 1927.5,3187.1" stroke="#000080" stroke-width="4.0"/>
<path d="M144.4,3180.2C146.6,3179.8 153.9,3180.6 157.5,3178C161.1,3175.4 163.3,3166.3 166.2,3164.9C169.1,3163.5 169.2,3167.3 175,3169.3C180.8,3171.3 192.5,3176.5 201.2,3177.1C209.9,3177.7 218.7,3174.5 227.4,3172.8C236.1,3171.1 244.1,3169 253.6,3167.1C263.1,3165.2 271.8,3164.1 284.2,3161.4C296.6,3158.7 313.4,3153.8 328,3150.9C342.6,3148 357.1,3145.9 371.6,3143.9C386.2,3141.9 400,3139.7 415.3,3138.7C430.6,3137.7 451,3136.4 463.4,3137.8C475.8,3139.2 482.4,3144.7 489.7,3147.4C497,3150.1 500.6,3152.9 507.1,3154C513.6,3155.1 523.5,3153.8 529,3154C534.5,3154.2 537.3,3154.2 540,3155.5C542.7,3156.8 543.7,3158.1 545.2,3162C546.7,3165.9 546.8,3171.4 549.1,3179.1C551.4,3186.8 555.6,3197 558.8,3208.3C562,3219.6 565.2,3232.6 568.5,3247.1C571.8,3261.6 575,3281 578.3,3295.6C581.5,3310.2 584.8,3319.9 588,3334.5C591.2,3349.1 594.5,3368.4 597.7,3383C600.9,3397.6 604.2,3408.9 607.4,3421.8C610.6,3434.8 613.5,3447.8 617.1,3460.7C620.7,3473.6 624.8,3486.6 628.7,3499.5C632.6,3512.4 635.9,3525.4 640.4,3538.3C644.9,3551.2 650.7,3564.2 655.9,3577.2C661.1,3590.1 667.3,3604.7 671.5,3616C675.7,3627.3 676.6,3631.4 681.2,3645C685.8,3658.6 693,3677.7 699.2,3697.7C705.4,3717.7 712.1,3742.6 718.5,3765C724.9,3787.4 731.3,3809.9 737.7,3832.3C744.1,3854.7 751.1,3878.8 756.9,3899.6C762.7,3920.4 767.8,3939.7 772.3,3957.3C776.8,3974.9 780.3,3991 783.8,4005.4C787.3,4019.8 791,4035 793.5,4043.8C796,4052.6 797.1,4054.6 799,4058C800.9,4061.4 803,4064 805,4064C807,4064 809.1,4061.4 811,4058C812.9,4054.6 814,4054.2 816.5,4043.8C819,4033.4 822.7,4015 826.2,3995.8C829.7,3976.6 833.9,3952.6 837.7,3928.5C841.5,3904.4 845.4,3875.5 849.2,3851.5C853.1,3827.5 856.9,3807 860.8,3784.6C864.6,3762.2 869.1,3735.2 872.3,3716.9C875.5,3698.6 877.5,3687 880,3675C882.5,3663 883.7,3659.5 887.1,3645C890.5,3630.5 895.3,3605.7 900.6,3588C905.9,3570.3 913.5,3554.4 919,3539.1C924.5,3523.8 929.1,3510.6 933.6,3496.3C938.1,3482 942.4,3466.7 945.9,3453.4C949.4,3440.1 951.9,3428.1 954.4,3416.7C956.9,3405.3 958.5,3396.8 960.6,3385C962.7,3373.2 963.6,3360.5 966.7,3345.8C969.8,3331.1 974.9,3312.2 979,3296.9C983.1,3281.6 987.1,3267.3 991.2,3254C995.3,3240.7 999.3,3226.9 1003.4,3217.3C1007.5,3207.7 1012,3203 1015.7,3196.5C1019.4,3190 1022.5,3180.5 1025.5,3178.1C1028.5,3175.7 1030.5,3179.4 1034,3181.8C1037.5,3184.2 1042.2,3186.9 1046.3,3192.8C1050.4,3198.7 1054.5,3210.2 1058.5,3217.3C1062.5,3224.5 1065.8,3230.9 1070,3235.7C1074.2,3240.5 1079.4,3242.4 1083.6,3246C1087.8,3249.6 1091.4,3254 1095,3257C1098.6,3260 1101.9,3263.6 1105.4,3263.9C1108.9,3264.2 1112.3,3261.6 1116,3259C1119.7,3256.4 1121,3256.1 1127.3,3248.6C1133.5,3241.1 1144.8,3227.1 1153.5,3214C1162.2,3200.9 1173.9,3176.5 1179.7,3169.9C1185.5,3163.3 1184.8,3167 1188.5,3174.3C1192.2,3181.7 1198,3205.3 1201.6,3214C1205.2,3222.7 1205.9,3228.9 1210.3,3226.7C1214.7,3224.4 1222,3197.5 1227.8,3200.5C1233.6,3203.5 1239.5,3236.6 1245.3,3244.6C1251.1,3252.6 1257,3241.4 1262.8,3248.6C1268.6,3255.8 1273.7,3281.3 1280.2,3287.9C1286.8,3294.5 1295.5,3293.7 1302.1,3287.9C1308.7,3282.1 1313.8,3263.2 1319.6,3253C1325.4,3242.8 1332,3225 1337.1,3226.7C1342.2,3228.4 1346.6,3256.6 1350.2,3263C1353.8,3269.4 1356.2,3272.4 1358.9,3265C1361.6,3257.6 1364,3233.8 1366.2,3218.7C1368.4,3203.6 1370.5,3182.4 1372,3174.3C1373.5,3166.2 1374.5,3158.1 1375.5,3169.9C1376.5,3181.7 1376.9,3206.2 1378,3244.9C1379.1,3283.6 1380.8,3343.1 1382,3402.3C1383.2,3461.5 1383.8,3551.4 1385.1,3600C1386.3,3648.6 1387.5,3663.3 1389.5,3693.7C1391.5,3724.1 1394.5,3757.6 1396.9,3782.2C1399.4,3806.8 1401.2,3824 1404.2,3841.2C1407.2,3858.4 1411.6,3875.4 1414.6,3885.5C1417.5,3895.6 1418.2,3899 1421.9,3901.7C1425.6,3904.4 1433.5,3905.6 1436.7,3901.7C1439.9,3897.8 1439.1,3890.6 1441.1,3878.1C1443.1,3865.6 1446,3847.4 1448.5,3826.5C1451,3805.6 1453.2,3777.3 1455.9,3752.7C1458.6,3728.1 1462.2,3697.8 1464.7,3679C1467.2,3660.2 1467.4,3664.3 1471.1,3640C1474.8,3615.7 1482.5,3562.1 1486.9,3533.4C1491.3,3504.7 1493.5,3486.2 1497.4,3467.8C1501.3,3449.4 1505.3,3435.4 1510.5,3423.2C1515.7,3411 1523.6,3406.6 1528.8,3394.4C1534,3382.2 1537.5,3362.5 1541.9,3349.8C1546.3,3337.1 1550.2,3327 1555,3318.3C1559.8,3309.6 1565.1,3304.8 1570.8,3297.4C1576.5,3290 1583.8,3277 1589.1,3273.8C1594.3,3270.6 1598.3,3278.3 1602.3,3278C1606.2,3277.7 1609.3,3276.2 1612.8,3272C1616.3,3267.8 1619.7,3260.4 1623.2,3252.8C1626.7,3245.2 1629.7,3236.4 1633.7,3226.5C1637.8,3216.6 1643.2,3201.5 1647.5,3193.5C1651.8,3185.5 1655.7,3180.6 1659.4,3178.6C1663.1,3176.6 1666.3,3172.2 1669.8,3181.6C1673.3,3191 1676.5,3214.3 1680.2,3235.1C1683.9,3255.9 1688.1,3287.6 1692.1,3306.4C1696.1,3325.2 1700,3336.1 1704,3348C1708,3359.9 1711.9,3371.8 1715.9,3377.7C1719.9,3383.6 1724.3,3373.8 1727.8,3383.7C1731.3,3393.6 1734.2,3423.3 1736.7,3437.2C1739.2,3451.1 1739.6,3460.5 1742.6,3466.9C1745.6,3473.3 1750.5,3469.9 1754.5,3475.8C1758.5,3481.8 1762.4,3495.2 1766.4,3502.6C1770.4,3510 1774.3,3518.4 1778.3,3520.4C1782.3,3522.4 1786.7,3513.4 1790.2,3514.4C1793.7,3515.4 1796.6,3522.3 1799.1,3526.3C1801.6,3530.3 1801.5,3536.7 1805,3538.2C1808.5,3539.7 1815.9,3536.7 1819.9,3535.2C1823.9,3533.7 1825.8,3538.2 1828.8,3529.3C1831.8,3520.4 1834.7,3502 1837.7,3481.7C1840.7,3461.4 1843.2,3434.7 1846.7,3407.5C1850.2,3380.3 1854,3344.1 1858.5,3318.3C1863,3292.5 1868.9,3268.2 1873.4,3252.9C1877.9,3237.6 1881.3,3233.1 1885.3,3226.2C1889.3,3219.3 1894,3213.3 1897.2,3211.3C1900.4,3209.3 1902.1,3204.9 1904.6,3214.3C1907.1,3223.7 1910.3,3258.9 1912,3267.8C1913.7,3276.7 1913.5,3273.2 1915,3267.8C1916.5,3262.4 1919,3244 1921,3235.1C1923,3226.2 1925.4,3220.2 1926.9,3214.3C1928.4,3208.5 1929.5,3202.4 1930,3200" stroke="#000" stroke-width="5.0"/>
<path d="M142,3164C201.3,3164 435,3163.1 498,3164C561,3164.9 513.1,3165.3 520,3169.4C526.9,3173.5 533.6,3180.7 539.4,3188.8C545.2,3196.9 551.1,3208.3 555,3218C558.9,3227.7 560.2,3235 563,3247C565.8,3259 569,3277 572,3290C575,3303 577.8,3313 581,3325C584.2,3337 587.8,3349.5 591,3362C594.2,3374.5 597.3,3387.7 600.5,3400C603.7,3412.3 606.8,3424 610,3436C613.2,3448 616.4,3459.3 620,3472C623.6,3484.7 627.7,3499.3 631.5,3512C635.3,3524.7 638.5,3535.8 643,3548C647.5,3560.2 653.3,3572.7 658.5,3585C663.7,3597.3 669.8,3611.2 674,3622C678.2,3632.8 679.8,3636.4 684,3650C688.2,3663.6 693.5,3682.1 699.2,3703.5C705,3724.9 712.1,3753.8 718.5,3778.5C724.9,3803.2 731.3,3827.2 737.7,3851.5C744.1,3875.8 750.5,3902.8 756.9,3924.6C763.3,3946.4 770.8,3968.8 776.2,3982.3C781.7,3995.8 785.4,4000.3 789.6,4005.4C793.8,4010.5 797,4013.7 801.2,4013C805.4,4012.3 810.4,4009.2 814.6,4001.5C818.8,3993.8 822,3982.3 826.2,3966.9C830.4,3951.5 835.1,3931.6 839.6,3909.2C844.1,3886.8 848.9,3856.3 853.1,3832.3C857.3,3808.3 860.4,3787.4 864.6,3765C868.8,3742.6 873.4,3716.5 878.1,3697.7C882.8,3678.9 888.4,3670.3 893,3652C897.6,3633.7 901.8,3606.8 905.5,3588C909.2,3569.2 912.4,3553.4 915.3,3539.1C918.1,3524.8 920.1,3514.6 922.6,3502.4C925.1,3490.2 927.4,3479 930,3465.7C932.6,3452.4 935.9,3434.4 938.5,3422.8C941.1,3411.2 942.2,3410.8 945.9,3396C949.6,3381.2 956.1,3352.6 960.6,3334C965.1,3315.4 968.7,3298.9 972.8,3284.6C976.9,3270.2 980.8,3257.7 985.1,3247.9C989.4,3238.1 994.4,3231.6 998.5,3225.9C1002.6,3220.2 1005.6,3217.5 1009.5,3214C1013.4,3210.5 1017.7,3207.4 1021.8,3205.1C1025.9,3202.8 1030.3,3201.1 1034,3200.2C1037.7,3199.3 1040.7,3198.8 1043.8,3199.6C1046.9,3200.4 1048,3199.5 1052.4,3205.1C1056.8,3210.7 1063.3,3224.5 1070,3233.2C1076.7,3241.9 1086.4,3251.8 1092.3,3257.3C1098.2,3262.8 1098.9,3268.2 1105.4,3266.1C1112,3264 1122.8,3254.8 1131.6,3244.6C1140.3,3234.4 1149.2,3217.7 1157.9,3204.9C1166.7,3192.1 1177.5,3169.1 1184.1,3167.7C1190.6,3166.2 1192.8,3186 1197.2,3196.2C1201.6,3206.4 1205.2,3228.2 1210.3,3228.9C1215.4,3229.6 1221.2,3198.7 1227.8,3200.5C1234.4,3202.3 1242.4,3227.5 1249.7,3239.9C1257,3252.3 1265,3266.1 1271.5,3274.8C1278,3283.5 1282.5,3292.3 1289,3292.3C1295.5,3292.3 1303.5,3285.7 1310.8,3274.8C1318.1,3263.9 1327.8,3235.6 1332.7,3226.7C1337.6,3217.8 1337,3220.5 1340,3221.3C1343,3222.2 1347,3223.5 1350.5,3231.8C1354,3240.1 1357.5,3251.4 1361,3271.1C1364.5,3290.8 1368.5,3319.2 1371.5,3349.8C1374.5,3380.4 1376.7,3415.4 1379.3,3454.7C1381.9,3494 1385,3558.2 1387.2,3585.8C1389.4,3613.4 1390.6,3602 1392.4,3620C1394.2,3638 1396.1,3666.7 1398.3,3693.7C1400.5,3720.7 1403.5,3755.1 1405.7,3782.2C1407.9,3809.2 1409.4,3833.9 1411.6,3856C1413.8,3878.1 1416.3,3899.2 1419,3915C1421.7,3930.8 1424.8,3949.9 1427.8,3951.1C1430.8,3952.3 1434,3938.2 1436.7,3922.4C1439.4,3906.6 1441.6,3881.8 1444.1,3856C1446.5,3830.2 1448.7,3794.6 1451.4,3767.5C1454.1,3740.4 1457.3,3718.3 1460.3,3693.7C1463.2,3669.1 1466,3642.3 1469.1,3620C1472.2,3597.7 1474.7,3585 1479,3559.6C1483.3,3534.2 1489.5,3490.5 1494.7,3467.8C1500,3445.1 1504.4,3436.3 1510.5,3423.2C1516.6,3410.1 1524.9,3401.3 1531.4,3389.1C1538,3376.9 1543.2,3362.9 1549.8,3349.8C1556.4,3336.7 1563.8,3324.6 1570.8,3310.5C1577.8,3296.4 1586.1,3275.9 1591.8,3265C1597.5,3254.1 1600.7,3251 1605,3245C1609.3,3239 1612.7,3235.3 1617.8,3229.2C1622.9,3223.1 1630.2,3213.1 1635.7,3208.4C1641.2,3203.7 1645.5,3200.9 1650.5,3200.9C1655.5,3200.9 1660.9,3202.2 1665.4,3208.4C1669.9,3214.6 1673.3,3223.8 1677.3,3238.1C1681.3,3252.4 1685.2,3276.2 1689.2,3294.5C1693.2,3312.8 1697,3334.1 1701,3348C1705,3361.9 1708.9,3369.8 1712.9,3377.7C1716.9,3385.6 1720.8,3388.2 1724.8,3395.6C1728.8,3403 1732.7,3411.4 1736.7,3422.3C1740.7,3433.2 1744.1,3448.6 1748.6,3461C1753,3473.4 1758.5,3484.7 1763.4,3496.6C1768.4,3508.5 1773.3,3523.4 1778.3,3532.3C1783.3,3541.2 1788.2,3549.1 1793.2,3550.1C1798.2,3551.1 1803,3547.1 1808,3538.2C1813,3529.3 1818,3513.4 1822.9,3496.6C1827.9,3479.8 1832.8,3459.5 1837.7,3437.2C1842.7,3414.9 1847.6,3385.2 1852.6,3362.9C1857.6,3340.6 1862.5,3320.7 1867.5,3303.4C1872.5,3286.1 1877.3,3271.3 1882.3,3258.9C1887.2,3246.5 1892.2,3238.1 1897.2,3229.2C1902.2,3220.3 1907,3212.8 1912,3205.4C1917,3198 1923.9,3188.7 1926.9,3184.6C1929.9,3180.5 1929.5,3181.6 1930,3181" stroke="#0b4f4f" stroke-width="4.8"/>
</g>
<rect x="142" y="2972" width="1788.3" height="1231.5" fill="none" stroke="#111" stroke-width="6"/>
<line x1="142.3" y1="4203.5" x2="142.3" y2="4227.5" stroke="#111" stroke-width="5"/><line x1="667.8" y1="4203.5" x2="667.8" y2="4227.5" stroke="#111" stroke-width="5"/><line x1="1193.2" y1="4203.5" x2="1193.2" y2="4227.5" stroke="#111" stroke-width="5"/><line x1="1718.9" y1="4203.5" x2="1718.9" y2="4227.5" stroke="#111" stroke-width="5"/>
<g transform="matrix(1.0043 0 0 1.0241 151.67 114.38)"><text x="0" y="0" font-family="'DejaVu Sans', 'Liberation Sans', sans-serif" font-size="100" fill="#000" stroke="#000" stroke-width="0.79" stroke-linejoin="round">a</text></g>
<g transform="matrix(0.6494 0 0 0.6775 142.05 214.32)"><text x="0" y="0" font-family="'Liberation Sans', Arial, sans-serif" font-size="100" fill="#ff0000" stroke="#ff0000" stroke-width="1.21" stroke-linejoin="round">Cu-BNNTs</text></g>
<g transform="matrix(0.6570 0 0 0.6629 142.44 805.44)"><text x="0" y="0" font-family="'Liberation Sans', Arial, sans-serif" font-size="100" fill="#000" stroke="#000" stroke-width="1.21" stroke-linejoin="round">BNNTs</text></g>
<g transform="matrix(0.6087 0 0 0.6853 585.87 1445.13)"><text x="0" y="0" font-family="'DejaVu Sans', 'Liberation Sans', sans-serif" font-size="100" fill="#000" stroke="#000" stroke-width="1.26" stroke-linejoin="round">Wavenumber <tspan>(</tspan>cm<tspan font-size="0.75em" dx="-0.2em" dy="-0.51em">&#8722;</tspan><tspan font-size="0.75em" dx="-0.3em">1</tspan><tspan dy="0.38em">)</tspan></text></g>
<g transform="matrix(0.6853 0 0 0.6216 99.51 843.19)"><text x="0" y="0" transform="rotate(-90)" font-family="'DejaVu Sans', 'Liberation Sans', sans-serif" font-size="100" fill="#000" stroke="#000" stroke-width="1.22" stroke-linejoin="round">Intensity (a.u.)</text></g>
<g transform="matrix(1.1776 0 0 1.0487 175.40 1623.40)"><text x="0" y="0" font-family="'DejaVu Sans', 'Liberation Sans', sans-serif" font-size="100" fill="#000" stroke="#000" stroke-width="0.72" stroke-linejoin="round">b</text></g>
<g transform="matrix(0.7091 0 0 0.6547 630.47 2918.39)"><text x="0" y="0" font-family="'DejaVu Sans', 'Liberation Sans', sans-serif" font-size="100" fill="#000" stroke="#000" stroke-width="1.19" stroke-linejoin="round">Wavenumber <tspan>(</tspan>cm<tspan font-size="0.75em" dx="-0.2em" dy="-0.51em">&#8722;</tspan><tspan font-size="0.75em" dx="-0.3em">1</tspan><tspan dy="0.38em">)</tspan></text></g>
<g transform="matrix(0.9082 0 0 0.6969 103.70 2386.97)"><text x="0" y="0" transform="rotate(-90)" font-family="'DejaVu Sans', 'Liberation Sans', sans-serif" font-size="100" fill="#000" stroke="#000" stroke-width="1.00" stroke-linejoin="round">Intensity (a.u.)</text></g>
<g transform="matrix(0.5249 0 0 0.5000 423.15 1924.60)"><text x="0" y="0" font-family="'DejaVu Sans', 'Liberation Sans', sans-serif" font-size="100" fill="#000" stroke="#000" stroke-width="1.56" stroke-linejoin="round">1504.3</text></g>
<g transform="matrix(0.5270 0 0 0.5195 730.13 2639.06)"><text x="0" y="0" font-family="'DejaVu Sans', 'Liberation Sans', sans-serif" font-size="100" fill="#000" stroke="#000" stroke-width="1.53" stroke-linejoin="round">1349.3</text></g>
<g transform="matrix(0.5910 0 0 0.4563 1112.92 2106.16)"><text x="0" y="0" transform="rotate(-90)" font-family="'DejaVu Sans', 'Liberation Sans', sans-serif" font-size="100" fill="#000" stroke="#000" stroke-width="1.53" stroke-linejoin="round">1078.0</text></g>
<g transform="matrix(0.5910 0 0 0.4521 1191.22 2086.52)"><text x="0" y="0" transform="rotate(-90)" font-family="'DejaVu Sans', 'Liberation Sans', sans-serif" font-size="100" fill="#000" stroke="#000" stroke-width="1.53" stroke-linejoin="round">1019.6</text></g>
<g transform="matrix(0.6090 0 0 0.4680 1324.08 2128.21)"><text x="0" y="0" transform="rotate(-90)" font-family="'DejaVu Sans', 'Liberation Sans', sans-serif" font-size="100" fill="#000" stroke="#000" stroke-width="1.49" stroke-linejoin="round">883.7</text></g>
<g transform="matrix(0.5356 0 0 0.4935 1357.75 2475.11)"><text x="0" y="0" font-family="'DejaVu Sans', 'Liberation Sans', sans-serif" font-size="100" fill="#000" stroke="#000" stroke-width="1.55" stroke-linejoin="round">767.4</text></g>
<g transform="matrix(0.5343 0 0 0.5104 1498.19 2177.88)"><text x="0" y="0" font-family="'DejaVu Sans', 'Liberation Sans', sans-serif" font-size="100" fill="#000" stroke="#000" stroke-width="1.53" stroke-linejoin="round">685.8</text></g>
<g transform="matrix(0.5342 0 0 0.5000 1671.06 1918.20)"><text x="0" y="0" font-family="'DejaVu Sans', 'Liberation Sans', sans-serif" font-size="100" fill="#000" stroke="#000" stroke-width="1.55" stroke-linejoin="round">453.3</text></g>
<g transform="matrix(1.2205 0 0 1.0397 159.50 3083.56)"><text x="0" y="0" font-family="'DejaVu Sans', 'Liberation Sans', sans-serif" font-size="100" fill="#000" stroke="#000" stroke-width="0.71" stroke-linejoin="round">c</text></g>
<g transform="matrix(0.7154 0 0 0.6295 681.15 4378.44)"><text x="0" y="0" font-family="'DejaVu Sans', 'Liberation Sans', sans-serif" font-size="100" fill="#000" stroke="#000" stroke-width="1.21" stroke-linejoin="round">Wavenumber <tspan>(</tspan>cm<tspan font-size="0.75em" dx="-0.2em" dy="-0.51em">&#8722;</tspan><tspan font-size="0.75em" dx="-0.3em">1</tspan><tspan dy="0.38em">)</tspan></text></g>
<g transform="matrix(0.8459 0 0 0.6374 93.85 3765.54)"><text x="0" y="0" transform="rotate(-90)" font-family="'DejaVu Sans', 'Liberation Sans', sans-serif" font-size="100" fill="#000" stroke="#000" stroke-width="1.08" stroke-linejoin="round">Intensity (a.u)</text></g>
<g transform="matrix(0.5374 0 0 0.5312 378.53 3370.04)"><text x="0" y="0" font-family="'DejaVu Sans', 'Liberation Sans', sans-serif" font-size="100" fill="#000" stroke="#000" stroke-width="1.50" stroke-linejoin="round">1527.6</text></g>
<g transform="matrix(0.5377 0 0 0.5338 688.42 4141.03)"><text x="0" y="0" font-family="'DejaVu Sans', 'Liberation Sans', sans-serif" font-size="100" fill="#000" stroke="#000" stroke-width="1.49" stroke-linejoin="round">1364.8</text></g>
<g transform="matrix(0.6154 0 0 0.4581 1117.27 3449.88)"><text x="0" y="0" transform="rotate(-90)" font-family="'DejaVu Sans', 'Liberation Sans', sans-serif" font-size="100" fill="#000" stroke="#000" stroke-width="1.49" stroke-linejoin="round">1085.6</text></g>
<g transform="matrix(0.6167 0 0 0.4658 1226.57 3395.59)"><text x="0" y="0" transform="rotate(-90)" font-family="'DejaVu Sans', 'Liberation Sans', sans-serif" font-size="100" fill="#000" stroke="#000" stroke-width="1.48" stroke-linejoin="round">984.5</text></g>
<g transform="matrix(0.6519 0 0 0.4785 1324.80 3448.17)"><text x="0" y="0" transform="rotate(-90)" font-family="'DejaVu Sans', 'Liberation Sans', sans-serif" font-size="100" fill="#000" stroke="#000" stroke-width="1.42" stroke-linejoin="round">907.0</text></g>
<g transform="matrix(0.5417 0 0 0.5360 1370.21 4028.56)"><text x="0" y="0" font-family="'DejaVu Sans', 'Liberation Sans', sans-serif" font-size="100" fill="#000" stroke="#000" stroke-width="1.48" stroke-linejoin="round">771.1</text></g>
<g transform="matrix(0.5401 0 0 0.5221 1527.52 3472.06)"><text x="0" y="0" font-family="'DejaVu Sans', 'Liberation Sans', sans-serif" font-size="100" fill="#000" stroke="#000" stroke-width="1.51" stroke-linejoin="round">701.3</text></g>
<g transform="matrix(0.5438 0 0 0.5013 1724.12 3621.90)"><text x="0" y="0" font-family="'DejaVu Sans', 'Liberation Sans', sans-serif" font-size="100" fill="#000" stroke="#000" stroke-width="1.53" stroke-linejoin="round">426.0</text></g>
<g transform="matrix(0.5161 0 0 0.5288 76.77 1340.94)"><text x="0" y="0" font-family="'Liberation Sans', Arial, sans-serif" font-size="100" fill="#000" stroke="#000" stroke-width="1.53" stroke-linejoin="round">4500</text></g>
<g transform="matrix(0.5161 0 0 0.5288 288.47 1340.94)"><text x="0" y="0" font-family="'Liberation Sans', Arial, sans-serif" font-size="100" fill="#000" stroke="#000" stroke-width="1.53" stroke-linejoin="round">4000</text></g>
<g transform="matrix(0.5185 0 0 0.5288 496.64 1340.94)"><text x="0" y="0" font-family="'Liberation Sans', Arial, sans-serif" font-size="100" fill="#000" stroke="#000" stroke-width="1.53" stroke-linejoin="round">3500</text></g>
<g transform="matrix(0.5185 0 0 0.5288 705.34 1340.94)"><text x="0" y="0" font-family="'Liberation Sans', Arial, sans-serif" font-size="100" fill="#000" stroke="#000" stroke-width="1.53" stroke-linejoin="round">3000</text></g>
<g transform="matrix(0.5209 0 0 0.5288 913.52 1340.94)"><text x="0" y="0" font-family="'Liberation Sans', Arial, sans-serif" font-size="100" fill="#000" stroke="#000" stroke-width="1.52" stroke-linejoin="round">2500</text></g>
<g transform="matrix(0.5209 0 0 0.5288 1122.22 1340.94)"><text x="0" y="0" font-family="'Liberation Sans', Arial, sans-serif" font-size="100" fill="#000" stroke="#000" stroke-width="1.52" stroke-linejoin="round">2000</text></g>
<g transform="matrix(0.5113 0 0 0.5288 1331.22 1340.94)"><text x="0" y="0" font-family="'Liberation Sans', Arial, sans-serif" font-size="100" fill="#000" stroke="#000" stroke-width="1.54" stroke-linejoin="round">1500</text></g>
<g transform="matrix(0.5113 0 0 0.5288 1539.92 1340.94)"><text x="0" y="0" font-family="'Liberation Sans', Arial, sans-serif" font-size="100" fill="#000" stroke="#000" stroke-width="1.54" stroke-linejoin="round">1000</text></g>
<g transform="matrix(0.5081 0 0 0.5288 1763.98 1340.94)"><text x="0" y="0" font-family="'Liberation Sans', Arial, sans-serif" font-size="100" fill="#000" stroke="#000" stroke-width="1.54" stroke-linejoin="round">500</text></g>
<g transform="matrix(0.6014 0 0 0.5479 82.09 2823.90)"><text x="0" y="0" font-family="'Liberation Sans', Arial, sans-serif" font-size="100" fill="#000" stroke="#000" stroke-width="1.39" stroke-linejoin="round">2000</text></g>
<g transform="matrix(0.5896 0 0 0.5479 601.07 2823.90)"><text x="0" y="0" font-family="'Liberation Sans', Arial, sans-serif" font-size="100" fill="#000" stroke="#000" stroke-width="1.41" stroke-linejoin="round">1500</text></g>
<g transform="matrix(0.5920 0 0 0.5479 1117.26 2823.90)"><text x="0" y="0" font-family="'Liberation Sans', Arial, sans-serif" font-size="100" fill="#000" stroke="#000" stroke-width="1.40" stroke-linejoin="round">1000</text></g>
<g transform="matrix(0.5888 0 0 0.5479 1649.03 2823.90)"><text x="0" y="0" font-family="'Liberation Sans', Arial, sans-serif" font-size="100" fill="#000" stroke="#000" stroke-width="1.41" stroke-linejoin="round">500</text></g>
<g transform="matrix(0.6158 0 0 0.5644 72.74 4286.87)"><text x="0" y="0" font-family="'Liberation Sans', Arial, sans-serif" font-size="100" fill="#000" stroke="#000" stroke-width="1.36" stroke-linejoin="round">2000</text></g>
<g transform="matrix(0.5991 0 0 0.5644 600.11 4286.87)"><text x="0" y="0" font-family="'Liberation Sans', Arial, sans-serif" font-size="100" fill="#000" stroke="#000" stroke-width="1.38" stroke-linejoin="round">1500</text></g>
<g transform="matrix(0.5991 0 0 0.5644 1125.51 4286.87)"><text x="0" y="0" font-family="'Liberation Sans', Arial, sans-serif" font-size="100" fill="#000" stroke="#000" stroke-width="1.38" stroke-linejoin="round">1000</text></g>
<g transform="matrix(0.6143 0 0 0.5644 1668.36 4286.87)"><text x="0" y="0" font-family="'Liberation Sans', Arial, sans-serif" font-size="100" fill="#000" stroke="#000" stroke-width="1.36" stroke-linejoin="round">500</text></g>
</svg></body></html>
